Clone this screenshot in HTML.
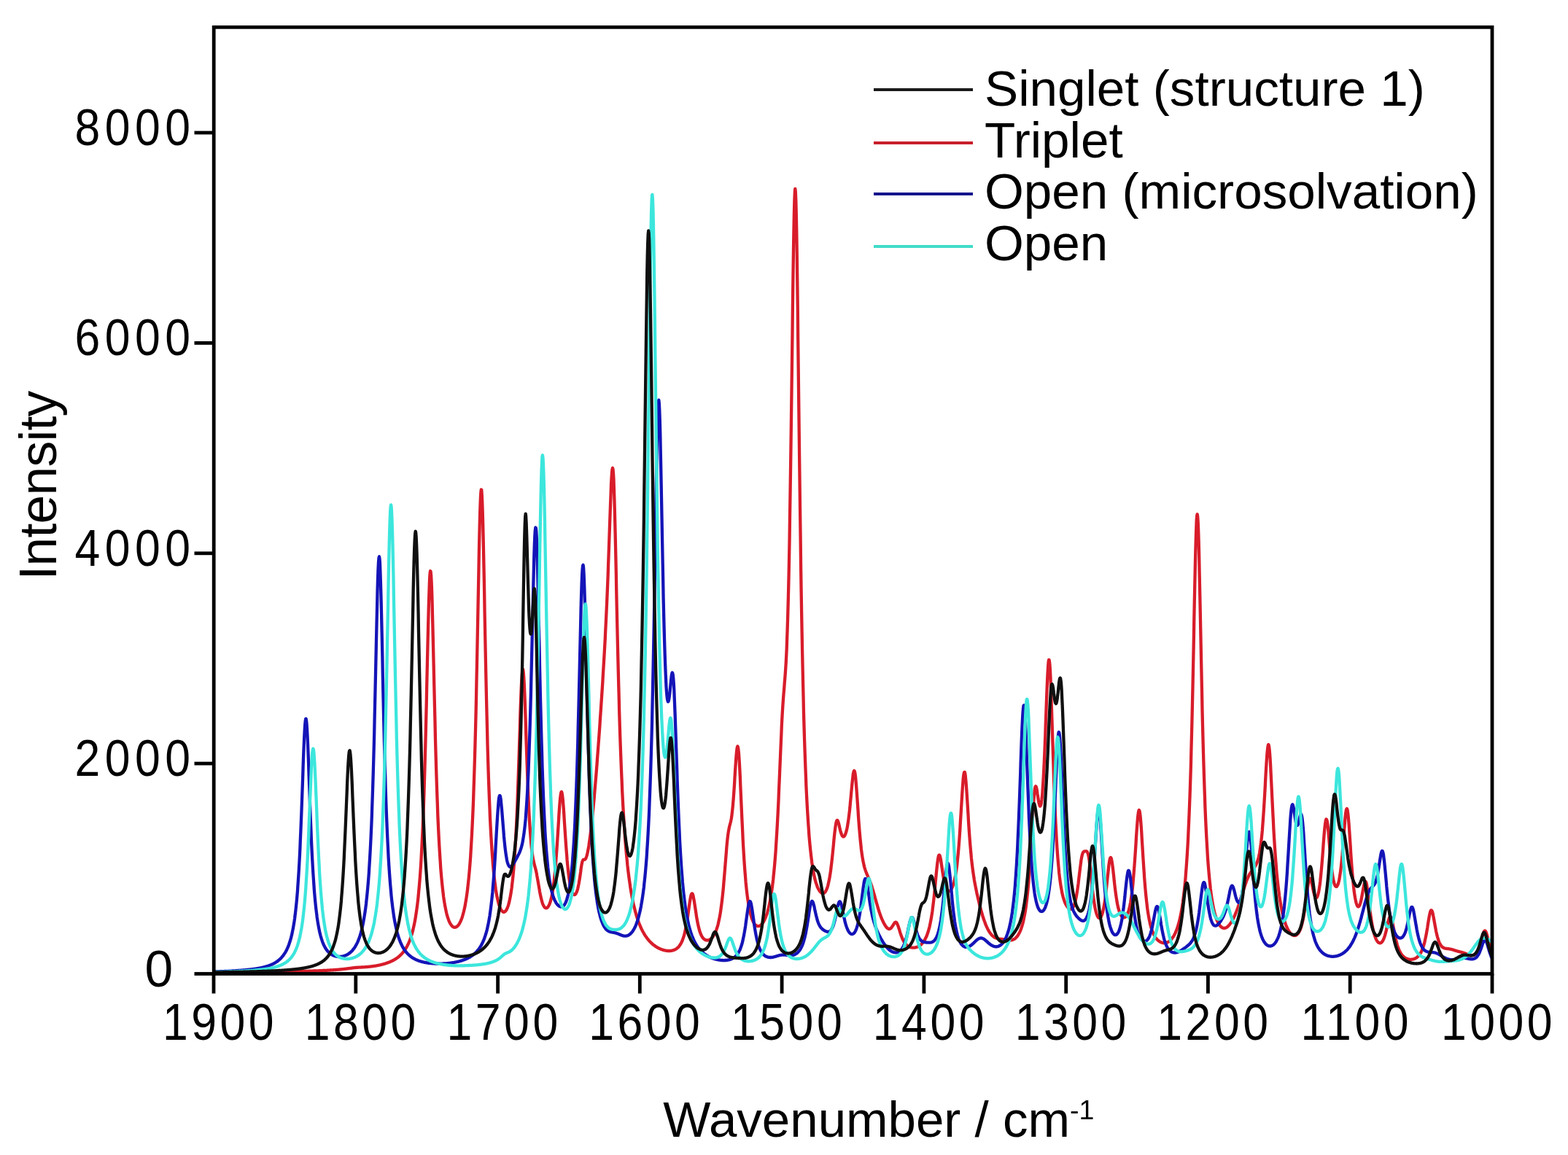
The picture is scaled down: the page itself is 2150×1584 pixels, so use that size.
<!DOCTYPE html>
<html><head><meta charset="utf-8"><title>Spectra</title><style>html,body{margin:0;padding:0;background:#fff;width:2150px;height:1584px;overflow:hidden;}svg{display:block;}</style></head><body>
<svg width="2150" height="1584" viewBox="0 0 2150 1584">
<defs><clipPath id="pc"><rect x="293.2" y="37.3" width="1752.8" height="1298.2"/></clipPath></defs>
<rect x="0" y="0" width="2150" height="1584" fill="#ffffff"/>
<g clip-path="url(#pc)" fill="none" stroke-linejoin="round" stroke-linecap="round">
<path d="M293.0,1333.7 L293.5,1333.7 L294.0,1333.7 L294.5,1333.7 L294.9,1333.7 L295.4,1333.7 L295.9,1333.7 L296.4,1333.7 L296.9,1333.7 L297.4,1333.7 L297.9,1333.7 L298.4,1333.7 L298.8,1333.7 L299.3,1333.7 L299.8,1333.7 L300.3,1333.7 L300.8,1333.7 L301.3,1333.7 L301.8,1333.7 L302.3,1333.7 L302.7,1333.7 L303.2,1333.7 L303.7,1333.7 L304.2,1333.7 L304.7,1333.7 L305.2,1333.7 L305.7,1333.6 L306.2,1333.6 L306.6,1333.6 L307.1,1333.6 L307.6,1333.6 L308.1,1333.6 L308.6,1333.6 L309.1,1333.6 L309.6,1333.6 L310.0,1333.6 L310.5,1333.6 L311.0,1333.6 L311.5,1333.6 L312.0,1333.6 L312.5,1333.6 L313.0,1333.6 L313.5,1333.6 L313.9,1333.6 L314.4,1333.6 L314.9,1333.6 L315.4,1333.6 L315.9,1333.6 L316.4,1333.6 L316.9,1333.5 L317.4,1333.5 L317.8,1333.5 L318.3,1333.5 L318.8,1333.5 L319.3,1333.5 L319.8,1333.5 L320.3,1333.5 L320.8,1333.5 L321.3,1333.5 L321.7,1333.5 L322.2,1333.5 L322.7,1333.5 L323.2,1333.5 L323.7,1333.5 L324.2,1333.5 L324.7,1333.5 L325.1,1333.5 L325.6,1333.5 L326.1,1333.5 L326.6,1333.5 L327.1,1333.4 L327.6,1333.4 L328.1,1333.4 L328.6,1333.4 L329.0,1333.4 L329.5,1333.4 L330.0,1333.4 L330.5,1333.4 L331.0,1333.4 L331.5,1333.4 L332.0,1333.4 L332.5,1333.4 L332.9,1333.4 L333.4,1333.4 L333.9,1333.4 L334.4,1333.4 L334.9,1333.4 L335.4,1333.4 L335.9,1333.4 L336.4,1333.4 L336.8,1333.3 L337.3,1333.3 L337.8,1333.3 L338.3,1333.3 L338.8,1333.3 L339.3,1333.3 L339.8,1333.3 L340.2,1333.3 L340.7,1333.3 L341.2,1333.3 L341.7,1333.3 L342.2,1333.3 L342.7,1333.3 L343.2,1333.3 L343.7,1333.3 L344.1,1333.3 L344.6,1333.3 L345.1,1333.2 L345.6,1333.2 L346.1,1333.2 L346.6,1333.2 L347.1,1333.2 L347.6,1333.2 L348.0,1333.2 L348.5,1333.2 L349.0,1333.2 L349.5,1333.2 L350.0,1333.2 L350.5,1333.2 L351.0,1333.2 L351.4,1333.2 L351.9,1333.2 L352.4,1333.2 L352.9,1333.2 L353.4,1333.1 L353.9,1333.1 L354.4,1333.1 L354.9,1333.1 L355.3,1333.1 L355.8,1333.1 L356.3,1333.1 L356.8,1333.1 L357.3,1333.1 L357.8,1333.1 L358.3,1333.1 L358.8,1333.1 L359.2,1333.1 L359.7,1333.1 L360.2,1333.1 L360.7,1333.0 L361.2,1333.0 L361.7,1333.0 L362.2,1333.0 L362.7,1333.0 L363.1,1333.0 L363.6,1333.0 L364.1,1333.0 L364.6,1333.0 L365.1,1333.0 L365.6,1333.0 L366.1,1333.0 L366.5,1333.0 L367.0,1333.0 L367.5,1332.9 L368.0,1332.9 L368.5,1332.9 L369.0,1332.9 L369.5,1332.9 L370.0,1332.9 L370.4,1332.9 L370.9,1332.9 L371.4,1332.9 L371.9,1332.9 L372.4,1332.9 L372.9,1332.9 L373.4,1332.9 L373.9,1332.9 L374.3,1332.8 L374.8,1332.8 L375.3,1332.8 L375.8,1332.8 L376.3,1332.8 L376.8,1332.8 L377.3,1332.8 L377.8,1332.8 L378.2,1332.8 L378.7,1332.8 L379.2,1332.8 L379.7,1332.8 L380.2,1332.7 L380.7,1332.7 L381.2,1332.7 L381.6,1332.7 L382.1,1332.7 L382.6,1332.7 L383.1,1332.7 L383.6,1332.7 L384.1,1332.7 L384.6,1332.7 L385.1,1332.7 L385.5,1332.7 L386.0,1332.6 L386.5,1332.6 L387.0,1332.6 L387.5,1332.6 L388.0,1332.6 L388.5,1332.6 L389.0,1332.6 L389.4,1332.6 L389.9,1332.6 L390.4,1332.6 L390.9,1332.5 L391.4,1332.5 L391.9,1332.5 L392.4,1332.5 L392.9,1332.5 L393.3,1332.5 L393.8,1332.5 L394.3,1332.5 L394.8,1332.5 L395.3,1332.5 L395.8,1332.5 L396.3,1332.4 L396.7,1332.4 L397.2,1332.4 L397.7,1332.4 L398.2,1332.4 L398.7,1332.4 L399.2,1332.4 L399.7,1332.4 L400.2,1332.4 L400.6,1332.3 L401.1,1332.3 L401.6,1332.3 L402.1,1332.3 L402.6,1332.3 L403.1,1332.3 L403.6,1332.3 L404.1,1332.3 L404.5,1332.3 L405.0,1332.2 L405.5,1332.2 L406.0,1332.2 L406.5,1332.2 L407.0,1332.2 L407.5,1332.2 L408.0,1332.2 L408.4,1332.2 L408.9,1332.2 L409.4,1332.1 L409.9,1332.1 L410.4,1332.1 L410.9,1332.1 L411.4,1332.1 L411.8,1332.1 L412.3,1332.1 L412.8,1332.1 L413.3,1332.0 L413.8,1332.0 L414.3,1332.0 L414.8,1332.0 L415.3,1332.0 L415.7,1332.0 L416.2,1332.0 L416.7,1331.9 L417.2,1331.9 L417.7,1331.9 L418.2,1331.9 L418.7,1331.9 L419.2,1331.9 L419.6,1331.9 L420.1,1331.8 L420.6,1331.8 L421.1,1331.8 L421.6,1331.8 L422.1,1331.8 L422.6,1331.8 L423.1,1331.8 L423.5,1331.7 L424.0,1331.7 L424.5,1331.7 L425.0,1331.7 L425.5,1331.7 L426.0,1331.7 L426.5,1331.7 L426.9,1331.6 L427.4,1331.6 L427.9,1331.6 L428.4,1331.6 L428.9,1331.6 L429.4,1331.6 L429.9,1331.5 L430.4,1331.5 L430.8,1331.5 L431.3,1331.5 L431.8,1331.5 L432.3,1331.4 L432.8,1331.4 L433.3,1331.4 L433.8,1331.4 L434.3,1331.4 L434.7,1331.4 L435.2,1331.3 L435.7,1331.3 L436.2,1331.3 L436.7,1331.3 L437.2,1331.3 L437.7,1331.2 L438.1,1331.2 L438.6,1331.2 L439.1,1331.2 L439.6,1331.2 L440.1,1331.1 L440.6,1331.1 L441.1,1331.1 L441.6,1331.1 L442.0,1331.1 L442.5,1331.0 L443.0,1331.0 L443.5,1331.0 L444.0,1331.0 L444.5,1330.9 L445.0,1330.9 L445.5,1330.9 L445.9,1330.9 L446.4,1330.8 L446.9,1330.8 L447.4,1330.8 L447.9,1330.8 L448.4,1330.8 L448.9,1330.7 L449.4,1330.7 L449.8,1330.7 L450.3,1330.6 L450.8,1330.6 L451.3,1330.6 L451.8,1330.6 L452.3,1330.5 L452.8,1330.5 L453.2,1330.5 L453.7,1330.4 L454.2,1330.4 L454.7,1330.4 L455.2,1330.4 L455.7,1330.3 L456.2,1330.3 L456.7,1330.3 L457.1,1330.2 L457.6,1330.2 L458.1,1330.2 L458.6,1330.1 L459.1,1330.1 L459.6,1330.1 L460.1,1330.0 L460.6,1330.0 L461.0,1330.0 L461.5,1329.9 L462.0,1329.9 L462.5,1329.8 L463.0,1329.8 L463.5,1329.8 L464.0,1329.7 L464.5,1329.7 L464.9,1329.6 L465.4,1329.6 L465.9,1329.5 L466.4,1329.5 L466.9,1329.5 L467.4,1329.4 L467.9,1329.4 L468.3,1329.3 L468.8,1329.3 L469.3,1329.2 L469.8,1329.2 L470.3,1329.1 L470.8,1329.1 L471.3,1329.0 L471.8,1328.9 L472.2,1328.9 L472.7,1328.8 L473.2,1328.8 L473.7,1328.7 L474.2,1328.7 L474.7,1328.6 L475.2,1328.5 L475.7,1328.5 L476.1,1328.4 L476.6,1328.4 L477.1,1328.3 L477.6,1328.2 L478.1,1328.2 L478.6,1328.1 L479.1,1328.0 L479.6,1328.0 L480.0,1327.9 L480.5,1327.8 L481.0,1327.8 L481.5,1327.7 L482.0,1327.6 L482.5,1327.6 L483.0,1327.5 L483.4,1327.5 L483.9,1327.4 L484.4,1327.4 L484.9,1327.3 L485.4,1327.2 L485.9,1327.2 L486.4,1327.1 L486.9,1327.1 L487.3,1327.0 L487.8,1327.0 L488.3,1327.0 L488.8,1326.9 L489.3,1326.9 L489.8,1326.8 L490.3,1326.8 L490.8,1326.8 L491.2,1326.7 L491.7,1326.7 L492.2,1326.7 L492.7,1326.7 L493.2,1326.6 L493.7,1326.6 L494.2,1326.6 L494.7,1326.6 L495.1,1326.5 L495.6,1326.5 L496.1,1326.5 L496.6,1326.5 L497.1,1326.4 L497.6,1326.4 L498.1,1326.4 L498.5,1326.4 L499.0,1326.3 L499.5,1326.3 L500.0,1326.3 L500.5,1326.2 L501.0,1326.2 L501.5,1326.2 L502.0,1326.1 L502.4,1326.1 L502.9,1326.1 L503.4,1326.0 L503.9,1326.0 L504.4,1325.9 L504.9,1325.9 L505.4,1325.8 L505.9,1325.8 L506.3,1325.7 L506.8,1325.7 L507.3,1325.6 L507.8,1325.6 L508.3,1325.5 L508.8,1325.5 L509.3,1325.4 L509.8,1325.4 L510.2,1325.3 L510.7,1325.2 L511.2,1325.2 L511.7,1325.1 L512.2,1325.0 L512.7,1324.9 L513.2,1324.9 L513.6,1324.8 L514.1,1324.7 L514.6,1324.6 L515.1,1324.6 L515.6,1324.5 L516.1,1324.4 L516.6,1324.3 L517.1,1324.2 L517.5,1324.1 L518.0,1324.0 L518.5,1323.9 L519.0,1323.8 L519.5,1323.7 L520.0,1323.6 L520.5,1323.5 L521.0,1323.4 L521.4,1323.3 L521.9,1323.2 L522.4,1323.1 L522.9,1323.0 L523.4,1322.8 L523.9,1322.7 L524.4,1322.6 L524.8,1322.5 L525.3,1322.3 L525.8,1322.2 L526.3,1322.1 L526.8,1321.9 L527.3,1321.8 L527.8,1321.6 L528.3,1321.5 L528.7,1321.3 L529.2,1321.2 L529.7,1321.0 L530.2,1320.8 L530.7,1320.7 L531.2,1320.5 L531.7,1320.3 L532.2,1320.1 L532.6,1320.0 L533.1,1319.8 L533.6,1319.6 L534.1,1319.4 L534.6,1319.2 L535.1,1319.0 L535.6,1318.8 L536.1,1318.5 L536.5,1318.3 L537.0,1318.1 L537.5,1317.9 L538.0,1317.6 L538.5,1317.4 L539.0,1317.1 L539.5,1316.9 L539.9,1316.6 L540.4,1316.3 L540.9,1316.0 L541.4,1315.7 L541.9,1315.5 L542.4,1315.1 L542.9,1314.8 L543.4,1314.5 L543.8,1314.2 L544.3,1313.8 L544.8,1313.5 L545.3,1313.1 L545.8,1312.8 L546.3,1312.4 L546.8,1312.0 L547.3,1311.6 L547.7,1311.1 L548.2,1310.7 L548.7,1310.3 L549.2,1309.8 L549.7,1309.3 L550.2,1308.8 L550.7,1308.3 L551.2,1307.8 L551.6,1307.2 L552.1,1306.7 L552.6,1306.1 L553.1,1305.5 L553.6,1304.9 L554.1,1304.2 L554.6,1303.5 L555.0,1302.9 L555.5,1302.1 L556.0,1301.4 L556.5,1300.6 L557.0,1299.8 L557.5,1298.9 L558.0,1298.1 L558.5,1297.1 L558.9,1296.2 L559.4,1295.2 L559.9,1294.2 L560.4,1293.1 L560.9,1291.9 L561.4,1290.8 L561.9,1289.5 L562.4,1288.2 L562.8,1286.9 L563.3,1285.5 L563.8,1284.0 L564.3,1282.4 L564.8,1280.8 L565.3,1279.1 L565.8,1277.2 L566.3,1275.3 L566.7,1273.3 L567.2,1271.2 L567.7,1269.0 L568.2,1266.6 L568.7,1264.1 L569.2,1261.5 L569.7,1258.7 L570.1,1255.8 L570.6,1252.6 L571.1,1249.3 L571.6,1245.7 L572.1,1242.0 L572.6,1238.0 L573.1,1233.7 L573.6,1229.1 L574.0,1224.3 L574.5,1219.0 L575.0,1213.5 L575.5,1207.5 L576.0,1201.1 L576.5,1194.2 L577.0,1186.9 L577.5,1178.9 L577.9,1170.4 L578.4,1161.2 L578.9,1151.4 L579.4,1140.8 L579.9,1129.4 L580.4,1117.1 L580.9,1103.9 L581.4,1089.8 L581.8,1074.6 L582.3,1058.4 L582.8,1041.2 L583.3,1022.9 L583.8,1003.6 L584.3,983.4 L584.8,962.3 L585.2,940.7 L585.7,918.8 L586.2,896.8 L586.7,875.3 L587.2,854.7 L587.7,835.6 L588.2,818.7 L588.7,804.4 L589.1,793.4 L589.6,786.2 L590.1,783.0 L590.6,784.0 L591.1,789.1 L591.6,798.2 L592.1,810.7 L592.6,826.2 L593.0,844.1 L593.5,863.8 L594.0,884.7 L594.5,906.2 L595.0,928.0 L595.5,949.5 L596.0,970.6 L596.5,990.9 L596.9,1010.4 L597.4,1028.8 L597.9,1046.3 L598.4,1062.7 L598.9,1078.0 L599.4,1092.3 L599.9,1105.7 L600.3,1118.1 L600.8,1129.6 L601.3,1140.2 L601.8,1150.1 L602.3,1159.3 L602.8,1167.8 L603.3,1175.7 L603.8,1183.0 L604.2,1189.8 L604.7,1196.0 L605.2,1201.9 L605.7,1207.3 L606.2,1212.3 L606.7,1217.0 L607.2,1221.3 L607.7,1225.4 L608.1,1229.2 L608.6,1232.7 L609.1,1235.9 L609.6,1239.0 L610.1,1241.8 L610.6,1244.4 L611.1,1246.9 L611.6,1249.2 L612.0,1251.3 L612.5,1253.3 L613.0,1255.1 L613.5,1256.8 L614.0,1258.4 L614.5,1259.9 L615.0,1261.3 L615.4,1262.5 L615.9,1263.7 L616.4,1264.8 L616.9,1265.7 L617.4,1266.6 L617.9,1267.4 L618.4,1268.2 L618.9,1268.8 L619.3,1269.4 L619.8,1269.9 L620.3,1270.4 L620.8,1270.8 L621.3,1271.1 L621.8,1271.4 L622.3,1271.6 L622.8,1271.7 L623.2,1271.8 L623.7,1271.8 L624.2,1271.7 L624.7,1271.6 L625.2,1271.5 L625.7,1271.2 L626.2,1271.0 L626.6,1270.6 L627.1,1270.2 L627.6,1269.7 L628.1,1269.2 L628.6,1268.6 L629.1,1267.9 L629.6,1267.2 L630.1,1266.4 L630.5,1265.5 L631.0,1264.6 L631.5,1263.6 L632.0,1262.4 L632.5,1261.2 L633.0,1260.0 L633.5,1258.6 L634.0,1257.1 L634.4,1255.5 L634.9,1253.8 L635.4,1252.0 L635.9,1250.1 L636.4,1248.0 L636.9,1245.8 L637.4,1243.5 L637.9,1241.0 L638.3,1238.3 L638.8,1235.5 L639.3,1232.5 L639.8,1229.2 L640.3,1225.8 L640.8,1222.1 L641.3,1218.1 L641.7,1213.9 L642.2,1209.4 L642.7,1204.6 L643.2,1199.4 L643.7,1193.9 L644.2,1187.9 L644.7,1181.5 L645.2,1174.7 L645.6,1167.3 L646.1,1159.4 L646.6,1150.9 L647.1,1141.7 L647.6,1131.8 L648.1,1121.2 L648.6,1109.7 L649.1,1097.4 L649.5,1084.1 L650.0,1069.7 L650.5,1054.3 L651.0,1037.8 L651.5,1020.0 L652.0,1001.1 L652.5,980.8 L653.0,959.3 L653.4,936.6 L653.9,912.8 L654.4,888.0 L654.9,862.4 L655.4,836.4 L655.9,810.2 L656.4,784.6 L656.8,759.9 L657.3,736.9 L657.8,716.3 L658.3,698.8 L658.8,685.2 L659.3,675.9 L659.8,671.4 L660.3,671.8 L660.7,677.3 L661.2,687.4 L661.7,701.8 L662.2,719.9 L662.7,741.0 L663.2,764.2 L663.7,789.0 L664.2,814.7 L664.6,840.7 L665.1,866.5 L665.6,891.8 L666.1,916.3 L666.6,939.7 L667.1,962.0 L667.6,983.1 L668.1,1002.9 L668.5,1021.5 L669.0,1038.8 L669.5,1054.9 L670.0,1069.9 L670.5,1083.8 L671.0,1096.8 L671.5,1108.7 L671.9,1119.8 L672.4,1130.1 L672.9,1139.7 L673.4,1148.5 L673.9,1156.7 L674.4,1164.3 L674.9,1171.3 L675.4,1177.9 L675.8,1184.0 L676.3,1189.6 L676.8,1194.8 L677.3,1199.7 L677.8,1204.2 L678.3,1208.4 L678.8,1212.3 L679.3,1216.0 L679.7,1219.3 L680.2,1222.5 L680.7,1225.4 L681.2,1228.1 L681.7,1230.6 L682.2,1232.9 L682.7,1235.0 L683.2,1237.0 L683.6,1238.8 L684.1,1240.5 L684.6,1242.0 L685.1,1243.4 L685.6,1244.6 L686.1,1245.8 L686.6,1246.8 L687.0,1247.7 L687.5,1248.4 L688.0,1249.1 L688.5,1249.6 L689.0,1250.1 L689.5,1250.4 L690.0,1250.7 L690.5,1250.8 L690.9,1250.8 L691.4,1250.7 L691.9,1250.5 L692.4,1250.2 L692.9,1249.8 L693.4,1249.3 L693.9,1248.6 L694.4,1247.9 L694.8,1247.0 L695.3,1246.0 L695.8,1244.8 L696.3,1243.5 L696.8,1242.1 L697.3,1240.5 L697.8,1238.7 L698.3,1236.8 L698.7,1234.6 L699.2,1232.3 L699.7,1229.8 L700.2,1227.0 L700.7,1224.0 L701.2,1220.7 L701.7,1217.2 L702.1,1213.4 L702.6,1209.2 L703.1,1204.7 L703.6,1199.8 L704.1,1194.5 L704.6,1188.7 L705.1,1182.5 L705.6,1175.8 L706.0,1168.5 L706.5,1160.6 L707.0,1152.1 L707.5,1143.0 L708.0,1133.1 L708.5,1122.6 L709.0,1111.2 L709.5,1099.1 L709.9,1086.3 L710.4,1072.7 L710.9,1058.5 L711.4,1043.7 L711.9,1028.5 L712.4,1013.0 L712.9,997.5 L713.3,982.4 L713.8,967.9 L714.3,954.5 L714.8,942.6 L715.3,932.6 L715.8,924.9 L716.3,919.8 L716.8,917.6 L717.2,918.3 L717.7,921.9 L718.2,928.2 L718.7,936.9 L719.2,947.7 L719.7,960.0 L720.2,973.6 L720.7,987.9 L721.1,1002.6 L721.6,1017.4 L722.1,1032.0 L722.6,1046.2 L723.1,1059.8 L723.6,1072.7 L724.1,1084.8 L724.6,1096.2 L725.0,1106.7 L725.5,1116.4 L726.0,1125.3 L726.5,1133.4 L727.0,1140.8 L727.5,1147.4 L728.0,1153.4 L728.4,1158.7 L728.9,1163.4 L729.4,1167.6 L729.9,1171.3 L730.4,1174.5 L730.9,1177.4 L731.4,1179.8 L731.9,1182.1 L732.3,1184.1 L732.8,1186.0 L733.3,1187.8 L733.8,1189.7 L734.3,1191.6 L734.8,1193.6 L735.3,1195.8 L735.8,1198.1 L736.2,1200.6 L736.7,1203.3 L737.2,1206.1 L737.7,1208.9 L738.2,1211.8 L738.7,1214.7 L739.2,1217.6 L739.7,1220.4 L740.1,1223.1 L740.6,1225.6 L741.1,1228.1 L741.6,1230.3 L742.1,1232.4 L742.6,1234.3 L743.1,1236.1 L743.5,1237.6 L744.0,1239.1 L744.5,1240.3 L745.0,1241.4 L745.5,1242.4 L746.0,1243.2 L746.5,1243.9 L747.0,1244.4 L747.4,1244.8 L747.9,1245.1 L748.4,1245.3 L748.9,1245.4 L749.4,1245.3 L749.9,1245.1 L750.4,1244.8 L750.9,1244.4 L751.3,1243.8 L751.8,1243.2 L752.3,1242.4 L752.8,1241.4 L753.3,1240.4 L753.8,1239.1 L754.3,1237.8 L754.8,1236.2 L755.2,1234.5 L755.7,1232.6 L756.2,1230.6 L756.7,1228.3 L757.2,1225.7 L757.7,1223.0 L758.2,1219.9 L758.6,1216.6 L759.1,1213.0 L759.6,1209.1 L760.1,1204.8 L760.6,1200.1 L761.1,1195.1 L761.6,1189.7 L762.1,1183.9 L762.5,1177.7 L763.0,1171.1 L763.5,1164.1 L764.0,1156.8 L764.5,1149.1 L765.0,1141.3 L765.5,1133.3 L766.0,1125.4 L766.4,1117.7 L766.9,1110.3 L767.4,1103.5 L767.9,1097.6 L768.4,1092.7 L768.9,1089.0 L769.4,1086.7 L769.9,1085.9 L770.3,1086.6 L770.8,1088.8 L771.3,1092.4 L771.8,1097.1 L772.3,1102.9 L772.8,1109.4 L773.3,1116.5 L773.7,1124.0 L774.2,1131.6 L774.7,1139.2 L775.2,1146.7 L775.7,1154.0 L776.2,1160.9 L776.7,1167.5 L777.2,1173.7 L777.6,1179.5 L778.1,1184.9 L778.6,1189.9 L779.1,1194.5 L779.6,1198.7 L780.1,1202.5 L780.6,1206.0 L781.1,1209.1 L781.5,1212.0 L782.0,1214.5 L782.5,1216.8 L783.0,1218.8 L783.5,1220.6 L784.0,1222.1 L784.5,1223.4 L785.0,1224.5 L785.4,1225.4 L785.9,1226.1 L786.4,1226.6 L786.9,1227.0 L787.4,1227.1 L787.9,1227.1 L788.4,1226.9 L788.8,1226.5 L789.3,1226.0 L789.8,1225.2 L790.3,1224.3 L790.8,1223.2 L791.3,1221.8 L791.8,1220.3 L792.3,1218.5 L792.7,1216.4 L793.2,1214.1 L793.7,1211.6 L794.2,1208.7 L794.7,1205.7 L795.2,1202.4 L795.7,1198.9 L796.2,1195.3 L796.6,1191.8 L797.1,1188.5 L797.6,1185.5 L798.1,1183.1 L798.6,1181.2 L799.1,1179.9 L799.6,1179.2 L800.1,1178.9 L800.5,1178.8 L801.0,1178.9 L801.5,1178.8 L802.0,1178.7 L802.5,1178.3 L803.0,1177.7 L803.5,1176.8 L803.9,1175.6 L804.4,1174.1 L804.9,1172.3 L805.4,1170.3 L805.9,1168.0 L806.4,1165.5 L806.9,1162.8 L807.4,1159.8 L807.8,1156.7 L808.3,1153.3 L808.8,1149.8 L809.3,1146.1 L809.8,1142.2 L810.3,1138.1 L810.8,1133.9 L811.3,1129.5 L811.7,1124.9 L812.2,1120.2 L812.7,1115.4 L813.2,1110.4 L813.7,1105.3 L814.2,1100.0 L814.7,1094.6 L815.1,1089.1 L815.6,1083.4 L816.1,1077.6 L816.6,1071.8 L817.1,1065.8 L817.6,1059.7 L818.1,1053.5 L818.6,1047.2 L819.0,1040.8 L819.5,1034.4 L820.0,1027.8 L820.5,1021.2 L821.0,1014.5 L821.5,1007.7 L822.0,1000.8 L822.5,993.8 L822.9,986.7 L823.4,979.6 L823.9,972.3 L824.4,965.0 L824.9,957.6 L825.4,950.0 L825.9,942.4 L826.4,934.6 L826.8,926.7 L827.3,918.6 L827.8,910.4 L828.3,902.0 L828.8,893.3 L829.3,884.4 L829.8,875.3 L830.2,865.8 L830.7,856.0 L831.2,845.8 L831.7,835.2 L832.2,824.1 L832.7,812.4 L833.2,800.3 L833.7,787.7 L834.1,774.5 L834.6,760.8 L835.1,746.8 L835.6,732.4 L836.1,718.0 L836.6,703.8 L837.1,690.1 L837.6,677.2 L838.0,665.6 L838.5,655.8 L839.0,648.3 L839.5,643.5 L840.0,641.8 L840.5,643.6 L841.0,648.9 L841.5,657.7 L841.9,669.8 L842.4,685.0 L842.9,702.7 L843.4,722.6 L843.9,744.0 L844.4,766.4 L844.9,789.5 L845.3,812.7 L845.8,835.8 L846.3,858.4 L846.8,880.3 L847.3,901.5 L847.8,921.7 L848.3,941.0 L848.8,959.2 L849.2,976.5 L849.7,992.8 L850.2,1008.2 L850.7,1022.6 L851.2,1036.2 L851.7,1049.0 L852.2,1061.0 L852.7,1072.3 L853.1,1082.9 L853.6,1092.9 L854.1,1102.4 L854.6,1111.2 L855.1,1119.6 L855.6,1127.5 L856.1,1134.9 L856.6,1142.0 L857.0,1148.7 L857.5,1155.0 L858.0,1161.0 L858.5,1166.6 L859.0,1172.0 L859.5,1177.1 L860.0,1182.0 L860.4,1186.7 L860.9,1191.1 L861.4,1195.3 L861.9,1199.3 L862.4,1203.1 L862.9,1206.8 L863.4,1210.3 L863.9,1213.6 L864.3,1216.8 L864.8,1219.9 L865.3,1222.8 L865.8,1225.7 L866.3,1228.4 L866.8,1231.0 L867.3,1233.5 L867.8,1235.9 L868.2,1238.2 L868.7,1240.4 L869.2,1242.5 L869.7,1244.6 L870.2,1246.6 L870.7,1248.5 L871.2,1250.3 L871.7,1252.1 L872.1,1253.8 L872.6,1255.4 L873.1,1257.0 L873.6,1258.6 L874.1,1260.1 L874.6,1261.5 L875.1,1262.9 L875.5,1264.3 L876.0,1265.6 L876.5,1266.8 L877.0,1268.0 L877.5,1269.2 L878.0,1270.4 L878.5,1271.5 L879.0,1272.6 L879.4,1273.6 L879.9,1274.6 L880.4,1275.6 L880.9,1276.5 L881.4,1277.5 L881.9,1278.4 L882.4,1279.2 L882.9,1280.1 L883.3,1280.9 L883.8,1281.7 L884.3,1282.5 L884.8,1283.2 L885.3,1283.9 L885.8,1284.7 L886.3,1285.3 L886.8,1286.0 L887.2,1286.7 L887.7,1287.3 L888.2,1287.9 L888.7,1288.5 L889.2,1289.1 L889.7,1289.7 L890.2,1290.2 L890.6,1290.8 L891.1,1291.3 L891.6,1291.8 L892.1,1292.3 L892.6,1292.8 L893.1,1293.2 L893.6,1293.7 L894.1,1294.1 L894.5,1294.5 L895.0,1295.0 L895.5,1295.4 L896.0,1295.8 L896.5,1296.1 L897.0,1296.5 L897.5,1296.9 L898.0,1297.2 L898.4,1297.6 L898.9,1297.9 L899.4,1298.2 L899.9,1298.5 L900.4,1298.8 L900.9,1299.1 L901.4,1299.4 L901.8,1299.7 L902.3,1299.9 L902.8,1300.2 L903.3,1300.5 L903.8,1300.7 L904.3,1300.9 L904.8,1301.1 L905.3,1301.4 L905.7,1301.6 L906.2,1301.8 L906.7,1302.0 L907.2,1302.1 L907.7,1302.3 L908.2,1302.5 L908.7,1302.6 L909.2,1302.8 L909.6,1302.9 L910.1,1303.1 L910.6,1303.2 L911.1,1303.3 L911.6,1303.4 L912.1,1303.5 L912.6,1303.6 L913.1,1303.7 L913.5,1303.8 L914.0,1303.8 L914.5,1303.9 L915.0,1304.0 L915.5,1304.0 L916.0,1304.0 L916.5,1304.0 L916.9,1304.1 L917.4,1304.1 L917.9,1304.1 L918.4,1304.0 L918.9,1304.0 L919.4,1304.0 L919.9,1303.9 L920.4,1303.9 L920.8,1303.8 L921.3,1303.7 L921.8,1303.6 L922.3,1303.5 L922.8,1303.3 L923.3,1303.2 L923.8,1303.0 L924.3,1302.8 L924.7,1302.6 L925.2,1302.4 L925.7,1302.2 L926.2,1301.9 L926.7,1301.6 L927.2,1301.3 L927.7,1301.0 L928.2,1300.6 L928.6,1300.2 L929.1,1299.8 L929.6,1299.4 L930.1,1298.9 L930.6,1298.4 L931.1,1297.8 L931.6,1297.2 L932.0,1296.5 L932.5,1295.8 L933.0,1295.0 L933.5,1294.2 L934.0,1293.3 L934.5,1292.3 L935.0,1291.3 L935.5,1290.2 L935.9,1289.0 L936.4,1287.6 L936.9,1286.2 L937.4,1284.7 L937.9,1283.1 L938.4,1281.3 L938.9,1279.4 L939.4,1277.3 L939.8,1275.1 L940.3,1272.7 L940.8,1270.2 L941.3,1267.5 L941.8,1264.6 L942.3,1261.6 L942.8,1258.4 L943.3,1255.0 L943.7,1251.6 L944.2,1248.1 L944.7,1244.6 L945.2,1241.1 L945.7,1237.8 L946.2,1234.6 L946.7,1231.8 L947.1,1229.4 L947.6,1227.5 L948.1,1226.2 L948.6,1225.5 L949.1,1225.4 L949.6,1226.0 L950.1,1227.2 L950.6,1229.0 L951.0,1231.3 L951.5,1233.9 L952.0,1236.9 L952.5,1240.0 L953.0,1243.3 L953.5,1246.6 L954.0,1249.9 L954.5,1253.1 L954.9,1256.2 L955.4,1259.1 L955.9,1261.9 L956.4,1264.5 L956.9,1267.0 L957.4,1269.3 L957.9,1271.4 L958.4,1273.3 L958.8,1275.1 L959.3,1276.7 L959.8,1278.2 L960.3,1279.6 L960.8,1280.8 L961.3,1282.0 L961.8,1283.0 L962.2,1283.9 L962.7,1284.7 L963.2,1285.5 L963.7,1286.1 L964.2,1286.7 L964.7,1287.2 L965.2,1287.7 L965.7,1288.1 L966.1,1288.4 L966.6,1288.7 L967.1,1289.0 L967.6,1289.2 L968.1,1289.3 L968.6,1289.4 L969.1,1289.5 L969.6,1289.5 L970.0,1289.5 L970.5,1289.4 L971.0,1289.4 L971.5,1289.2 L972.0,1289.1 L972.5,1288.9 L973.0,1288.7 L973.5,1288.4 L973.9,1288.1 L974.4,1287.8 L974.9,1287.4 L975.4,1287.0 L975.9,1286.5 L976.4,1286.0 L976.9,1285.4 L977.3,1284.8 L977.8,1284.2 L978.3,1283.4 L978.8,1282.7 L979.3,1281.8 L979.8,1280.9 L980.3,1280.0 L980.8,1278.9 L981.2,1277.8 L981.7,1276.6 L982.2,1275.3 L982.7,1273.9 L983.2,1272.4 L983.7,1270.8 L984.2,1269.1 L984.7,1267.2 L985.1,1265.2 L985.6,1263.1 L986.1,1260.8 L986.6,1258.3 L987.1,1255.6 L987.6,1252.8 L988.1,1249.7 L988.5,1246.4 L989.0,1242.9 L989.5,1239.1 L990.0,1235.0 L990.5,1230.7 L991.0,1226.1 L991.5,1221.2 L992.0,1216.0 L992.4,1210.6 L992.9,1204.9 L993.4,1199.0 L993.9,1192.9 L994.4,1186.8 L994.9,1180.5 L995.4,1174.4 L995.9,1168.4 L996.3,1162.6 L996.8,1157.2 L997.3,1152.3 L997.8,1147.9 L998.3,1144.0 L998.8,1140.7 L999.3,1137.9 L999.8,1135.5 L1000.2,1133.4 L1000.7,1131.6 L1001.2,1129.7 L1001.7,1127.8 L1002.2,1125.7 L1002.7,1123.2 L1003.2,1120.2 L1003.6,1116.7 L1004.1,1112.6 L1004.6,1107.8 L1005.1,1102.3 L1005.6,1096.2 L1006.1,1089.4 L1006.6,1082.2 L1007.1,1074.5 L1007.5,1066.5 L1008.0,1058.5 L1008.5,1050.6 L1009.0,1043.3 L1009.5,1036.6 L1010.0,1031.1 L1010.5,1026.9 L1011.0,1024.3 L1011.4,1023.5 L1011.9,1024.6 L1012.4,1027.6 L1012.9,1032.5 L1013.4,1039.1 L1013.9,1047.2 L1014.4,1056.4 L1014.9,1066.5 L1015.3,1077.3 L1015.8,1088.4 L1016.3,1099.6 L1016.8,1110.7 L1017.3,1121.6 L1017.8,1132.2 L1018.3,1142.3 L1018.7,1151.8 L1019.2,1160.9 L1019.7,1169.4 L1020.2,1177.4 L1020.7,1184.9 L1021.2,1191.8 L1021.7,1198.2 L1022.2,1204.2 L1022.6,1209.7 L1023.1,1214.8 L1023.6,1219.6 L1024.1,1224.0 L1024.6,1228.0 L1025.1,1231.8 L1025.6,1235.2 L1026.1,1238.4 L1026.5,1241.4 L1027.0,1244.1 L1027.5,1246.7 L1028.0,1249.0 L1028.5,1251.1 L1029.0,1253.1 L1029.5,1255.0 L1030.0,1256.6 L1030.4,1258.2 L1030.9,1259.6 L1031.4,1260.9 L1031.9,1262.1 L1032.4,1263.2 L1032.9,1264.2 L1033.4,1265.1 L1033.8,1265.9 L1034.3,1266.7 L1034.8,1267.3 L1035.3,1267.9 L1035.8,1268.4 L1036.3,1268.9 L1036.8,1269.2 L1037.3,1269.5 L1037.7,1269.8 L1038.2,1270.0 L1038.7,1270.1 L1039.2,1270.2 L1039.7,1270.2 L1040.2,1270.1 L1040.7,1270.0 L1041.2,1269.9 L1041.6,1269.7 L1042.1,1269.4 L1042.6,1269.1 L1043.1,1268.8 L1043.6,1268.4 L1044.1,1267.9 L1044.6,1267.4 L1045.1,1266.8 L1045.5,1266.2 L1046.0,1265.5 L1046.5,1264.8 L1047.0,1264.0 L1047.5,1263.1 L1048.0,1262.2 L1048.5,1261.2 L1048.9,1260.1 L1049.4,1259.0 L1049.9,1257.8 L1050.4,1256.5 L1050.9,1255.1 L1051.4,1253.7 L1051.9,1252.2 L1052.4,1250.5 L1052.8,1248.8 L1053.3,1247.0 L1053.8,1245.1 L1054.3,1243.0 L1054.8,1240.8 L1055.3,1238.5 L1055.8,1236.1 L1056.3,1233.5 L1056.7,1230.7 L1057.2,1227.8 L1057.7,1224.7 L1058.2,1221.4 L1058.7,1217.9 L1059.2,1214.2 L1059.7,1210.2 L1060.2,1206.0 L1060.6,1201.5 L1061.1,1196.7 L1061.6,1191.6 L1062.1,1186.2 L1062.6,1180.4 L1063.1,1174.2 L1063.6,1167.6 L1064.0,1160.5 L1064.5,1153.0 L1065.0,1145.0 L1065.5,1136.5 L1066.0,1127.6 L1066.5,1118.1 L1067.0,1108.1 L1067.5,1097.6 L1067.9,1086.6 L1068.4,1075.3 L1068.9,1063.8 L1069.4,1052.0 L1069.9,1040.1 L1070.4,1028.4 L1070.9,1016.9 L1071.4,1005.9 L1071.8,995.4 L1072.3,985.7 L1072.8,976.8 L1073.3,968.6 L1073.8,961.3 L1074.3,954.6 L1074.8,948.5 L1075.3,942.7 L1075.7,936.9 L1076.2,931.0 L1076.7,924.6 L1077.2,917.4 L1077.7,909.4 L1078.2,900.1 L1078.7,889.6 L1079.1,877.4 L1079.6,863.6 L1080.1,847.9 L1080.6,830.3 L1081.1,810.6 L1081.6,788.7 L1082.1,764.5 L1082.6,738.1 L1083.0,709.3 L1083.5,678.3 L1084.0,645.1 L1084.5,609.9 L1085.0,573.0 L1085.5,534.8 L1086.0,495.7 L1086.5,456.6 L1086.9,418.1 L1087.4,381.4 L1087.9,347.5 L1088.4,317.6 L1088.9,292.8 L1089.4,274.2 L1089.9,262.7 L1090.3,258.8 L1090.8,262.8 L1091.3,274.5 L1091.8,293.6 L1092.3,319.1 L1092.8,350.2 L1093.3,385.6 L1093.8,424.3 L1094.2,465.1 L1094.7,507.0 L1095.2,549.1 L1095.7,590.8 L1096.2,631.5 L1096.7,670.8 L1097.2,708.3 L1097.7,744.0 L1098.1,777.6 L1098.6,809.2 L1099.1,838.7 L1099.6,866.3 L1100.1,892.0 L1100.6,915.9 L1101.1,938.1 L1101.6,958.7 L1102.0,977.9 L1102.5,995.6 L1103.0,1012.0 L1103.5,1027.3 L1104.0,1041.4 L1104.5,1054.6 L1105.0,1066.8 L1105.4,1078.1 L1105.9,1088.6 L1106.4,1098.4 L1106.9,1107.5 L1107.4,1116.0 L1107.9,1123.9 L1108.4,1131.3 L1108.9,1138.1 L1109.3,1144.5 L1109.8,1150.5 L1110.3,1156.1 L1110.8,1161.3 L1111.3,1166.1 L1111.8,1170.6 L1112.3,1174.9 L1112.8,1178.8 L1113.2,1182.5 L1113.7,1185.9 L1114.2,1189.1 L1114.7,1192.1 L1115.2,1194.9 L1115.7,1197.5 L1116.2,1200.0 L1116.7,1202.2 L1117.1,1204.4 L1117.6,1206.3 L1118.1,1208.2 L1118.6,1209.9 L1119.1,1211.5 L1119.6,1212.9 L1120.1,1214.3 L1120.5,1215.6 L1121.0,1216.8 L1121.5,1217.9 L1122.0,1218.9 L1122.5,1219.8 L1123.0,1220.6 L1123.5,1221.4 L1124.0,1222.1 L1124.4,1222.8 L1124.9,1223.3 L1125.4,1223.8 L1125.9,1224.2 L1126.4,1224.6 L1126.9,1224.9 L1127.4,1225.1 L1127.9,1225.2 L1128.3,1225.2 L1128.8,1225.2 L1129.3,1225.1 L1129.8,1224.8 L1130.3,1224.5 L1130.8,1224.1 L1131.3,1223.6 L1131.8,1222.9 L1132.2,1222.2 L1132.7,1221.3 L1133.2,1220.2 L1133.7,1219.1 L1134.2,1217.7 L1134.7,1216.2 L1135.2,1214.5 L1135.6,1212.7 L1136.1,1210.6 L1136.6,1208.3 L1137.1,1205.8 L1137.6,1203.1 L1138.1,1200.1 L1138.6,1196.9 L1139.1,1193.4 L1139.5,1189.7 L1140.0,1185.7 L1140.5,1181.5 L1141.0,1177.0 L1141.5,1172.3 L1142.0,1167.4 L1142.5,1162.4 L1143.0,1157.3 L1143.4,1152.3 L1143.9,1147.4 L1144.4,1142.7 L1144.9,1138.4 L1145.4,1134.5 L1145.9,1131.2 L1146.4,1128.6 L1146.9,1126.6 L1147.3,1125.4 L1147.8,1124.9 L1148.3,1125.0 L1148.8,1125.8 L1149.3,1127.0 L1149.8,1128.7 L1150.3,1130.5 L1150.7,1132.6 L1151.2,1134.7 L1151.7,1136.8 L1152.2,1138.8 L1152.7,1140.6 L1153.2,1142.3 L1153.7,1143.7 L1154.2,1144.9 L1154.6,1145.9 L1155.1,1146.6 L1155.6,1147.1 L1156.1,1147.4 L1156.6,1147.4 L1157.1,1147.3 L1157.6,1146.8 L1158.1,1146.2 L1158.5,1145.4 L1159.0,1144.3 L1159.5,1143.1 L1160.0,1141.6 L1160.5,1139.8 L1161.0,1137.9 L1161.5,1135.7 L1162.0,1133.2 L1162.4,1130.4 L1162.9,1127.3 L1163.4,1124.0 L1163.9,1120.3 L1164.4,1116.3 L1164.9,1111.9 L1165.4,1107.3 L1165.8,1102.4 L1166.3,1097.2 L1166.8,1091.9 L1167.3,1086.4 L1167.8,1081.0 L1168.3,1075.8 L1168.8,1070.8 L1169.3,1066.4 L1169.7,1062.6 L1170.2,1059.7 L1170.7,1057.8 L1171.2,1057.1 L1171.7,1057.6 L1172.2,1059.4 L1172.7,1062.4 L1173.2,1066.5 L1173.6,1071.6 L1174.1,1077.5 L1174.6,1084.0 L1175.1,1090.9 L1175.6,1098.1 L1176.1,1105.4 L1176.6,1112.6 L1177.0,1119.7 L1177.5,1126.5 L1178.0,1133.0 L1178.5,1139.1 L1179.0,1144.9 L1179.5,1150.3 L1180.0,1155.3 L1180.5,1160.0 L1180.9,1164.2 L1181.4,1168.1 L1181.9,1171.7 L1182.4,1175.0 L1182.9,1177.9 L1183.4,1180.7 L1183.9,1183.1 L1184.4,1185.4 L1184.8,1187.4 L1185.3,1189.3 L1185.8,1191.0 L1186.3,1192.6 L1186.8,1194.0 L1187.3,1195.4 L1187.8,1196.7 L1188.3,1197.9 L1188.7,1199.0 L1189.2,1200.1 L1189.7,1201.2 L1190.2,1202.3 L1190.7,1203.4 L1191.2,1204.5 L1191.7,1205.7 L1192.1,1206.9 L1192.6,1208.1 L1193.1,1209.3 L1193.6,1210.6 L1194.1,1211.9 L1194.6,1213.3 L1195.1,1214.8 L1195.6,1216.3 L1196.0,1217.8 L1196.5,1219.4 L1197.0,1221.0 L1197.5,1222.7 L1198.0,1224.4 L1198.5,1226.1 L1199.0,1227.8 L1199.5,1229.6 L1199.9,1231.3 L1200.4,1233.1 L1200.9,1234.8 L1201.4,1236.6 L1201.9,1238.3 L1202.4,1240.0 L1202.9,1241.7 L1203.4,1243.4 L1203.8,1245.0 L1204.3,1246.6 L1204.8,1248.2 L1205.3,1249.7 L1205.8,1251.2 L1206.3,1252.6 L1206.8,1254.0 L1207.2,1255.3 L1207.7,1256.6 L1208.2,1257.9 L1208.7,1259.1 L1209.2,1260.3 L1209.7,1261.4 L1210.2,1262.5 L1210.7,1263.5 L1211.1,1264.5 L1211.6,1265.5 L1212.1,1266.4 L1212.6,1267.3 L1213.1,1268.2 L1213.6,1269.0 L1214.1,1269.8 L1214.6,1270.5 L1215.0,1271.1 L1215.5,1271.7 L1216.0,1272.3 L1216.5,1272.7 L1217.0,1273.1 L1217.5,1273.4 L1218.0,1273.7 L1218.5,1273.9 L1218.9,1274.0 L1219.4,1274.0 L1219.9,1273.9 L1220.4,1273.7 L1220.9,1273.4 L1221.4,1273.1 L1221.9,1272.7 L1222.3,1272.1 L1222.8,1271.5 L1223.3,1270.8 L1223.8,1270.1 L1224.3,1269.3 L1224.8,1268.5 L1225.3,1267.7 L1225.8,1266.9 L1226.2,1266.2 L1226.7,1265.6 L1227.2,1265.1 L1227.7,1264.8 L1228.2,1264.7 L1228.7,1264.8 L1229.2,1265.2 L1229.7,1265.8 L1230.1,1266.7 L1230.6,1267.7 L1231.1,1269.0 L1231.6,1270.3 L1232.1,1271.8 L1232.6,1273.4 L1233.1,1274.9 L1233.6,1276.5 L1234.0,1278.1 L1234.5,1279.6 L1235.0,1281.1 L1235.5,1282.5 L1236.0,1283.9 L1236.5,1285.1 L1237.0,1286.3 L1237.4,1287.5 L1237.9,1288.5 L1238.4,1289.5 L1238.9,1290.4 L1239.4,1291.3 L1239.9,1292.1 L1240.4,1292.8 L1240.9,1293.5 L1241.3,1294.1 L1241.8,1294.7 L1242.3,1295.2 L1242.8,1295.7 L1243.3,1296.2 L1243.8,1296.6 L1244.3,1297.0 L1244.8,1297.3 L1245.2,1297.6 L1245.7,1297.9 L1246.2,1298.2 L1246.7,1298.4 L1247.2,1298.7 L1247.7,1298.8 L1248.2,1299.0 L1248.7,1299.2 L1249.1,1299.3 L1249.6,1299.4 L1250.1,1299.5 L1250.6,1299.6 L1251.1,1299.6 L1251.6,1299.7 L1252.1,1299.7 L1252.5,1299.7 L1253.0,1299.7 L1253.5,1299.7 L1254.0,1299.6 L1254.5,1299.5 L1255.0,1299.5 L1255.5,1299.4 L1256.0,1299.2 L1256.4,1299.1 L1256.9,1299.0 L1257.4,1298.8 L1257.9,1298.6 L1258.4,1298.4 L1258.9,1298.2 L1259.4,1297.9 L1259.9,1297.7 L1260.3,1297.4 L1260.8,1297.1 L1261.3,1296.7 L1261.8,1296.4 L1262.3,1296.0 L1262.8,1295.5 L1263.3,1295.1 L1263.7,1294.6 L1264.2,1294.1 L1264.7,1293.6 L1265.2,1293.0 L1265.7,1292.4 L1266.2,1291.7 L1266.7,1291.0 L1267.2,1290.3 L1267.6,1289.5 L1268.1,1288.7 L1268.6,1287.8 L1269.1,1286.8 L1269.6,1285.8 L1270.1,1284.8 L1270.6,1283.6 L1271.1,1282.4 L1271.5,1281.1 L1272.0,1279.7 L1272.5,1278.2 L1273.0,1276.6 L1273.5,1274.9 L1274.0,1273.1 L1274.5,1271.2 L1275.0,1269.1 L1275.4,1266.9 L1275.9,1264.5 L1276.4,1261.9 L1276.9,1259.2 L1277.4,1256.2 L1277.9,1253.1 L1278.4,1249.8 L1278.8,1246.2 L1279.3,1242.4 L1279.8,1238.3 L1280.3,1234.0 L1280.8,1229.5 L1281.3,1224.7 L1281.8,1219.8 L1282.3,1214.7 L1282.7,1209.5 L1283.2,1204.2 L1283.7,1199.0 L1284.2,1194.0 L1284.7,1189.2 L1285.2,1184.8 L1285.7,1180.9 L1286.2,1177.7 L1286.6,1175.2 L1287.1,1173.5 L1287.6,1172.6 L1288.1,1172.6 L1288.6,1173.4 L1289.1,1174.9 L1289.6,1177.1 L1290.1,1179.7 L1290.5,1182.7 L1291.0,1185.9 L1291.5,1189.3 L1292.0,1192.7 L1292.5,1196.1 L1293.0,1199.3 L1293.5,1202.4 L1293.9,1205.2 L1294.4,1207.9 L1294.9,1210.2 L1295.4,1212.4 L1295.9,1214.3 L1296.4,1216.0 L1296.9,1217.4 L1297.4,1218.7 L1297.8,1219.7 L1298.3,1220.5 L1298.8,1221.2 L1299.3,1221.7 L1299.8,1222.0 L1300.3,1222.3 L1300.8,1222.3 L1301.3,1222.3 L1301.7,1222.1 L1302.2,1221.8 L1302.7,1221.5 L1303.2,1221.0 L1303.7,1220.4 L1304.2,1219.7 L1304.7,1218.9 L1305.2,1218.0 L1305.6,1217.0 L1306.1,1215.9 L1306.6,1214.6 L1307.1,1213.2 L1307.6,1211.7 L1308.1,1210.0 L1308.6,1208.1 L1309.0,1206.0 L1309.5,1203.7 L1310.0,1201.2 L1310.5,1198.3 L1311.0,1195.3 L1311.5,1191.9 L1312.0,1188.2 L1312.5,1184.1 L1312.9,1179.6 L1313.4,1174.8 L1313.9,1169.5 L1314.4,1163.8 L1314.9,1157.7 L1315.4,1151.1 L1315.9,1144.1 L1316.4,1136.7 L1316.8,1128.9 L1317.3,1120.8 L1317.8,1112.6 L1318.3,1104.2 L1318.8,1096.0 L1319.3,1088.0 L1319.8,1080.6 L1320.3,1073.9 L1320.7,1068.1 L1321.2,1063.6 L1321.7,1060.5 L1322.2,1058.8 L1322.7,1058.8 L1323.2,1060.3 L1323.7,1063.4 L1324.1,1067.8 L1324.6,1073.4 L1325.1,1079.9 L1325.6,1087.1 L1326.1,1094.8 L1326.6,1102.8 L1327.1,1110.9 L1327.6,1118.9 L1328.0,1126.7 L1328.5,1134.3 L1329.0,1141.5 L1329.5,1148.4 L1330.0,1154.8 L1330.5,1160.9 L1331.0,1166.5 L1331.5,1171.8 L1331.9,1176.7 L1332.4,1181.3 L1332.9,1185.6 L1333.4,1189.6 L1333.9,1193.4 L1334.4,1196.9 L1334.9,1200.2 L1335.4,1203.3 L1335.8,1206.3 L1336.3,1209.1 L1336.8,1211.8 L1337.3,1214.4 L1337.8,1216.9 L1338.3,1219.3 L1338.8,1221.7 L1339.2,1223.9 L1339.7,1226.2 L1340.2,1228.3 L1340.7,1230.5 L1341.2,1232.6 L1341.7,1234.6 L1342.2,1236.7 L1342.7,1238.7 L1343.1,1240.6 L1343.6,1242.5 L1344.1,1244.4 L1344.6,1246.2 L1345.1,1248.0 L1345.6,1249.8 L1346.1,1251.5 L1346.6,1253.2 L1347.0,1254.9 L1347.5,1256.5 L1348.0,1258.0 L1348.5,1259.5 L1349.0,1261.0 L1349.5,1262.4 L1350.0,1263.8 L1350.5,1265.1 L1350.9,1266.4 L1351.4,1267.6 L1351.9,1268.8 L1352.4,1270.0 L1352.9,1271.1 L1353.4,1272.1 L1353.9,1273.2 L1354.3,1274.1 L1354.8,1275.1 L1355.3,1275.9 L1355.8,1276.8 L1356.3,1277.6 L1356.8,1278.4 L1357.3,1279.1 L1357.8,1279.8 L1358.2,1280.4 L1358.7,1281.1 L1359.2,1281.6 L1359.7,1282.2 L1360.2,1282.7 L1360.7,1283.2 L1361.2,1283.6 L1361.7,1284.1 L1362.1,1284.4 L1362.6,1284.8 L1363.1,1285.1 L1363.6,1285.5 L1364.1,1285.7 L1364.6,1286.0 L1365.1,1286.2 L1365.5,1286.4 L1366.0,1286.6 L1366.5,1286.8 L1367.0,1287.0 L1367.5,1287.1 L1368.0,1287.2 L1368.5,1287.3 L1369.0,1287.4 L1369.4,1287.5 L1369.9,1287.6 L1370.4,1287.6 L1370.9,1287.7 L1371.4,1287.7 L1371.9,1287.8 L1372.4,1287.8 L1372.9,1287.9 L1373.3,1287.9 L1373.8,1288.0 L1374.3,1288.0 L1374.8,1288.1 L1375.3,1288.2 L1375.8,1288.2 L1376.3,1288.3 L1376.8,1288.4 L1377.2,1288.4 L1377.7,1288.5 L1378.2,1288.6 L1378.7,1288.7 L1379.2,1288.8 L1379.7,1288.9 L1380.2,1288.9 L1380.6,1289.0 L1381.1,1289.1 L1381.6,1289.2 L1382.1,1289.2 L1382.6,1289.3 L1383.1,1289.4 L1383.6,1289.4 L1384.1,1289.4 L1384.5,1289.5 L1385.0,1289.5 L1385.5,1289.4 L1386.0,1289.4 L1386.5,1289.3 L1387.0,1289.3 L1387.5,1289.2 L1388.0,1289.1 L1388.4,1288.9 L1388.9,1288.7 L1389.4,1288.5 L1389.9,1288.3 L1390.4,1288.1 L1390.9,1287.8 L1391.4,1287.5 L1391.9,1287.1 L1392.3,1286.7 L1392.8,1286.3 L1393.3,1285.8 L1393.8,1285.3 L1394.3,1284.7 L1394.8,1284.1 L1395.3,1283.5 L1395.7,1282.8 L1396.2,1282.0 L1396.7,1281.2 L1397.2,1280.3 L1397.7,1279.4 L1398.2,1278.4 L1398.7,1277.3 L1399.2,1276.2 L1399.6,1275.0 L1400.1,1273.7 L1400.6,1272.3 L1401.1,1270.8 L1401.6,1269.2 L1402.1,1267.4 L1402.6,1265.6 L1403.1,1263.7 L1403.5,1261.6 L1404.0,1259.3 L1404.5,1256.9 L1405.0,1254.3 L1405.5,1251.5 L1406.0,1248.6 L1406.5,1245.4 L1407.0,1242.0 L1407.4,1238.3 L1407.9,1234.3 L1408.4,1230.1 L1408.9,1225.6 L1409.4,1220.7 L1409.9,1215.5 L1410.4,1209.9 L1410.8,1203.9 L1411.3,1197.5 L1411.8,1190.7 L1412.3,1183.5 L1412.8,1175.9 L1413.3,1167.9 L1413.8,1159.6 L1414.3,1151.0 L1414.7,1142.2 L1415.2,1133.4 L1415.7,1124.7 L1416.2,1116.2 L1416.7,1108.1 L1417.2,1100.7 L1417.7,1094.1 L1418.2,1088.5 L1418.6,1084.0 L1419.1,1080.8 L1419.6,1078.9 L1420.1,1078.2 L1420.6,1078.7 L1421.1,1080.2 L1421.6,1082.5 L1422.1,1085.4 L1422.5,1088.6 L1423.0,1091.9 L1423.5,1095.2 L1424.0,1098.3 L1424.5,1101.0 L1425.0,1103.1 L1425.5,1104.7 L1425.9,1105.5 L1426.4,1105.5 L1426.9,1104.7 L1427.4,1103.1 L1427.9,1100.5 L1428.4,1097.0 L1428.9,1092.5 L1429.4,1087.1 L1429.8,1080.6 L1430.3,1073.2 L1430.8,1064.7 L1431.3,1055.2 L1431.8,1044.8 L1432.3,1033.5 L1432.8,1021.3 L1433.3,1008.5 L1433.7,995.1 L1434.2,981.5 L1434.7,967.9 L1435.2,954.6 L1435.7,942.0 L1436.2,930.6 L1436.7,920.8 L1437.2,913.0 L1437.6,907.6 L1438.1,904.8 L1438.6,905.0 L1439.1,908.0 L1439.6,913.8 L1440.1,922.2 L1440.6,932.8 L1441.0,945.3 L1441.5,959.2 L1442.0,974.1 L1442.5,989.6 L1443.0,1005.3 L1443.5,1021.0 L1444.0,1036.5 L1444.5,1051.4 L1444.9,1065.7 L1445.4,1079.4 L1445.9,1092.3 L1446.4,1104.4 L1446.9,1115.7 L1447.4,1126.3 L1447.9,1136.1 L1448.4,1145.2 L1448.8,1153.6 L1449.3,1161.4 L1449.8,1168.5 L1450.3,1175.2 L1450.8,1181.3 L1451.3,1186.9 L1451.8,1192.1 L1452.2,1196.9 L1452.7,1201.2 L1453.2,1205.3 L1453.7,1209.0 L1454.2,1212.4 L1454.7,1215.6 L1455.2,1218.4 L1455.7,1221.1 L1456.1,1223.5 L1456.6,1225.8 L1457.1,1227.9 L1457.6,1229.8 L1458.1,1231.5 L1458.6,1233.1 L1459.1,1234.6 L1459.6,1236.0 L1460.0,1237.2 L1460.5,1238.4 L1461.0,1239.5 L1461.5,1240.4 L1462.0,1241.3 L1462.5,1242.2 L1463.0,1242.9 L1463.5,1243.6 L1463.9,1244.2 L1464.4,1244.8 L1464.9,1245.3 L1465.4,1245.7 L1465.9,1246.1 L1466.4,1246.4 L1466.9,1246.6 L1467.3,1246.7 L1467.8,1246.8 L1468.3,1246.8 L1468.8,1246.7 L1469.3,1246.5 L1469.8,1246.1 L1470.3,1245.7 L1470.8,1245.2 L1471.2,1244.5 L1471.7,1243.6 L1472.2,1242.6 L1472.7,1241.5 L1473.2,1240.2 L1473.7,1238.7 L1474.2,1236.9 L1474.7,1235.0 L1475.1,1232.9 L1475.6,1230.5 L1476.1,1227.9 L1476.6,1225.0 L1477.1,1221.9 L1477.6,1218.6 L1478.1,1215.0 L1478.6,1211.3 L1479.0,1207.4 L1479.5,1203.3 L1480.0,1199.1 L1480.5,1195.0 L1481.0,1190.9 L1481.5,1187.0 L1482.0,1183.3 L1482.4,1180.0 L1482.9,1177.0 L1483.4,1174.4 L1483.9,1172.3 L1484.4,1170.7 L1484.9,1169.5 L1485.4,1168.7 L1485.9,1168.1 L1486.3,1167.8 L1486.8,1167.6 L1487.3,1167.5 L1487.8,1167.4 L1488.3,1167.3 L1488.8,1167.3 L1489.3,1167.3 L1489.8,1167.4 L1490.2,1167.7 L1490.7,1168.2 L1491.2,1169.1 L1491.7,1170.4 L1492.2,1172.2 L1492.7,1174.5 L1493.2,1177.3 L1493.7,1180.6 L1494.1,1184.4 L1494.6,1188.6 L1495.1,1193.0 L1495.6,1197.6 L1496.1,1202.3 L1496.6,1207.0 L1497.1,1211.7 L1497.5,1216.2 L1498.0,1220.6 L1498.5,1224.8 L1499.0,1228.7 L1499.5,1232.4 L1500.0,1235.8 L1500.5,1238.9 L1501.0,1241.8 L1501.4,1244.4 L1501.9,1246.8 L1502.4,1249.0 L1502.9,1250.9 L1503.4,1252.6 L1503.9,1254.1 L1504.4,1255.4 L1504.9,1256.5 L1505.3,1257.3 L1505.8,1258.0 L1506.3,1258.6 L1506.8,1258.9 L1507.3,1259.1 L1507.8,1259.0 L1508.3,1258.8 L1508.8,1258.5 L1509.2,1257.9 L1509.7,1257.2 L1510.2,1256.2 L1510.7,1255.1 L1511.2,1253.7 L1511.7,1252.2 L1512.2,1250.4 L1512.6,1248.4 L1513.1,1246.1 L1513.6,1243.6 L1514.1,1240.8 L1514.6,1237.8 L1515.1,1234.5 L1515.6,1230.9 L1516.1,1227.0 L1516.5,1222.9 L1517.0,1218.6 L1517.5,1214.1 L1518.0,1209.4 L1518.5,1204.6 L1519.0,1199.9 L1519.5,1195.2 L1520.0,1190.8 L1520.4,1186.7 L1520.9,1183.1 L1521.4,1180.2 L1521.9,1177.9 L1522.4,1176.5 L1522.9,1176.0 L1523.4,1176.4 L1523.9,1177.7 L1524.3,1179.8 L1524.8,1182.6 L1525.3,1186.1 L1525.8,1189.9 L1526.3,1194.1 L1526.8,1198.6 L1527.3,1203.1 L1527.7,1207.6 L1528.2,1212.0 L1528.7,1216.2 L1529.2,1220.3 L1529.7,1224.1 L1530.2,1227.7 L1530.7,1231.1 L1531.2,1234.2 L1531.6,1237.0 L1532.1,1239.6 L1532.6,1242.0 L1533.1,1244.2 L1533.6,1246.2 L1534.1,1247.9 L1534.6,1249.5 L1535.1,1250.9 L1535.5,1252.2 L1536.0,1253.3 L1536.5,1254.3 L1537.0,1255.2 L1537.5,1255.9 L1538.0,1256.5 L1538.5,1257.1 L1538.9,1257.5 L1539.4,1257.9 L1539.9,1258.1 L1540.4,1258.3 L1540.9,1258.3 L1541.4,1258.3 L1541.9,1258.2 L1542.4,1258.0 L1542.8,1257.8 L1543.3,1257.4 L1543.8,1256.9 L1544.3,1256.3 L1544.8,1255.6 L1545.3,1254.8 L1545.8,1253.9 L1546.3,1252.8 L1546.7,1251.5 L1547.2,1250.1 L1547.7,1248.6 L1548.2,1246.8 L1548.7,1244.9 L1549.2,1242.7 L1549.7,1240.3 L1550.2,1237.6 L1550.6,1234.7 L1551.1,1231.5 L1551.6,1228.0 L1552.1,1224.1 L1552.6,1219.9 L1553.1,1215.4 L1553.6,1210.4 L1554.0,1205.1 L1554.5,1199.4 L1555.0,1193.2 L1555.5,1186.7 L1556.0,1179.8 L1556.5,1172.6 L1557.0,1165.2 L1557.5,1157.7 L1557.9,1150.1 L1558.4,1142.6 L1558.9,1135.5 L1559.4,1128.9 L1559.9,1123.0 L1560.4,1118.1 L1560.9,1114.4 L1561.4,1111.9 L1561.8,1111.0 L1562.3,1111.6 L1562.8,1113.6 L1563.3,1117.1 L1563.8,1121.8 L1564.3,1127.6 L1564.8,1134.3 L1565.3,1141.6 L1565.7,1149.3 L1566.2,1157.3 L1566.7,1165.4 L1567.2,1173.4 L1567.7,1181.1 L1568.2,1188.7 L1568.7,1195.9 L1569.1,1202.7 L1569.6,1209.2 L1570.1,1215.2 L1570.6,1220.9 L1571.1,1226.2 L1571.6,1231.1 L1572.1,1235.7 L1572.6,1240.0 L1573.0,1243.9 L1573.5,1247.6 L1574.0,1250.9 L1574.5,1254.1 L1575.0,1257.0 L1575.5,1259.7 L1576.0,1262.1 L1576.5,1264.4 L1576.9,1266.6 L1577.4,1268.6 L1577.9,1270.4 L1578.4,1272.1 L1578.9,1273.7 L1579.4,1275.2 L1579.9,1276.5 L1580.4,1277.8 L1580.8,1279.0 L1581.3,1280.1 L1581.8,1281.1 L1582.3,1282.1 L1582.8,1283.0 L1583.3,1283.8 L1583.8,1284.6 L1584.2,1285.4 L1584.7,1286.1 L1585.2,1286.7 L1585.7,1287.3 L1586.2,1287.9 L1586.7,1288.4 L1587.2,1288.9 L1587.7,1289.4 L1588.1,1289.8 L1588.6,1290.2 L1589.1,1290.6 L1589.6,1290.9 L1590.1,1291.3 L1590.6,1291.6 L1591.1,1291.8 L1591.6,1292.1 L1592.0,1292.3 L1592.5,1292.5 L1593.0,1292.7 L1593.5,1292.8 L1594.0,1293.0 L1594.5,1293.1 L1595.0,1293.2 L1595.5,1293.2 L1595.9,1293.3 L1596.4,1293.3 L1596.9,1293.3 L1597.4,1293.2 L1597.9,1293.2 L1598.4,1293.1 L1598.9,1293.0 L1599.3,1292.9 L1599.8,1292.7 L1600.3,1292.5 L1600.8,1292.3 L1601.3,1292.1 L1601.8,1291.8 L1602.3,1291.5 L1602.8,1291.2 L1603.2,1290.9 L1603.7,1290.5 L1604.2,1290.1 L1604.7,1289.6 L1605.2,1289.2 L1605.7,1288.7 L1606.2,1288.1 L1606.7,1287.6 L1607.1,1287.0 L1607.6,1286.3 L1608.1,1285.6 L1608.6,1284.9 L1609.1,1284.1 L1609.6,1283.3 L1610.1,1282.4 L1610.6,1281.5 L1611.0,1280.6 L1611.5,1279.6 L1612.0,1278.5 L1612.5,1277.3 L1613.0,1276.1 L1613.5,1274.9 L1614.0,1273.6 L1614.4,1272.1 L1614.9,1270.7 L1615.4,1269.1 L1615.9,1267.4 L1616.4,1265.7 L1616.9,1263.8 L1617.4,1261.9 L1617.9,1259.8 L1618.3,1257.6 L1618.8,1255.3 L1619.3,1252.8 L1619.8,1250.2 L1620.3,1247.4 L1620.8,1244.5 L1621.3,1241.4 L1621.8,1238.0 L1622.2,1234.5 L1622.7,1230.7 L1623.2,1226.7 L1623.7,1222.4 L1624.2,1217.9 L1624.7,1213.0 L1625.2,1207.8 L1625.7,1202.2 L1626.1,1196.2 L1626.6,1189.8 L1627.1,1182.9 L1627.6,1175.5 L1628.1,1167.6 L1628.6,1159.0 L1629.1,1149.8 L1629.5,1140.0 L1630.0,1129.3 L1630.5,1117.9 L1631.0,1105.5 L1631.5,1092.2 L1632.0,1078.0 L1632.5,1062.6 L1633.0,1046.1 L1633.4,1028.5 L1633.9,1009.7 L1634.4,989.7 L1634.9,968.5 L1635.4,946.2 L1635.9,922.9 L1636.4,898.7 L1636.9,874.0 L1637.3,849.0 L1637.8,824.3 L1638.3,800.2 L1638.8,777.5 L1639.3,756.7 L1639.8,738.7 L1640.3,723.9 L1640.7,713.2 L1641.2,706.8 L1641.7,705.2 L1642.2,708.3 L1642.7,716.1 L1643.2,728.1 L1643.7,743.9 L1644.2,762.8 L1644.6,784.2 L1645.1,807.3 L1645.6,831.5 L1646.1,856.3 L1646.6,881.1 L1647.1,905.5 L1647.6,929.2 L1648.1,952.1 L1648.5,973.9 L1649.0,994.6 L1649.5,1014.0 L1650.0,1032.3 L1650.5,1049.4 L1651.0,1065.3 L1651.5,1080.2 L1652.0,1093.9 L1652.4,1106.7 L1652.9,1118.6 L1653.4,1129.7 L1653.9,1139.9 L1654.4,1149.4 L1654.9,1158.2 L1655.4,1166.3 L1655.8,1173.9 L1656.3,1181.0 L1656.8,1187.5 L1657.3,1193.6 L1657.8,1199.3 L1658.3,1204.6 L1658.8,1209.5 L1659.3,1214.1 L1659.7,1218.4 L1660.2,1222.4 L1660.7,1226.1 L1661.2,1229.6 L1661.7,1232.9 L1662.2,1235.9 L1662.7,1238.8 L1663.2,1241.5 L1663.6,1244.0 L1664.1,1246.3 L1664.6,1248.5 L1665.1,1250.6 L1665.6,1252.5 L1666.1,1254.3 L1666.6,1256.0 L1667.1,1257.5 L1667.5,1259.0 L1668.0,1260.4 L1668.5,1261.7 L1669.0,1262.8 L1669.5,1263.9 L1670.0,1265.0 L1670.5,1265.9 L1670.9,1266.8 L1671.4,1267.6 L1671.9,1268.3 L1672.4,1269.0 L1672.9,1269.6 L1673.4,1270.2 L1673.9,1270.7 L1674.4,1271.1 L1674.8,1271.5 L1675.3,1271.9 L1675.8,1272.1 L1676.3,1272.4 L1676.8,1272.6 L1677.3,1272.7 L1677.8,1272.8 L1678.3,1272.9 L1678.7,1272.9 L1679.2,1272.8 L1679.7,1272.7 L1680.2,1272.6 L1680.7,1272.4 L1681.2,1272.2 L1681.7,1272.0 L1682.2,1271.7 L1682.6,1271.4 L1683.1,1271.0 L1683.6,1270.6 L1684.1,1270.1 L1684.6,1269.6 L1685.1,1269.1 L1685.6,1268.6 L1686.0,1268.0 L1686.5,1267.3 L1687.0,1266.6 L1687.5,1265.9 L1688.0,1265.2 L1688.5,1264.4 L1689.0,1263.6 L1689.5,1262.7 L1689.9,1261.8 L1690.4,1260.9 L1690.9,1260.0 L1691.4,1259.0 L1691.9,1258.0 L1692.4,1256.9 L1692.9,1255.9 L1693.4,1254.8 L1693.8,1253.6 L1694.3,1252.5 L1694.8,1251.3 L1695.3,1250.0 L1695.8,1248.8 L1696.3,1247.5 L1696.8,1246.2 L1697.3,1244.9 L1697.7,1243.5 L1698.2,1242.1 L1698.7,1240.7 L1699.2,1239.3 L1699.7,1237.8 L1700.2,1236.3 L1700.7,1234.8 L1701.1,1233.2 L1701.6,1231.7 L1702.1,1230.1 L1702.6,1228.6 L1703.1,1227.0 L1703.6,1225.4 L1704.1,1223.8 L1704.6,1222.2 L1705.0,1220.6 L1705.5,1219.0 L1706.0,1217.5 L1706.5,1216.0 L1707.0,1214.5 L1707.5,1213.0 L1708.0,1211.6 L1708.5,1210.2 L1708.9,1208.8 L1709.4,1207.5 L1709.9,1206.3 L1710.4,1205.1 L1710.9,1203.9 L1711.4,1202.8 L1711.9,1201.8 L1712.4,1200.8 L1712.8,1199.9 L1713.3,1199.0 L1713.8,1198.2 L1714.3,1197.4 L1714.8,1196.7 L1715.3,1195.9 L1715.8,1195.3 L1716.2,1194.6 L1716.7,1194.0 L1717.2,1193.3 L1717.7,1192.7 L1718.2,1192.1 L1718.7,1191.5 L1719.2,1190.8 L1719.7,1190.1 L1720.1,1189.5 L1720.6,1188.7 L1721.1,1187.9 L1721.6,1187.1 L1722.1,1186.2 L1722.6,1185.2 L1723.1,1184.1 L1723.6,1182.9 L1724.0,1181.6 L1724.5,1180.2 L1725.0,1178.5 L1725.5,1176.8 L1726.0,1174.8 L1726.5,1172.5 L1727.0,1170.1 L1727.4,1167.3 L1727.9,1164.3 L1728.4,1160.9 L1728.9,1157.2 L1729.4,1153.1 L1729.9,1148.6 L1730.4,1143.6 L1730.9,1138.2 L1731.3,1132.3 L1731.8,1125.8 L1732.3,1118.9 L1732.8,1111.5 L1733.3,1103.7 L1733.8,1095.4 L1734.3,1086.8 L1734.8,1077.9 L1735.2,1069.0 L1735.7,1060.2 L1736.2,1051.6 L1736.7,1043.6 L1737.2,1036.5 L1737.7,1030.4 L1738.2,1025.7 L1738.7,1022.5 L1739.1,1021.1 L1739.6,1021.6 L1740.1,1023.9 L1740.6,1028.0 L1741.1,1033.7 L1741.6,1040.8 L1742.1,1049.1 L1742.5,1058.2 L1743.0,1068.0 L1743.5,1078.1 L1744.0,1088.5 L1744.5,1098.7 L1745.0,1108.8 L1745.5,1118.7 L1746.0,1128.2 L1746.4,1137.2 L1746.9,1145.8 L1747.4,1154.0 L1747.9,1161.7 L1748.4,1169.0 L1748.9,1175.8 L1749.4,1182.2 L1749.9,1188.3 L1750.3,1193.9 L1750.8,1199.3 L1751.3,1204.3 L1751.8,1209.0 L1752.3,1213.4 L1752.8,1217.6 L1753.3,1221.5 L1753.8,1225.2 L1754.2,1228.7 L1754.7,1232.1 L1755.2,1235.2 L1755.7,1238.2 L1756.2,1241.0 L1756.7,1243.6 L1757.2,1246.1 L1757.6,1248.5 L1758.1,1250.8 L1758.6,1253.0 L1759.1,1255.0 L1759.6,1256.9 L1760.1,1258.8 L1760.6,1260.5 L1761.1,1262.2 L1761.5,1263.7 L1762.0,1265.2 L1762.5,1266.6 L1763.0,1268.0 L1763.5,1269.3 L1764.0,1270.5 L1764.5,1271.6 L1765.0,1272.7 L1765.4,1273.7 L1765.9,1274.6 L1766.4,1275.5 L1766.9,1276.3 L1767.4,1277.1 L1767.9,1277.9 L1768.4,1278.5 L1768.9,1279.2 L1769.3,1279.8 L1769.8,1280.3 L1770.3,1280.8 L1770.8,1281.2 L1771.3,1281.6 L1771.8,1282.0 L1772.3,1282.3 L1772.7,1282.5 L1773.2,1282.7 L1773.7,1282.9 L1774.2,1283.0 L1774.7,1283.0 L1775.2,1283.0 L1775.7,1283.0 L1776.2,1282.9 L1776.6,1282.8 L1777.1,1282.5 L1777.6,1282.3 L1778.1,1281.9 L1778.6,1281.6 L1779.1,1281.1 L1779.6,1280.6 L1780.1,1279.9 L1780.5,1279.3 L1781.0,1278.5 L1781.5,1277.6 L1782.0,1276.7 L1782.5,1275.6 L1783.0,1274.4 L1783.5,1273.1 L1784.0,1271.7 L1784.4,1270.2 L1784.9,1268.5 L1785.4,1266.6 L1785.9,1264.6 L1786.4,1262.4 L1786.9,1260.1 L1787.4,1257.5 L1787.8,1254.8 L1788.3,1251.9 L1788.8,1248.7 L1789.3,1245.4 L1789.8,1242.0 L1790.3,1238.3 L1790.8,1234.6 L1791.3,1230.7 L1791.7,1226.9 L1792.2,1223.1 L1792.7,1219.4 L1793.2,1215.9 L1793.7,1212.8 L1794.2,1210.0 L1794.7,1207.8 L1795.2,1206.2 L1795.6,1205.1 L1796.1,1204.7 L1796.6,1204.9 L1797.1,1205.7 L1797.6,1207.0 L1798.1,1208.7 L1798.6,1210.8 L1799.1,1213.0 L1799.5,1215.4 L1800.0,1217.8 L1800.5,1220.1 L1801.0,1222.4 L1801.5,1224.4 L1802.0,1226.2 L1802.5,1227.8 L1802.9,1229.1 L1803.4,1230.1 L1803.9,1230.8 L1804.4,1231.2 L1804.9,1231.3 L1805.4,1231.0 L1805.9,1230.4 L1806.4,1229.4 L1806.8,1228.2 L1807.3,1226.5 L1807.8,1224.5 L1808.3,1222.1 L1808.8,1219.4 L1809.3,1216.2 L1809.8,1212.7 L1810.3,1208.7 L1810.7,1204.3 L1811.2,1199.6 L1811.7,1194.4 L1812.2,1188.9 L1812.7,1183.0 L1813.2,1176.8 L1813.7,1170.4 L1814.2,1163.9 L1814.6,1157.3 L1815.1,1150.9 L1815.6,1144.7 L1816.1,1139.0 L1816.6,1134.0 L1817.1,1129.8 L1817.6,1126.5 L1818.0,1124.4 L1818.5,1123.5 L1819.0,1123.9 L1819.5,1125.4 L1820.0,1128.0 L1820.5,1131.6 L1821.0,1136.1 L1821.5,1141.1 L1821.9,1146.6 L1822.4,1152.4 L1822.9,1158.2 L1823.4,1164.0 L1823.9,1169.7 L1824.4,1175.2 L1824.9,1180.4 L1825.4,1185.2 L1825.8,1189.7 L1826.3,1193.8 L1826.8,1197.6 L1827.3,1200.9 L1827.8,1203.9 L1828.3,1206.5 L1828.8,1208.8 L1829.2,1210.7 L1829.7,1212.4 L1830.2,1213.7 L1830.7,1214.7 L1831.2,1215.4 L1831.7,1215.8 L1832.2,1216.0 L1832.7,1215.9 L1833.1,1215.5 L1833.6,1214.8 L1834.1,1213.9 L1834.6,1212.7 L1835.1,1211.2 L1835.6,1209.3 L1836.1,1207.2 L1836.6,1204.8 L1837.0,1202.0 L1837.5,1198.9 L1838.0,1195.5 L1838.5,1191.6 L1839.0,1187.4 L1839.5,1182.8 L1840.0,1177.8 L1840.5,1172.4 L1840.9,1166.7 L1841.4,1160.7 L1841.9,1154.4 L1842.4,1148.0 L1842.9,1141.6 L1843.4,1135.2 L1843.9,1129.2 L1844.3,1123.5 L1844.8,1118.6 L1845.3,1114.5 L1845.8,1111.4 L1846.3,1109.6 L1846.8,1109.0 L1847.3,1109.8 L1847.8,1112.0 L1848.2,1115.5 L1848.7,1120.1 L1849.2,1125.7 L1849.7,1132.0 L1850.2,1138.9 L1850.7,1146.2 L1851.2,1153.7 L1851.7,1161.2 L1852.1,1168.6 L1852.6,1175.9 L1853.1,1182.8 L1853.6,1189.4 L1854.1,1195.6 L1854.6,1201.4 L1855.1,1206.8 L1855.6,1211.7 L1856.0,1216.3 L1856.5,1220.5 L1857.0,1224.2 L1857.5,1227.6 L1858.0,1230.7 L1858.5,1233.4 L1859.0,1235.7 L1859.4,1237.7 L1859.9,1239.4 L1860.4,1240.8 L1860.9,1241.9 L1861.4,1242.7 L1861.9,1243.2 L1862.4,1243.4 L1862.9,1243.3 L1863.3,1243.0 L1863.8,1242.3 L1864.3,1241.4 L1864.8,1240.1 L1865.3,1238.6 L1865.8,1236.9 L1866.3,1234.8 L1866.8,1232.6 L1867.2,1230.1 L1867.7,1227.5 L1868.2,1224.7 L1868.7,1221.9 L1869.2,1219.2 L1869.7,1216.5 L1870.2,1214.1 L1870.7,1212.0 L1871.1,1210.4 L1871.6,1209.3 L1872.1,1208.8 L1872.6,1209.0 L1873.1,1209.9 L1873.6,1211.5 L1874.1,1213.7 L1874.5,1216.5 L1875.0,1219.8 L1875.5,1223.4 L1876.0,1227.3 L1876.5,1231.4 L1877.0,1235.5 L1877.5,1239.7 L1878.0,1243.8 L1878.4,1247.7 L1878.9,1251.6 L1879.4,1255.2 L1879.9,1258.7 L1880.4,1261.9 L1880.9,1265.0 L1881.4,1267.8 L1881.9,1270.4 L1882.3,1272.9 L1882.8,1275.2 L1883.3,1277.3 L1883.8,1279.2 L1884.3,1280.9 L1884.8,1282.6 L1885.3,1284.1 L1885.8,1285.4 L1886.2,1286.6 L1886.7,1287.7 L1887.2,1288.7 L1887.7,1289.6 L1888.2,1290.4 L1888.7,1291.1 L1889.2,1291.7 L1889.6,1292.2 L1890.1,1292.6 L1890.6,1292.9 L1891.1,1293.1 L1891.6,1293.3 L1892.1,1293.3 L1892.6,1293.3 L1893.1,1293.2 L1893.5,1292.9 L1894.0,1292.6 L1894.5,1292.2 L1895.0,1291.7 L1895.5,1291.0 L1896.0,1290.3 L1896.5,1289.4 L1897.0,1288.4 L1897.4,1287.3 L1897.9,1286.0 L1898.4,1284.6 L1898.9,1283.1 L1899.4,1281.4 L1899.9,1279.6 L1900.4,1277.7 L1900.9,1275.7 L1901.3,1273.6 L1901.8,1271.4 L1902.3,1269.2 L1902.8,1267.0 L1903.3,1264.8 L1903.8,1262.8 L1904.3,1261.0 L1904.7,1259.5 L1905.2,1258.3 L1905.7,1257.5 L1906.2,1257.1 L1906.7,1257.2 L1907.2,1257.8 L1907.7,1258.8 L1908.2,1260.3 L1908.6,1262.1 L1909.1,1264.2 L1909.6,1266.5 L1910.1,1269.0 L1910.6,1271.6 L1911.1,1274.2 L1911.6,1276.8 L1912.1,1279.4 L1912.5,1281.9 L1913.0,1284.2 L1913.5,1286.5 L1914.0,1288.7 L1914.5,1290.7 L1915.0,1292.6 L1915.5,1294.4 L1915.9,1296.1 L1916.4,1297.6 L1916.9,1299.1 L1917.4,1300.4 L1917.9,1301.7 L1918.4,1302.8 L1918.9,1303.9 L1919.4,1304.9 L1919.8,1305.8 L1920.3,1306.7 L1920.8,1307.5 L1921.3,1308.2 L1921.8,1308.9 L1922.3,1309.6 L1922.8,1310.2 L1923.3,1310.7 L1923.7,1311.2 L1924.2,1311.7 L1924.7,1312.1 L1925.2,1312.5 L1925.7,1312.9 L1926.2,1313.3 L1926.7,1313.6 L1927.2,1313.9 L1927.6,1314.1 L1928.1,1314.4 L1928.6,1314.6 L1929.1,1314.8 L1929.6,1315.0 L1930.1,1315.2 L1930.6,1315.3 L1931.0,1315.4 L1931.5,1315.5 L1932.0,1315.6 L1932.5,1315.7 L1933.0,1315.8 L1933.5,1315.8 L1934.0,1315.8 L1934.5,1315.8 L1934.9,1315.8 L1935.4,1315.8 L1935.9,1315.7 L1936.4,1315.7 L1936.9,1315.6 L1937.4,1315.5 L1937.9,1315.4 L1938.4,1315.3 L1938.8,1315.1 L1939.3,1314.9 L1939.8,1314.7 L1940.3,1314.5 L1940.8,1314.3 L1941.3,1314.0 L1941.8,1313.7 L1942.3,1313.4 L1942.7,1313.0 L1943.2,1312.7 L1943.7,1312.2 L1944.2,1311.8 L1944.7,1311.3 L1945.2,1310.8 L1945.7,1310.2 L1946.1,1309.6 L1946.6,1308.9 L1947.1,1308.2 L1947.6,1307.5 L1948.1,1306.6 L1948.6,1305.7 L1949.1,1304.8 L1949.6,1303.7 L1950.0,1302.6 L1950.5,1301.3 L1951.0,1300.0 L1951.5,1298.6 L1952.0,1297.1 L1952.5,1295.4 L1953.0,1293.6 L1953.5,1291.7 L1953.9,1289.7 L1954.4,1287.4 L1954.9,1285.1 L1955.4,1282.6 L1955.9,1280.0 L1956.4,1277.2 L1956.9,1274.3 L1957.4,1271.3 L1957.8,1268.3 L1958.3,1265.2 L1958.8,1262.2 L1959.3,1259.3 L1959.8,1256.5 L1960.3,1254.1 L1960.8,1252.0 L1961.2,1250.3 L1961.7,1249.1 L1962.2,1248.4 L1962.7,1248.3 L1963.2,1248.8 L1963.7,1249.7 L1964.2,1251.2 L1964.7,1253.1 L1965.1,1255.4 L1965.6,1257.8 L1966.1,1260.5 L1966.6,1263.3 L1967.1,1266.0 L1967.6,1268.8 L1968.1,1271.5 L1968.6,1274.1 L1969.0,1276.6 L1969.5,1278.9 L1970.0,1281.1 L1970.5,1283.1 L1971.0,1285.0 L1971.5,1286.7 L1972.0,1288.3 L1972.5,1289.8 L1972.9,1291.1 L1973.4,1292.3 L1973.9,1293.4 L1974.4,1294.4 L1974.9,1295.3 L1975.4,1296.1 L1975.9,1296.8 L1976.3,1297.4 L1976.8,1297.9 L1977.3,1298.4 L1977.8,1298.8 L1978.3,1299.2 L1978.8,1299.5 L1979.3,1299.8 L1979.8,1300.0 L1980.2,1300.2 L1980.7,1300.4 L1981.2,1300.5 L1981.7,1300.7 L1982.2,1300.8 L1982.7,1300.8 L1983.2,1300.9 L1983.7,1301.0 L1984.1,1301.0 L1984.6,1301.1 L1985.1,1301.1 L1985.6,1301.2 L1986.1,1301.2 L1986.6,1301.3 L1987.1,1301.4 L1987.6,1301.4 L1988.0,1301.5 L1988.5,1301.6 L1989.0,1301.7 L1989.5,1301.8 L1990.0,1301.9 L1990.5,1302.0 L1991.0,1302.2 L1991.4,1302.3 L1991.9,1302.5 L1992.4,1302.6 L1992.9,1302.8 L1993.4,1302.9 L1993.9,1303.1 L1994.4,1303.2 L1994.9,1303.4 L1995.3,1303.6 L1995.8,1303.7 L1996.3,1303.9 L1996.8,1304.0 L1997.3,1304.2 L1997.8,1304.3 L1998.3,1304.5 L1998.8,1304.6 L1999.2,1304.7 L1999.7,1304.9 L2000.2,1305.0 L2000.7,1305.1 L2001.2,1305.2 L2001.7,1305.3 L2002.2,1305.5 L2002.6,1305.6 L2003.1,1305.7 L2003.6,1305.8 L2004.1,1305.9 L2004.6,1306.1 L2005.1,1306.2 L2005.6,1306.4 L2006.1,1306.5 L2006.5,1306.7 L2007.0,1306.8 L2007.5,1307.0 L2008.0,1307.2 L2008.5,1307.3 L2009.0,1307.5 L2009.5,1307.7 L2010.0,1307.9 L2010.4,1308.1 L2010.9,1308.3 L2011.4,1308.5 L2011.9,1308.7 L2012.4,1308.9 L2012.9,1309.0 L2013.4,1309.2 L2013.9,1309.4 L2014.3,1309.5 L2014.8,1309.7 L2015.3,1309.8 L2015.8,1309.9 L2016.3,1310.0 L2016.8,1310.1 L2017.3,1310.2 L2017.7,1310.2 L2018.2,1310.2 L2018.7,1310.2 L2019.2,1310.1 L2019.7,1310.0 L2020.2,1309.9 L2020.7,1309.8 L2021.2,1309.6 L2021.6,1309.3 L2022.1,1309.0 L2022.6,1308.7 L2023.1,1308.3 L2023.6,1307.8 L2024.1,1307.3 L2024.6,1306.7 L2025.1,1306.0 L2025.5,1305.3 L2026.0,1304.4 L2026.5,1303.5 L2027.0,1302.5 L2027.5,1301.4 L2028.0,1300.2 L2028.5,1298.9 L2029.0,1297.5 L2029.4,1296.0 L2029.9,1294.3 L2030.4,1292.6 L2030.9,1290.9 L2031.4,1289.0 L2031.9,1287.1 L2032.4,1285.3 L2032.8,1283.5 L2033.3,1281.7 L2033.8,1280.2 L2034.3,1278.8 L2034.8,1277.7 L2035.3,1276.9 L2035.8,1276.4 L2036.3,1276.4 L2036.7,1276.7 L2037.2,1277.4 L2037.7,1278.5 L2038.2,1279.8 L2038.7,1281.5 L2039.2,1283.3 L2039.7,1285.3 L2040.2,1287.4 L2040.6,1289.6 L2041.1,1291.7 L2041.6,1293.8 L2042.1,1295.9 L2042.6,1297.9 L2043.1,1299.8 L2043.6,1301.6 L2044.1,1303.3 L2044.5,1304.9 L2045.0,1306.5 L2045.5,1307.9 L2046.0,1309.2" stroke="#d81c2a" stroke-width="4.3"/>
<path d="M293.0,1332.5 L293.5,1332.5 L294.0,1332.5 L294.5,1332.5 L294.9,1332.5 L295.4,1332.5 L295.9,1332.5 L296.4,1332.4 L296.9,1332.4 L297.4,1332.4 L297.9,1332.4 L298.4,1332.4 L298.8,1332.4 L299.3,1332.3 L299.8,1332.3 L300.3,1332.3 L300.8,1332.3 L301.3,1332.3 L301.8,1332.2 L302.3,1332.2 L302.7,1332.2 L303.2,1332.2 L303.7,1332.2 L304.2,1332.2 L304.7,1332.1 L305.2,1332.1 L305.7,1332.1 L306.2,1332.1 L306.6,1332.1 L307.1,1332.0 L307.6,1332.0 L308.1,1332.0 L308.6,1332.0 L309.1,1332.0 L309.6,1331.9 L310.0,1331.9 L310.5,1331.9 L311.0,1331.9 L311.5,1331.8 L312.0,1331.8 L312.5,1331.8 L313.0,1331.8 L313.5,1331.8 L313.9,1331.7 L314.4,1331.7 L314.9,1331.7 L315.4,1331.7 L315.9,1331.6 L316.4,1331.6 L316.9,1331.6 L317.4,1331.6 L317.8,1331.5 L318.3,1331.5 L318.8,1331.5 L319.3,1331.5 L319.8,1331.4 L320.3,1331.4 L320.8,1331.4 L321.3,1331.3 L321.7,1331.3 L322.2,1331.3 L322.7,1331.3 L323.2,1331.2 L323.7,1331.2 L324.2,1331.2 L324.7,1331.1 L325.1,1331.1 L325.6,1331.1 L326.1,1331.0 L326.6,1331.0 L327.1,1331.0 L327.6,1330.9 L328.1,1330.9 L328.6,1330.9 L329.0,1330.8 L329.5,1330.8 L330.0,1330.8 L330.5,1330.7 L331.0,1330.7 L331.5,1330.6 L332.0,1330.6 L332.5,1330.6 L332.9,1330.5 L333.4,1330.5 L333.9,1330.4 L334.4,1330.4 L334.9,1330.4 L335.4,1330.3 L335.9,1330.3 L336.4,1330.2 L336.8,1330.2 L337.3,1330.1 L337.8,1330.1 L338.3,1330.0 L338.8,1330.0 L339.3,1330.0 L339.8,1329.9 L340.2,1329.9 L340.7,1329.8 L341.2,1329.7 L341.7,1329.7 L342.2,1329.6 L342.7,1329.6 L343.2,1329.5 L343.7,1329.5 L344.1,1329.4 L344.6,1329.4 L345.1,1329.3 L345.6,1329.2 L346.1,1329.2 L346.6,1329.1 L347.1,1329.0 L347.6,1329.0 L348.0,1328.9 L348.5,1328.8 L349.0,1328.8 L349.5,1328.7 L350.0,1328.6 L350.5,1328.6 L351.0,1328.5 L351.4,1328.4 L351.9,1328.3 L352.4,1328.3 L352.9,1328.2 L353.4,1328.1 L353.9,1328.0 L354.4,1327.9 L354.9,1327.8 L355.3,1327.7 L355.8,1327.7 L356.3,1327.6 L356.8,1327.5 L357.3,1327.4 L357.8,1327.3 L358.3,1327.2 L358.8,1327.1 L359.2,1327.0 L359.7,1326.8 L360.2,1326.7 L360.7,1326.6 L361.2,1326.5 L361.7,1326.4 L362.2,1326.3 L362.7,1326.1 L363.1,1326.0 L363.6,1325.9 L364.1,1325.7 L364.6,1325.6 L365.1,1325.5 L365.6,1325.3 L366.1,1325.2 L366.5,1325.0 L367.0,1324.9 L367.5,1324.7 L368.0,1324.5 L368.5,1324.4 L369.0,1324.2 L369.5,1324.0 L370.0,1323.8 L370.4,1323.6 L370.9,1323.5 L371.4,1323.3 L371.9,1323.0 L372.4,1322.8 L372.9,1322.6 L373.4,1322.4 L373.9,1322.2 L374.3,1321.9 L374.8,1321.7 L375.3,1321.4 L375.8,1321.2 L376.3,1320.9 L376.8,1320.6 L377.3,1320.3 L377.8,1320.0 L378.2,1319.7 L378.7,1319.4 L379.2,1319.1 L379.7,1318.8 L380.2,1318.4 L380.7,1318.1 L381.2,1317.7 L381.6,1317.3 L382.1,1316.9 L382.6,1316.5 L383.1,1316.1 L383.6,1315.6 L384.1,1315.2 L384.6,1314.7 L385.1,1314.2 L385.5,1313.7 L386.0,1313.2 L386.5,1312.6 L387.0,1312.1 L387.5,1311.5 L388.0,1310.8 L388.5,1310.2 L389.0,1309.5 L389.4,1308.8 L389.9,1308.1 L390.4,1307.4 L390.9,1306.6 L391.4,1305.8 L391.9,1304.9 L392.4,1304.0 L392.9,1303.1 L393.3,1302.1 L393.8,1301.1 L394.3,1300.0 L394.8,1298.9 L395.3,1297.7 L395.8,1296.4 L396.3,1295.1 L396.7,1293.7 L397.2,1292.3 L397.7,1290.7 L398.2,1289.1 L398.7,1287.4 L399.2,1285.6 L399.7,1283.6 L400.2,1281.6 L400.6,1279.4 L401.1,1277.1 L401.6,1274.6 L402.1,1272.0 L402.6,1269.2 L403.1,1266.2 L403.6,1263.0 L404.1,1259.5 L404.5,1255.9 L405.0,1251.9 L405.5,1247.7 L406.0,1243.1 L406.5,1238.2 L407.0,1233.0 L407.5,1227.3 L408.0,1221.2 L408.4,1214.6 L408.9,1207.6 L409.4,1200.0 L409.9,1191.8 L410.4,1183.0 L410.9,1173.6 L411.4,1163.5 L411.8,1152.7 L412.3,1141.3 L412.8,1129.2 L413.3,1116.6 L413.8,1103.3 L414.3,1089.7 L414.8,1075.8 L415.3,1061.8 L415.7,1048.0 L416.2,1034.7 L416.7,1022.3 L417.2,1011.1 L417.7,1001.5 L418.2,993.9 L418.7,988.6 L419.2,985.8 L419.6,985.7 L420.1,988.3 L420.6,993.4 L421.1,1000.8 L421.6,1010.3 L422.1,1021.4 L422.6,1033.7 L423.1,1046.9 L423.5,1060.6 L424.0,1074.6 L424.5,1088.5 L425.0,1102.1 L425.5,1115.3 L426.0,1128.0 L426.5,1140.0 L426.9,1151.4 L427.4,1162.2 L427.9,1172.3 L428.4,1181.7 L428.9,1190.5 L429.4,1198.6 L429.9,1206.2 L430.4,1213.3 L430.8,1219.8 L431.3,1225.9 L431.8,1231.6 L432.3,1236.8 L432.8,1241.7 L433.3,1246.2 L433.8,1250.4 L434.3,1254.3 L434.7,1258.0 L435.2,1261.3 L435.7,1264.5 L436.2,1267.5 L436.7,1270.2 L437.2,1272.8 L437.7,1275.2 L438.1,1277.5 L438.6,1279.6 L439.1,1281.6 L439.6,1283.5 L440.1,1285.2 L440.6,1286.9 L441.1,1288.4 L441.6,1289.9 L442.0,1291.2 L442.5,1292.5 L443.0,1293.7 L443.5,1294.9 L444.0,1296.0 L444.5,1297.0 L445.0,1298.0 L445.5,1298.9 L445.9,1299.7 L446.4,1300.5 L446.9,1301.3 L447.4,1302.0 L447.9,1302.7 L448.4,1303.4 L448.9,1304.0 L449.4,1304.6 L449.8,1305.1 L450.3,1305.6 L450.8,1306.1 L451.3,1306.6 L451.8,1307.0 L452.3,1307.4 L452.8,1307.8 L453.2,1308.2 L453.7,1308.5 L454.2,1308.9 L454.7,1309.2 L455.2,1309.5 L455.7,1309.7 L456.2,1310.0 L456.7,1310.2 L457.1,1310.4 L457.6,1310.6 L458.1,1310.8 L458.6,1311.0 L459.1,1311.1 L459.6,1311.3 L460.1,1311.4 L460.6,1311.5 L461.0,1311.6 L461.5,1311.7 L462.0,1311.8 L462.5,1311.9 L463.0,1311.9 L463.5,1312.0 L464.0,1312.0 L464.5,1312.0 L464.9,1312.0 L465.4,1312.0 L465.9,1312.0 L466.4,1312.0 L466.9,1312.0 L467.4,1311.9 L467.9,1311.9 L468.3,1311.8 L468.8,1311.7 L469.3,1311.6 L469.8,1311.5 L470.3,1311.4 L470.8,1311.3 L471.3,1311.2 L471.8,1311.0 L472.2,1310.9 L472.7,1310.7 L473.2,1310.5 L473.7,1310.3 L474.2,1310.1 L474.7,1309.9 L475.2,1309.7 L475.7,1309.4 L476.1,1309.2 L476.6,1308.9 L477.1,1308.6 L477.6,1308.3 L478.1,1307.9 L478.6,1307.6 L479.1,1307.2 L479.6,1306.9 L480.0,1306.5 L480.5,1306.1 L481.0,1305.6 L481.5,1305.2 L482.0,1304.7 L482.5,1304.2 L483.0,1303.7 L483.4,1303.1 L483.9,1302.5 L484.4,1301.9 L484.9,1301.3 L485.4,1300.7 L485.9,1300.0 L486.4,1299.2 L486.9,1298.5 L487.3,1297.7 L487.8,1296.9 L488.3,1296.0 L488.8,1295.1 L489.3,1294.1 L489.8,1293.1 L490.3,1292.1 L490.8,1291.0 L491.2,1289.8 L491.7,1288.6 L492.2,1287.3 L492.7,1286.0 L493.2,1284.6 L493.7,1283.1 L494.2,1281.5 L494.7,1279.9 L495.1,1278.1 L495.6,1276.3 L496.1,1274.3 L496.6,1272.3 L497.1,1270.1 L497.6,1267.8 L498.1,1265.4 L498.5,1262.9 L499.0,1260.1 L499.5,1257.2 L500.0,1254.2 L500.5,1250.9 L501.0,1247.4 L501.5,1243.7 L502.0,1239.8 L502.4,1235.6 L502.9,1231.1 L503.4,1226.3 L503.9,1221.1 L504.4,1215.6 L504.9,1209.7 L505.4,1203.4 L505.9,1196.6 L506.3,1189.3 L506.8,1181.5 L507.3,1173.0 L507.8,1164.0 L508.3,1154.2 L508.8,1143.7 L509.3,1132.3 L509.8,1120.1 L510.2,1107.0 L510.7,1092.9 L511.2,1077.8 L511.7,1061.6 L512.2,1044.3 L512.7,1025.9 L513.2,1006.4 L513.6,985.9 L514.1,964.5 L514.6,942.2 L515.1,919.5 L515.6,896.5 L516.1,873.7 L516.6,851.5 L517.1,830.5 L517.5,811.3 L518.0,794.5 L518.5,780.9 L519.0,770.9 L519.5,764.9 L520.0,763.3 L520.5,766.0 L521.0,773.1 L521.4,784.1 L521.9,798.7 L522.4,816.1 L522.9,835.8 L523.4,857.2 L523.9,879.6 L524.4,902.6 L524.8,925.6 L525.3,948.2 L525.8,970.3 L526.3,991.5 L526.8,1011.8 L527.3,1031.0 L527.8,1049.1 L528.3,1066.2 L528.7,1082.1 L529.2,1097.0 L529.7,1110.8 L530.2,1123.7 L530.7,1135.7 L531.2,1146.8 L531.7,1157.2 L532.2,1166.8 L532.6,1175.7 L533.1,1184.0 L533.6,1191.7 L534.1,1198.9 L534.6,1205.6 L535.1,1211.8 L535.6,1217.6 L536.1,1223.0 L536.5,1228.1 L537.0,1232.9 L537.5,1237.3 L538.0,1241.5 L538.5,1245.4 L539.0,1249.0 L539.5,1252.5 L539.9,1255.7 L540.4,1258.7 L540.9,1261.6 L541.4,1264.3 L541.9,1266.9 L542.4,1269.3 L542.9,1271.6 L543.4,1273.7 L543.8,1275.8 L544.3,1277.7 L544.8,1279.6 L545.3,1281.3 L545.8,1283.0 L546.3,1284.6 L546.8,1286.1 L547.3,1287.5 L547.7,1288.8 L548.2,1290.1 L548.7,1291.4 L549.2,1292.6 L549.7,1293.7 L550.2,1294.8 L550.7,1295.8 L551.2,1296.8 L551.6,1297.7 L552.1,1298.6 L552.6,1299.5 L553.1,1300.3 L553.6,1301.1 L554.1,1301.9 L554.6,1302.6 L555.0,1303.3 L555.5,1304.0 L556.0,1304.6 L556.5,1305.2 L557.0,1305.8 L557.5,1306.4 L558.0,1307.0 L558.5,1307.5 L558.9,1308.0 L559.4,1308.5 L559.9,1309.0 L560.4,1309.5 L560.9,1309.9 L561.4,1310.3 L561.9,1310.7 L562.4,1311.1 L562.8,1311.5 L563.3,1311.9 L563.8,1312.3 L564.3,1312.6 L564.8,1312.9 L565.3,1313.3 L565.8,1313.6 L566.3,1313.9 L566.7,1314.2 L567.2,1314.4 L567.7,1314.7 L568.2,1315.0 L568.7,1315.2 L569.2,1315.5 L569.7,1315.7 L570.1,1316.0 L570.6,1316.2 L571.1,1316.4 L571.6,1316.6 L572.1,1316.8 L572.6,1317.0 L573.1,1317.2 L573.6,1317.4 L574.0,1317.6 L574.5,1317.7 L575.0,1317.9 L575.5,1318.1 L576.0,1318.2 L576.5,1318.4 L577.0,1318.5 L577.5,1318.7 L577.9,1318.8 L578.4,1318.9 L578.9,1319.1 L579.4,1319.2 L579.9,1319.3 L580.4,1319.4 L580.9,1319.5 L581.4,1319.6 L581.8,1319.8 L582.3,1319.9 L582.8,1320.0 L583.3,1320.0 L583.8,1320.1 L584.3,1320.2 L584.8,1320.3 L585.2,1320.4 L585.7,1320.5 L586.2,1320.5 L586.7,1320.6 L587.2,1320.7 L587.7,1320.8 L588.2,1320.8 L588.7,1320.9 L589.1,1320.9 L589.6,1321.0 L590.1,1321.0 L590.6,1321.1 L591.1,1321.1 L591.6,1321.2 L592.1,1321.2 L592.6,1321.3 L593.0,1321.3 L593.5,1321.4 L594.0,1321.4 L594.5,1321.4 L595.0,1321.4 L595.5,1321.5 L596.0,1321.5 L596.5,1321.5 L596.9,1321.5 L597.4,1321.6 L597.9,1321.6 L598.4,1321.6 L598.9,1321.6 L599.4,1321.6 L599.9,1321.6 L600.3,1321.6 L600.8,1321.6 L601.3,1321.6 L601.8,1321.7 L602.3,1321.6 L602.8,1321.6 L603.3,1321.6 L603.8,1321.6 L604.2,1321.6 L604.7,1321.6 L605.2,1321.6 L605.7,1321.6 L606.2,1321.6 L606.7,1321.6 L607.2,1321.5 L607.7,1321.5 L608.1,1321.5 L608.6,1321.5 L609.1,1321.4 L609.6,1321.4 L610.1,1321.4 L610.6,1321.4 L611.1,1321.3 L611.6,1321.3 L612.0,1321.3 L612.5,1321.2 L613.0,1321.2 L613.5,1321.1 L614.0,1321.1 L614.5,1321.0 L615.0,1321.0 L615.4,1320.9 L615.9,1320.9 L616.4,1320.8 L616.9,1320.8 L617.4,1320.7 L617.9,1320.6 L618.4,1320.6 L618.9,1320.5 L619.3,1320.4 L619.8,1320.4 L620.3,1320.3 L620.8,1320.2 L621.3,1320.1 L621.8,1320.1 L622.3,1320.0 L622.8,1319.9 L623.2,1319.8 L623.7,1319.7 L624.2,1319.6 L624.7,1319.5 L625.2,1319.4 L625.7,1319.3 L626.2,1319.2 L626.6,1319.1 L627.1,1319.0 L627.6,1318.9 L628.1,1318.8 L628.6,1318.7 L629.1,1318.5 L629.6,1318.4 L630.1,1318.3 L630.5,1318.1 L631.0,1318.0 L631.5,1317.9 L632.0,1317.7 L632.5,1317.6 L633.0,1317.4 L633.5,1317.3 L634.0,1317.1 L634.4,1317.0 L634.9,1316.8 L635.4,1316.6 L635.9,1316.4 L636.4,1316.3 L636.9,1316.1 L637.4,1315.9 L637.9,1315.7 L638.3,1315.5 L638.8,1315.3 L639.3,1315.1 L639.8,1314.8 L640.3,1314.6 L640.8,1314.4 L641.3,1314.1 L641.7,1313.9 L642.2,1313.7 L642.7,1313.4 L643.2,1313.1 L643.7,1312.9 L644.2,1312.6 L644.7,1312.3 L645.2,1312.0 L645.6,1311.7 L646.1,1311.4 L646.6,1311.0 L647.1,1310.7 L647.6,1310.4 L648.1,1310.0 L648.6,1309.6 L649.1,1309.3 L649.5,1308.9 L650.0,1308.5 L650.5,1308.0 L651.0,1307.6 L651.5,1307.2 L652.0,1306.7 L652.5,1306.2 L653.0,1305.7 L653.4,1305.2 L653.9,1304.7 L654.4,1304.1 L654.9,1303.6 L655.4,1303.0 L655.9,1302.4 L656.4,1301.7 L656.8,1301.1 L657.3,1300.4 L657.8,1299.7 L658.3,1298.9 L658.8,1298.1 L659.3,1297.3 L659.8,1296.5 L660.3,1295.6 L660.7,1294.7 L661.2,1293.7 L661.7,1292.7 L662.2,1291.6 L662.7,1290.5 L663.2,1289.4 L663.7,1288.1 L664.2,1286.9 L664.6,1285.5 L665.1,1284.1 L665.6,1282.6 L666.1,1281.0 L666.6,1279.4 L667.1,1277.6 L667.6,1275.8 L668.1,1273.8 L668.5,1271.7 L669.0,1269.5 L669.5,1267.1 L670.0,1264.6 L670.5,1262.0 L671.0,1259.2 L671.5,1256.1 L671.9,1252.9 L672.4,1249.5 L672.9,1245.8 L673.4,1241.8 L673.9,1237.6 L674.4,1233.1 L674.9,1228.3 L675.4,1223.2 L675.8,1217.6 L676.3,1211.8 L676.8,1205.5 L677.3,1198.8 L677.8,1191.8 L678.3,1184.3 L678.8,1176.6 L679.3,1168.4 L679.7,1160.0 L680.2,1151.5 L680.7,1142.8 L681.2,1134.3 L681.7,1126.0 L682.2,1118.1 L682.7,1110.8 L683.2,1104.4 L683.6,1099.1 L684.1,1095.0 L684.6,1092.3 L685.1,1091.1 L685.6,1091.3 L686.1,1092.8 L686.6,1095.7 L687.0,1099.6 L687.5,1104.4 L688.0,1109.8 L688.5,1115.8 L689.0,1122.0 L689.5,1128.2 L690.0,1134.4 L690.5,1140.4 L690.9,1146.2 L691.4,1151.6 L691.9,1156.6 L692.4,1161.3 L692.9,1165.5 L693.4,1169.3 L693.9,1172.7 L694.4,1175.7 L694.8,1178.4 L695.3,1180.7 L695.8,1182.6 L696.3,1184.3 L696.8,1185.6 L697.3,1186.7 L697.8,1187.6 L698.3,1188.2 L698.7,1188.6 L699.2,1188.9 L699.7,1188.9 L700.2,1188.8 L700.7,1188.6 L701.2,1188.3 L701.7,1187.8 L702.1,1187.3 L702.6,1186.7 L703.1,1186.0 L703.6,1185.3 L704.1,1184.5 L704.6,1183.7 L705.1,1182.9 L705.6,1182.0 L706.0,1181.2 L706.5,1180.3 L707.0,1179.4 L707.5,1178.5 L708.0,1177.6 L708.5,1176.7 L709.0,1175.8 L709.5,1174.9 L709.9,1174.0 L710.4,1173.1 L710.9,1172.1 L711.4,1171.1 L711.9,1170.1 L712.4,1169.0 L712.9,1167.8 L713.3,1166.6 L713.8,1165.2 L714.3,1163.7 L714.8,1162.1 L715.3,1160.3 L715.8,1158.4 L716.3,1156.2 L716.8,1153.8 L717.2,1151.1 L717.7,1148.2 L718.2,1144.9 L718.7,1141.3 L719.2,1137.3 L719.7,1132.9 L720.2,1128.1 L720.7,1122.7 L721.1,1116.8 L721.6,1110.3 L722.1,1103.2 L722.6,1095.4 L723.1,1086.8 L723.6,1077.5 L724.1,1067.3 L724.6,1056.1 L725.0,1044.0 L725.5,1030.9 L726.0,1016.7 L726.5,1001.4 L727.0,984.9 L727.5,967.3 L728.0,948.6 L728.4,928.8 L728.9,908.1 L729.4,886.7 L729.9,864.8 L730.4,842.8 L730.9,821.0 L731.4,800.0 L731.9,780.3 L732.3,762.6 L732.8,747.5 L733.3,735.7 L733.8,727.5 L734.3,723.5 L734.8,723.8 L735.3,728.5 L735.8,737.3 L736.2,749.9 L736.7,765.8 L737.2,784.4 L737.7,804.9 L738.2,827.0 L738.7,849.8 L739.2,872.9 L739.7,896.0 L740.1,918.6 L740.6,940.5 L741.1,961.5 L741.6,981.5 L742.1,1000.4 L742.6,1018.2 L743.1,1034.9 L743.5,1050.4 L744.0,1064.9 L744.5,1078.4 L745.0,1090.9 L745.5,1102.5 L746.0,1113.3 L746.5,1123.2 L747.0,1132.4 L747.4,1141.0 L747.9,1148.9 L748.4,1156.2 L748.9,1163.0 L749.4,1169.2 L749.9,1175.0 L750.4,1180.4 L750.9,1185.4 L751.3,1190.0 L751.8,1194.3 L752.3,1198.3 L752.8,1202.0 L753.3,1205.4 L753.8,1208.5 L754.3,1211.4 L754.8,1214.2 L755.2,1216.7 L755.7,1219.0 L756.2,1221.2 L756.7,1223.1 L757.2,1225.0 L757.7,1226.7 L758.2,1228.3 L758.6,1229.8 L759.1,1231.1 L759.6,1232.4 L760.1,1233.5 L760.6,1234.6 L761.1,1235.6 L761.6,1236.5 L762.1,1237.4 L762.5,1238.2 L763.0,1238.9 L763.5,1239.6 L764.0,1240.2 L764.5,1240.7 L765.0,1241.3 L765.5,1241.7 L766.0,1242.1 L766.4,1242.5 L766.9,1242.8 L767.4,1243.1 L767.9,1243.3 L768.4,1243.5 L768.9,1243.6 L769.4,1243.7 L769.9,1243.7 L770.3,1243.6 L770.8,1243.5 L771.3,1243.3 L771.8,1243.0 L772.3,1242.7 L772.8,1242.2 L773.3,1241.7 L773.7,1241.1 L774.2,1240.4 L774.7,1239.6 L775.2,1238.6 L775.7,1237.6 L776.2,1236.4 L776.7,1235.1 L777.2,1233.7 L777.6,1232.1 L778.1,1230.4 L778.6,1228.4 L779.1,1226.4 L779.6,1224.1 L780.1,1221.6 L780.6,1218.9 L781.1,1215.9 L781.5,1212.8 L782.0,1209.3 L782.5,1205.5 L783.0,1201.5 L783.5,1197.1 L784.0,1192.3 L784.5,1187.1 L785.0,1181.6 L785.4,1175.5 L785.9,1169.0 L786.4,1161.9 L786.9,1154.2 L787.4,1145.9 L787.9,1136.9 L788.4,1127.2 L788.8,1116.7 L789.3,1105.4 L789.8,1093.2 L790.3,1080.0 L790.8,1065.9 L791.3,1050.7 L791.8,1034.4 L792.3,1017.2 L792.7,998.8 L793.2,979.5 L793.7,959.4 L794.2,938.5 L794.7,917.2 L795.2,895.6 L795.7,874.3 L796.2,853.7 L796.6,834.2 L797.1,816.6 L797.6,801.4 L798.1,789.1 L798.6,780.4 L799.1,775.6 L799.6,774.8 L800.1,778.3 L800.5,785.7 L801.0,796.8 L801.5,811.1 L802.0,828.1 L802.5,847.2 L803.0,867.7 L803.5,889.1 L803.9,910.9 L804.4,932.7 L804.9,954.1 L805.4,974.9 L805.9,994.9 L806.4,1013.9 L806.9,1032.0 L807.4,1049.0 L807.8,1065.0 L808.3,1079.9 L808.8,1093.8 L809.3,1106.8 L809.8,1118.8 L810.3,1130.0 L810.8,1140.4 L811.3,1150.1 L811.7,1159.1 L812.2,1167.4 L812.7,1175.1 L813.2,1182.3 L813.7,1188.9 L814.2,1195.1 L814.7,1200.9 L815.1,1206.3 L815.6,1211.3 L816.1,1216.0 L816.6,1220.3 L817.1,1224.4 L817.6,1228.2 L818.1,1231.7 L818.6,1235.0 L819.0,1238.1 L819.5,1241.0 L820.0,1243.7 L820.5,1246.3 L821.0,1248.7 L821.5,1250.9 L822.0,1253.0 L822.5,1254.9 L822.9,1256.8 L823.4,1258.5 L823.9,1260.1 L824.4,1261.6 L824.9,1263.0 L825.4,1264.3 L825.9,1265.6 L826.4,1266.7 L826.8,1267.8 L827.3,1268.8 L827.8,1269.7 L828.3,1270.6 L828.8,1271.4 L829.3,1272.1 L829.8,1272.8 L830.2,1273.4 L830.7,1274.0 L831.2,1274.6 L831.7,1275.0 L832.2,1275.5 L832.7,1275.9 L833.2,1276.2 L833.7,1276.6 L834.1,1276.9 L834.6,1277.1 L835.1,1277.4 L835.6,1277.6 L836.1,1277.8 L836.6,1277.9 L837.1,1278.1 L837.6,1278.2 L838.0,1278.3 L838.5,1278.4 L839.0,1278.5 L839.5,1278.6 L840.0,1278.7 L840.5,1278.8 L841.0,1278.9 L841.5,1278.9 L841.9,1279.0 L842.4,1279.1 L842.9,1279.2 L843.4,1279.4 L843.9,1279.5 L844.4,1279.6 L844.9,1279.8 L845.3,1279.9 L845.8,1280.1 L846.3,1280.2 L846.8,1280.4 L847.3,1280.6 L847.8,1280.8 L848.3,1281.0 L848.8,1281.2 L849.2,1281.4 L849.7,1281.6 L850.2,1281.8 L850.7,1282.1 L851.2,1282.3 L851.7,1282.4 L852.2,1282.6 L852.7,1282.8 L853.1,1283.0 L853.6,1283.1 L854.1,1283.3 L854.6,1283.4 L855.1,1283.5 L855.6,1283.6 L856.1,1283.6 L856.6,1283.7 L857.0,1283.7 L857.5,1283.7 L858.0,1283.7 L858.5,1283.6 L859.0,1283.5 L859.5,1283.4 L860.0,1283.3 L860.4,1283.1 L860.9,1282.9 L861.4,1282.7 L861.9,1282.5 L862.4,1282.2 L862.9,1281.9 L863.4,1281.5 L863.9,1281.2 L864.3,1280.7 L864.8,1280.3 L865.3,1279.8 L865.8,1279.3 L866.3,1278.7 L866.8,1278.1 L867.3,1277.4 L867.8,1276.7 L868.2,1276.0 L868.7,1275.2 L869.2,1274.4 L869.7,1273.5 L870.2,1272.5 L870.7,1271.5 L871.2,1270.5 L871.7,1269.4 L872.1,1268.2 L872.6,1266.9 L873.1,1265.6 L873.6,1264.2 L874.1,1262.8 L874.6,1261.2 L875.1,1259.6 L875.5,1257.9 L876.0,1256.1 L876.5,1254.1 L877.0,1252.1 L877.5,1250.0 L878.0,1247.7 L878.5,1245.3 L879.0,1242.8 L879.4,1240.1 L879.9,1237.3 L880.4,1234.3 L880.9,1231.1 L881.4,1227.8 L881.9,1224.2 L882.4,1220.4 L882.9,1216.4 L883.3,1212.1 L883.8,1207.6 L884.3,1202.7 L884.8,1197.6 L885.3,1192.1 L885.8,1186.2 L886.3,1180.0 L886.8,1173.3 L887.2,1166.1 L887.7,1158.5 L888.2,1150.3 L888.7,1141.5 L889.2,1132.0 L889.7,1121.9 L890.2,1111.0 L890.6,1099.3 L891.1,1086.7 L891.6,1073.1 L892.1,1058.5 L892.6,1042.8 L893.1,1026.0 L893.6,1007.8 L894.1,988.4 L894.5,967.5 L895.0,945.2 L895.5,921.4 L896.0,896.2 L896.5,869.5 L897.0,841.5 L897.5,812.3 L898.0,782.2 L898.4,751.5 L898.9,720.6 L899.4,690.1 L899.9,660.7 L900.4,633.1 L900.9,608.1 L901.4,586.6 L901.8,569.4 L902.3,557.0 L902.8,550.0 L903.3,548.6 L903.8,552.8 L904.3,562.3 L904.8,576.6 L905.3,595.0 L905.7,616.8 L906.2,641.0 L906.7,666.8 L907.2,693.5 L907.7,720.4 L908.2,746.9 L908.7,772.6 L909.2,797.1 L909.6,820.1 L910.1,841.6 L910.6,861.3 L911.1,879.2 L911.6,895.3 L912.1,909.6 L912.6,922.1 L913.1,932.8 L913.5,941.7 L914.0,949.0 L914.5,954.6 L915.0,958.7 L915.5,961.2 L916.0,962.3 L916.5,962.0 L916.9,960.5 L917.4,957.8 L917.9,954.2 L918.4,949.9 L918.9,945.0 L919.4,939.8 L919.9,934.8 L920.4,930.1 L920.8,926.3 L921.3,923.6 L921.8,922.5 L922.3,923.2 L922.8,925.8 L923.3,930.6 L923.8,937.4 L924.3,946.2 L924.7,956.8 L925.2,968.9 L925.7,982.1 L926.2,996.2 L926.7,1010.8 L927.2,1025.7 L927.7,1040.5 L928.2,1055.0 L928.6,1069.2 L929.1,1082.9 L929.6,1096.0 L930.1,1108.4 L930.6,1120.2 L931.1,1131.3 L931.6,1141.7 L932.0,1151.5 L932.5,1160.6 L933.0,1169.2 L933.5,1177.2 L934.0,1184.7 L934.5,1191.6 L935.0,1198.1 L935.5,1204.2 L935.9,1209.9 L936.4,1215.3 L936.9,1220.3 L937.4,1224.9 L937.9,1229.3 L938.4,1233.4 L938.9,1237.3 L939.4,1241.0 L939.8,1244.4 L940.3,1247.6 L940.8,1250.7 L941.3,1253.6 L941.8,1256.3 L942.3,1258.9 L942.8,1261.3 L943.3,1263.6 L943.7,1265.8 L944.2,1267.9 L944.7,1269.9 L945.2,1271.8 L945.7,1273.6 L946.2,1275.3 L946.7,1276.9 L947.1,1278.4 L947.6,1279.9 L948.1,1281.3 L948.6,1282.7 L949.1,1284.0 L949.6,1285.2 L950.1,1286.4 L950.6,1287.6 L951.0,1288.7 L951.5,1289.7 L952.0,1290.7 L952.5,1291.7 L953.0,1292.6 L953.5,1293.5 L954.0,1294.4 L954.5,1295.2 L954.9,1296.0 L955.4,1296.8 L955.9,1297.5 L956.4,1298.2 L956.9,1298.9 L957.4,1299.6 L957.9,1300.2 L958.4,1300.8 L958.8,1301.4 L959.3,1302.0 L959.8,1302.6 L960.3,1303.1 L960.8,1303.6 L961.3,1304.1 L961.8,1304.6 L962.2,1305.1 L962.7,1305.6 L963.2,1306.0 L963.7,1306.4 L964.2,1306.8 L964.7,1307.3 L965.2,1307.6 L965.7,1308.0 L966.1,1308.4 L966.6,1308.7 L967.1,1309.1 L967.6,1309.4 L968.1,1309.7 L968.6,1310.1 L969.1,1310.4 L969.6,1310.7 L970.0,1310.9 L970.5,1311.2 L971.0,1311.5 L971.5,1311.8 L972.0,1312.0 L972.5,1312.3 L973.0,1312.5 L973.5,1312.7 L973.9,1312.9 L974.4,1313.2 L974.9,1313.4 L975.4,1313.6 L975.9,1313.8 L976.4,1314.0 L976.9,1314.1 L977.3,1314.3 L977.8,1314.5 L978.3,1314.7 L978.8,1314.8 L979.3,1315.0 L979.8,1315.1 L980.3,1315.3 L980.8,1315.4 L981.2,1315.5 L981.7,1315.6 L982.2,1315.8 L982.7,1315.9 L983.2,1316.0 L983.7,1316.1 L984.2,1316.2 L984.7,1316.3 L985.1,1316.4 L985.6,1316.5 L986.1,1316.5 L986.6,1316.6 L987.1,1316.7 L987.6,1316.7 L988.1,1316.8 L988.5,1316.8 L989.0,1316.9 L989.5,1316.9 L990.0,1317.0 L990.5,1317.0 L991.0,1317.0 L991.5,1317.0 L992.0,1317.1 L992.4,1317.1 L992.9,1317.1 L993.4,1317.0 L993.9,1317.0 L994.4,1317.0 L994.9,1317.0 L995.4,1317.0 L995.9,1316.9 L996.3,1316.9 L996.8,1316.8 L997.3,1316.7 L997.8,1316.7 L998.3,1316.6 L998.8,1316.5 L999.3,1316.4 L999.8,1316.3 L1000.2,1316.1 L1000.7,1316.0 L1001.2,1315.9 L1001.7,1315.7 L1002.2,1315.5 L1002.7,1315.3 L1003.2,1315.1 L1003.6,1314.9 L1004.1,1314.7 L1004.6,1314.4 L1005.1,1314.1 L1005.6,1313.9 L1006.1,1313.5 L1006.6,1313.2 L1007.1,1312.9 L1007.5,1312.5 L1008.0,1312.1 L1008.5,1311.6 L1009.0,1311.1 L1009.5,1310.6 L1010.0,1310.1 L1010.5,1309.5 L1011.0,1308.9 L1011.4,1308.2 L1011.9,1307.4 L1012.4,1306.7 L1012.9,1305.8 L1013.4,1304.9 L1013.9,1303.9 L1014.4,1302.9 L1014.9,1301.8 L1015.3,1300.5 L1015.8,1299.2 L1016.3,1297.8 L1016.8,1296.3 L1017.3,1294.6 L1017.8,1292.8 L1018.3,1290.9 L1018.7,1288.8 L1019.2,1286.6 L1019.7,1284.2 L1020.2,1281.7 L1020.7,1278.9 L1021.2,1276.0 L1021.7,1273.0 L1022.2,1269.7 L1022.6,1266.4 L1023.1,1262.9 L1023.6,1259.3 L1024.1,1255.8 L1024.6,1252.2 L1025.1,1248.8 L1025.6,1245.6 L1026.1,1242.7 L1026.5,1240.2 L1027.0,1238.3 L1027.5,1236.9 L1028.0,1236.1 L1028.5,1236.1 L1029.0,1236.7 L1029.5,1238.0 L1030.0,1239.8 L1030.4,1242.2 L1030.9,1245.0 L1031.4,1248.2 L1031.9,1251.5 L1032.4,1255.0 L1032.9,1258.6 L1033.4,1262.1 L1033.8,1265.6 L1034.3,1268.9 L1034.8,1272.2 L1035.3,1275.2 L1035.8,1278.2 L1036.3,1280.9 L1036.8,1283.4 L1037.3,1285.8 L1037.7,1288.1 L1038.2,1290.1 L1038.7,1292.0 L1039.2,1293.8 L1039.7,1295.4 L1040.2,1297.0 L1040.7,1298.4 L1041.2,1299.7 L1041.6,1300.9 L1042.1,1302.0 L1042.6,1303.0 L1043.1,1303.9 L1043.6,1304.8 L1044.1,1305.6 L1044.6,1306.3 L1045.1,1307.0 L1045.5,1307.7 L1046.0,1308.2 L1046.5,1308.8 L1047.0,1309.3 L1047.5,1309.7 L1048.0,1310.1 L1048.5,1310.5 L1048.9,1310.8 L1049.4,1311.2 L1049.9,1311.4 L1050.4,1311.7 L1050.9,1311.9 L1051.4,1312.1 L1051.9,1312.3 L1052.4,1312.5 L1052.8,1312.6 L1053.3,1312.7 L1053.8,1312.8 L1054.3,1312.9 L1054.8,1312.9 L1055.3,1313.0 L1055.8,1313.0 L1056.3,1313.0 L1056.7,1313.0 L1057.2,1313.0 L1057.7,1313.0 L1058.2,1312.9 L1058.7,1312.9 L1059.2,1312.8 L1059.7,1312.7 L1060.2,1312.6 L1060.6,1312.5 L1061.1,1312.4 L1061.6,1312.3 L1062.1,1312.1 L1062.6,1312.0 L1063.1,1311.9 L1063.6,1311.7 L1064.0,1311.6 L1064.5,1311.4 L1065.0,1311.3 L1065.5,1311.1 L1066.0,1311.0 L1066.5,1310.8 L1067.0,1310.7 L1067.5,1310.5 L1067.9,1310.4 L1068.4,1310.3 L1068.9,1310.1 L1069.4,1310.0 L1069.9,1309.9 L1070.4,1309.8 L1070.9,1309.8 L1071.4,1309.7 L1071.8,1309.6 L1072.3,1309.6 L1072.8,1309.6 L1073.3,1309.5 L1073.8,1309.5 L1074.3,1309.5 L1074.8,1309.5 L1075.3,1309.6 L1075.7,1309.6 L1076.2,1309.6 L1076.7,1309.7 L1077.2,1309.7 L1077.7,1309.8 L1078.2,1309.8 L1078.7,1309.9 L1079.1,1310.0 L1079.6,1310.0 L1080.1,1310.1 L1080.6,1310.1 L1081.1,1310.2 L1081.6,1310.2 L1082.1,1310.2 L1082.6,1310.3 L1083.0,1310.3 L1083.5,1310.3 L1084.0,1310.3 L1084.5,1310.3 L1085.0,1310.2 L1085.5,1310.2 L1086.0,1310.1 L1086.5,1310.1 L1086.9,1310.0 L1087.4,1309.8 L1087.9,1309.7 L1088.4,1309.6 L1088.9,1309.4 L1089.4,1309.2 L1089.9,1309.0 L1090.3,1308.8 L1090.8,1308.5 L1091.3,1308.2 L1091.8,1307.9 L1092.3,1307.6 L1092.8,1307.2 L1093.3,1306.8 L1093.8,1306.3 L1094.2,1305.9 L1094.7,1305.3 L1095.2,1304.8 L1095.7,1304.2 L1096.2,1303.6 L1096.7,1302.9 L1097.2,1302.1 L1097.7,1301.3 L1098.1,1300.5 L1098.6,1299.5 L1099.1,1298.5 L1099.6,1297.5 L1100.1,1296.3 L1100.6,1295.1 L1101.1,1293.7 L1101.6,1292.3 L1102.0,1290.8 L1102.5,1289.1 L1103.0,1287.3 L1103.5,1285.4 L1104.0,1283.4 L1104.5,1281.2 L1105.0,1278.9 L1105.4,1276.4 L1105.9,1273.8 L1106.4,1271.0 L1106.9,1268.1 L1107.4,1265.0 L1107.9,1261.9 L1108.4,1258.7 L1108.9,1255.4 L1109.3,1252.2 L1109.8,1249.1 L1110.3,1246.1 L1110.8,1243.4 L1111.3,1241.0 L1111.8,1239.0 L1112.3,1237.4 L1112.8,1236.4 L1113.2,1235.8 L1113.7,1235.9 L1114.2,1236.4 L1114.7,1237.4 L1115.2,1238.8 L1115.7,1240.5 L1116.2,1242.5 L1116.7,1244.6 L1117.1,1246.9 L1117.6,1249.1 L1118.1,1251.4 L1118.6,1253.6 L1119.1,1255.7 L1119.6,1257.7 L1120.1,1259.5 L1120.5,1261.3 L1121.0,1262.8 L1121.5,1264.3 L1122.0,1265.6 L1122.5,1266.8 L1123.0,1267.9 L1123.5,1268.9 L1124.0,1269.8 L1124.4,1270.5 L1124.9,1271.3 L1125.4,1271.9 L1125.9,1272.5 L1126.4,1273.0 L1126.9,1273.5 L1127.4,1274.0 L1127.9,1274.4 L1128.3,1274.8 L1128.8,1275.2 L1129.3,1275.5 L1129.8,1275.8 L1130.3,1276.1 L1130.8,1276.4 L1131.3,1276.7 L1131.8,1276.9 L1132.2,1277.1 L1132.7,1277.3 L1133.2,1277.5 L1133.7,1277.6 L1134.2,1277.8 L1134.7,1277.8 L1135.2,1277.9 L1135.6,1277.9 L1136.1,1277.8 L1136.6,1277.7 L1137.1,1277.5 L1137.6,1277.3 L1138.1,1277.0 L1138.6,1276.6 L1139.1,1276.1 L1139.5,1275.5 L1140.0,1274.8 L1140.5,1274.1 L1141.0,1273.2 L1141.5,1272.1 L1142.0,1271.0 L1142.5,1269.7 L1143.0,1268.3 L1143.4,1266.7 L1143.9,1265.0 L1144.4,1263.1 L1144.9,1261.1 L1145.4,1259.0 L1145.9,1256.7 L1146.4,1254.4 L1146.9,1252.0 L1147.3,1249.5 L1147.8,1247.1 L1148.3,1244.8 L1148.8,1242.6 L1149.3,1240.6 L1149.8,1239.0 L1150.3,1237.7 L1150.7,1236.8 L1151.2,1236.3 L1151.7,1236.4 L1152.2,1236.9 L1152.7,1237.9 L1153.2,1239.2 L1153.7,1241.0 L1154.2,1243.0 L1154.6,1245.2 L1155.1,1247.5 L1155.6,1249.9 L1156.1,1252.3 L1156.6,1254.7 L1157.1,1257.1 L1157.6,1259.3 L1158.1,1261.5 L1158.5,1263.5 L1159.0,1265.4 L1159.5,1267.2 L1160.0,1268.8 L1160.5,1270.4 L1161.0,1271.8 L1161.5,1273.1 L1162.0,1274.2 L1162.4,1275.3 L1162.9,1276.3 L1163.4,1277.1 L1163.9,1277.9 L1164.4,1278.6 L1164.9,1279.2 L1165.4,1279.7 L1165.8,1280.2 L1166.3,1280.5 L1166.8,1280.8 L1167.3,1281.0 L1167.8,1281.1 L1168.3,1281.1 L1168.8,1281.1 L1169.3,1280.9 L1169.7,1280.7 L1170.2,1280.4 L1170.7,1280.0 L1171.2,1279.5 L1171.7,1278.9 L1172.2,1278.2 L1172.7,1277.4 L1173.2,1276.4 L1173.6,1275.3 L1174.1,1274.1 L1174.6,1272.8 L1175.1,1271.3 L1175.6,1269.7 L1176.1,1267.8 L1176.6,1265.8 L1177.0,1263.7 L1177.5,1261.3 L1178.0,1258.7 L1178.5,1255.9 L1179.0,1252.9 L1179.5,1249.7 L1180.0,1246.3 L1180.5,1242.7 L1180.9,1239.0 L1181.4,1235.1 L1181.9,1231.1 L1182.4,1227.1 L1182.9,1223.2 L1183.4,1219.4 L1183.9,1215.8 L1184.4,1212.6 L1184.8,1209.8 L1185.3,1207.6 L1185.8,1206.0 L1186.3,1205.1 L1186.8,1205.0 L1187.3,1205.5 L1187.8,1206.7 L1188.3,1208.6 L1188.7,1210.9 L1189.2,1213.7 L1189.7,1216.8 L1190.2,1220.1 L1190.7,1223.5 L1191.2,1227.0 L1191.7,1230.4 L1192.1,1233.8 L1192.6,1237.1 L1193.1,1240.2 L1193.6,1243.2 L1194.1,1246.0 L1194.6,1248.6 L1195.1,1251.1 L1195.6,1253.5 L1196.0,1255.7 L1196.5,1257.7 L1197.0,1259.7 L1197.5,1261.5 L1198.0,1263.2 L1198.5,1264.9 L1199.0,1266.4 L1199.5,1267.9 L1199.9,1269.4 L1200.4,1270.7 L1200.9,1272.0 L1201.4,1273.3 L1201.9,1274.5 L1202.4,1275.7 L1202.9,1276.8 L1203.4,1278.0 L1203.8,1279.0 L1204.3,1280.1 L1204.8,1281.1 L1205.3,1282.1 L1205.8,1283.1 L1206.3,1284.1 L1206.8,1285.0 L1207.2,1286.0 L1207.7,1286.9 L1208.2,1287.8 L1208.7,1288.6 L1209.2,1289.5 L1209.7,1290.3 L1210.2,1291.1 L1210.7,1291.9 L1211.1,1292.7 L1211.6,1293.4 L1212.1,1294.1 L1212.6,1294.8 L1213.1,1295.5 L1213.6,1296.2 L1214.1,1296.8 L1214.6,1297.5 L1215.0,1298.1 L1215.5,1298.7 L1216.0,1299.2 L1216.5,1299.8 L1217.0,1300.3 L1217.5,1300.8 L1218.0,1301.3 L1218.5,1301.7 L1218.9,1302.2 L1219.4,1302.6 L1219.9,1303.0 L1220.4,1303.4 L1220.9,1303.7 L1221.4,1304.1 L1221.9,1304.4 L1222.3,1304.6 L1222.8,1304.9 L1223.3,1305.2 L1223.8,1305.4 L1224.3,1305.6 L1224.8,1305.8 L1225.3,1305.9 L1225.8,1306.0 L1226.2,1306.1 L1226.7,1306.2 L1227.2,1306.3 L1227.7,1306.3 L1228.2,1306.3 L1228.7,1306.3 L1229.2,1306.3 L1229.7,1306.2 L1230.1,1306.1 L1230.6,1306.0 L1231.1,1305.8 L1231.6,1305.6 L1232.1,1305.4 L1232.6,1305.2 L1233.1,1304.9 L1233.6,1304.5 L1234.0,1304.1 L1234.5,1303.7 L1235.0,1303.2 L1235.5,1302.7 L1236.0,1302.1 L1236.5,1301.5 L1237.0,1300.8 L1237.4,1300.1 L1237.9,1299.2 L1238.4,1298.3 L1238.9,1297.3 L1239.4,1296.3 L1239.9,1295.1 L1240.4,1293.8 L1240.9,1292.5 L1241.3,1291.0 L1241.8,1289.4 L1242.3,1287.7 L1242.8,1285.9 L1243.3,1283.9 L1243.8,1281.9 L1244.3,1279.7 L1244.8,1277.5 L1245.2,1275.2 L1245.7,1272.8 L1246.2,1270.5 L1246.7,1268.2 L1247.2,1266.0 L1247.7,1263.9 L1248.2,1262.1 L1248.7,1260.6 L1249.1,1259.3 L1249.6,1258.5 L1250.1,1258.1 L1250.6,1258.1 L1251.1,1258.5 L1251.6,1259.3 L1252.1,1260.4 L1252.5,1261.8 L1253.0,1263.5 L1253.5,1265.3 L1254.0,1267.1 L1254.5,1269.1 L1255.0,1271.0 L1255.5,1273.0 L1256.0,1274.8 L1256.4,1276.6 L1256.9,1278.2 L1257.4,1279.8 L1257.9,1281.2 L1258.4,1282.5 L1258.9,1283.7 L1259.4,1284.8 L1259.9,1285.8 L1260.3,1286.7 L1260.8,1287.5 L1261.3,1288.2 L1261.8,1288.8 L1262.3,1289.3 L1262.8,1289.8 L1263.3,1290.2 L1263.7,1290.6 L1264.2,1290.9 L1264.7,1291.2 L1265.2,1291.4 L1265.7,1291.6 L1266.2,1291.8 L1266.7,1291.9 L1267.2,1292.0 L1267.6,1292.1 L1268.1,1292.2 L1268.6,1292.3 L1269.1,1292.4 L1269.6,1292.4 L1270.1,1292.5 L1270.6,1292.5 L1271.1,1292.6 L1271.5,1292.6 L1272.0,1292.7 L1272.5,1292.7 L1273.0,1292.7 L1273.5,1292.7 L1274.0,1292.7 L1274.5,1292.7 L1275.0,1292.7 L1275.4,1292.7 L1275.9,1292.6 L1276.4,1292.5 L1276.9,1292.4 L1277.4,1292.3 L1277.9,1292.1 L1278.4,1291.9 L1278.8,1291.7 L1279.3,1291.4 L1279.8,1291.0 L1280.3,1290.7 L1280.8,1290.2 L1281.3,1289.7 L1281.8,1289.1 L1282.3,1288.5 L1282.7,1287.8 L1283.2,1286.9 L1283.7,1286.1 L1284.2,1285.1 L1284.7,1284.0 L1285.2,1282.7 L1285.7,1281.4 L1286.2,1279.9 L1286.6,1278.3 L1287.1,1276.6 L1287.6,1274.6 L1288.1,1272.5 L1288.6,1270.2 L1289.1,1267.7 L1289.6,1265.0 L1290.1,1262.0 L1290.5,1258.8 L1291.0,1255.4 L1291.5,1251.6 L1292.0,1247.6 L1292.5,1243.4 L1293.0,1238.9 L1293.5,1234.1 L1293.9,1229.1 L1294.4,1223.9 L1294.9,1218.6 L1295.4,1213.3 L1295.9,1208.0 L1296.4,1202.9 L1296.9,1198.1 L1297.4,1193.7 L1297.8,1190.0 L1298.3,1187.0 L1298.8,1185.0 L1299.3,1183.8 L1299.8,1183.8 L1300.3,1184.7 L1300.8,1186.7 L1301.3,1189.5 L1301.7,1193.2 L1302.2,1197.5 L1302.7,1202.3 L1303.2,1207.4 L1303.7,1212.8 L1304.2,1218.2 L1304.7,1223.6 L1305.2,1228.9 L1305.6,1234.1 L1306.1,1239.0 L1306.6,1243.7 L1307.1,1248.2 L1307.6,1252.3 L1308.1,1256.2 L1308.6,1259.9 L1309.0,1263.3 L1309.5,1266.4 L1310.0,1269.3 L1310.5,1272.0 L1311.0,1274.5 L1311.5,1276.8 L1312.0,1278.9 L1312.5,1280.9 L1312.9,1282.7 L1313.4,1284.3 L1313.9,1285.8 L1314.4,1287.2 L1314.9,1288.5 L1315.4,1289.7 L1315.9,1290.8 L1316.4,1291.8 L1316.8,1292.7 L1317.3,1293.5 L1317.8,1294.3 L1318.3,1294.9 L1318.8,1295.5 L1319.3,1296.1 L1319.8,1296.6 L1320.3,1297.0 L1320.7,1297.4 L1321.2,1297.8 L1321.7,1298.0 L1322.2,1298.3 L1322.7,1298.5 L1323.2,1298.7 L1323.7,1298.8 L1324.1,1298.9 L1324.6,1298.9 L1325.1,1298.9 L1325.6,1298.9 L1326.1,1298.9 L1326.6,1298.8 L1327.1,1298.6 L1327.6,1298.5 L1328.0,1298.3 L1328.5,1298.1 L1329.0,1297.9 L1329.5,1297.6 L1330.0,1297.4 L1330.5,1297.0 L1331.0,1296.7 L1331.5,1296.4 L1331.9,1296.0 L1332.4,1295.6 L1332.9,1295.2 L1333.4,1294.8 L1333.9,1294.3 L1334.4,1293.9 L1334.9,1293.4 L1335.4,1293.0 L1335.8,1292.5 L1336.3,1292.0 L1336.8,1291.5 L1337.3,1291.1 L1337.8,1290.6 L1338.3,1290.1 L1338.8,1289.7 L1339.2,1289.3 L1339.7,1288.9 L1340.2,1288.5 L1340.7,1288.1 L1341.2,1287.8 L1341.7,1287.5 L1342.2,1287.2 L1342.7,1287.0 L1343.1,1286.8 L1343.6,1286.7 L1344.1,1286.6 L1344.6,1286.5 L1345.1,1286.5 L1345.6,1286.5 L1346.1,1286.6 L1346.6,1286.7 L1347.0,1286.9 L1347.5,1287.0 L1348.0,1287.3 L1348.5,1287.5 L1349.0,1287.8 L1349.5,1288.2 L1350.0,1288.5 L1350.5,1288.9 L1350.9,1289.3 L1351.4,1289.7 L1351.9,1290.1 L1352.4,1290.5 L1352.9,1291.0 L1353.4,1291.4 L1353.9,1291.8 L1354.3,1292.3 L1354.8,1292.7 L1355.3,1293.2 L1355.8,1293.6 L1356.3,1294.0 L1356.8,1294.4 L1357.3,1294.8 L1357.8,1295.1 L1358.2,1295.5 L1358.7,1295.8 L1359.2,1296.1 L1359.7,1296.4 L1360.2,1296.7 L1360.7,1297.0 L1361.2,1297.2 L1361.7,1297.4 L1362.1,1297.6 L1362.6,1297.8 L1363.1,1297.9 L1363.6,1298.1 L1364.1,1298.2 L1364.6,1298.2 L1365.1,1298.3 L1365.5,1298.3 L1366.0,1298.3 L1366.5,1298.3 L1367.0,1298.2 L1367.5,1298.2 L1368.0,1298.0 L1368.5,1297.9 L1369.0,1297.8 L1369.4,1297.6 L1369.9,1297.3 L1370.4,1297.1 L1370.9,1296.8 L1371.4,1296.5 L1371.9,1296.2 L1372.4,1295.8 L1372.9,1295.4 L1373.3,1294.9 L1373.8,1294.5 L1374.3,1293.9 L1374.8,1293.4 L1375.3,1292.8 L1375.8,1292.1 L1376.3,1291.4 L1376.8,1290.7 L1377.2,1289.9 L1377.7,1289.1 L1378.2,1288.2 L1378.7,1287.2 L1379.2,1286.2 L1379.7,1285.1 L1380.2,1284.0 L1380.6,1282.7 L1381.1,1281.4 L1381.6,1280.0 L1382.1,1278.5 L1382.6,1277.0 L1383.1,1275.3 L1383.6,1273.5 L1384.1,1271.6 L1384.5,1269.5 L1385.0,1267.4 L1385.5,1265.1 L1386.0,1262.6 L1386.5,1259.9 L1387.0,1257.1 L1387.5,1254.1 L1388.0,1250.8 L1388.4,1247.3 L1388.9,1243.6 L1389.4,1239.6 L1389.9,1235.3 L1390.4,1230.7 L1390.9,1225.7 L1391.4,1220.3 L1391.9,1214.6 L1392.3,1208.4 L1392.8,1201.7 L1393.3,1194.5 L1393.8,1186.8 L1394.3,1178.5 L1394.8,1169.5 L1395.3,1159.9 L1395.7,1149.7 L1396.2,1138.8 L1396.7,1127.2 L1397.2,1114.9 L1397.7,1102.0 L1398.2,1088.6 L1398.7,1074.7 L1399.2,1060.5 L1399.6,1046.3 L1400.1,1032.2 L1400.6,1018.6 L1401.1,1005.9 L1401.6,994.3 L1402.1,984.4 L1402.6,976.4 L1403.1,970.8 L1403.5,967.7 L1404.0,967.2 L1404.5,969.5 L1405.0,974.3 L1405.5,981.4 L1406.0,990.6 L1406.5,1001.4 L1407.0,1013.5 L1407.4,1026.5 L1407.9,1040.0 L1408.4,1053.7 L1408.9,1067.4 L1409.4,1080.8 L1409.9,1093.7 L1410.4,1106.1 L1410.8,1117.9 L1411.3,1129.0 L1411.8,1139.5 L1412.3,1149.2 L1412.8,1158.3 L1413.3,1166.7 L1413.8,1174.4 L1414.3,1181.6 L1414.7,1188.2 L1415.2,1194.3 L1415.7,1199.9 L1416.2,1205.1 L1416.7,1209.8 L1417.2,1214.1 L1417.7,1218.0 L1418.2,1221.7 L1418.6,1225.0 L1419.1,1228.0 L1419.6,1230.7 L1420.1,1233.2 L1420.6,1235.5 L1421.1,1237.5 L1421.6,1239.4 L1422.1,1241.0 L1422.5,1242.5 L1423.0,1243.9 L1423.5,1245.0 L1424.0,1246.1 L1424.5,1247.0 L1425.0,1247.7 L1425.5,1248.4 L1425.9,1248.9 L1426.4,1249.4 L1426.9,1249.7 L1427.4,1249.9 L1427.9,1250.0 L1428.4,1250.0 L1428.9,1249.9 L1429.4,1249.8 L1429.8,1249.5 L1430.3,1249.1 L1430.8,1248.6 L1431.3,1248.0 L1431.8,1247.2 L1432.3,1246.4 L1432.8,1245.4 L1433.3,1244.3 L1433.7,1243.0 L1434.2,1241.6 L1434.7,1240.1 L1435.2,1238.3 L1435.7,1236.3 L1436.2,1234.2 L1436.7,1231.8 L1437.2,1229.2 L1437.6,1226.3 L1438.1,1223.2 L1438.6,1219.7 L1439.1,1216.0 L1439.6,1211.9 L1440.1,1207.4 L1440.6,1202.5 L1441.0,1197.1 L1441.5,1191.3 L1442.0,1185.0 L1442.5,1178.2 L1443.0,1170.8 L1443.5,1162.9 L1444.0,1154.4 L1444.5,1145.2 L1444.9,1135.5 L1445.4,1125.1 L1445.9,1114.2 L1446.4,1102.9 L1446.9,1091.2 L1447.4,1079.2 L1447.9,1067.3 L1448.4,1055.5 L1448.8,1044.2 L1449.3,1033.6 L1449.8,1024.2 L1450.3,1016.3 L1450.8,1010.1 L1451.3,1005.9 L1451.8,1004.0 L1452.2,1004.4 L1452.7,1007.0 L1453.2,1011.9 L1453.7,1018.7 L1454.2,1027.2 L1454.7,1037.0 L1455.2,1047.8 L1455.7,1059.3 L1456.1,1071.2 L1456.6,1083.2 L1457.1,1095.1 L1457.6,1106.7 L1458.1,1117.9 L1458.6,1128.6 L1459.1,1138.8 L1459.6,1148.3 L1460.0,1157.3 L1460.5,1165.7 L1461.0,1173.4 L1461.5,1180.7 L1462.0,1187.3 L1462.5,1193.5 L1463.0,1199.1 L1463.5,1204.4 L1463.9,1209.2 L1464.4,1213.6 L1464.9,1217.6 L1465.4,1221.3 L1465.9,1224.7 L1466.4,1227.8 L1466.9,1230.7 L1467.3,1233.3 L1467.8,1235.7 L1468.3,1237.9 L1468.8,1239.9 L1469.3,1241.7 L1469.8,1243.4 L1470.3,1244.9 L1470.8,1246.3 L1471.2,1247.6 L1471.7,1248.8 L1472.2,1249.9 L1472.7,1250.9 L1473.2,1251.9 L1473.7,1252.7 L1474.2,1253.5 L1474.7,1254.3 L1475.1,1255.0 L1475.6,1255.7 L1476.1,1256.3 L1476.6,1256.9 L1477.1,1257.5 L1477.6,1258.0 L1478.1,1258.5 L1478.6,1259.0 L1479.0,1259.5 L1479.5,1260.0 L1480.0,1260.4 L1480.5,1260.8 L1481.0,1261.2 L1481.5,1261.5 L1482.0,1261.9 L1482.4,1262.1 L1482.9,1262.4 L1483.4,1262.6 L1483.9,1262.7 L1484.4,1262.8 L1484.9,1262.9 L1485.4,1262.9 L1485.9,1262.8 L1486.3,1262.6 L1486.8,1262.4 L1487.3,1262.0 L1487.8,1261.6 L1488.3,1261.1 L1488.8,1260.5 L1489.3,1259.7 L1489.8,1258.9 L1490.2,1257.9 L1490.7,1256.7 L1491.2,1255.4 L1491.7,1253.9 L1492.2,1252.3 L1492.7,1250.4 L1493.2,1248.4 L1493.7,1246.1 L1494.1,1243.6 L1494.6,1240.8 L1495.1,1237.8 L1495.6,1234.4 L1496.1,1230.8 L1496.6,1226.8 L1497.1,1222.4 L1497.5,1217.7 L1498.0,1212.5 L1498.5,1207.0 L1499.0,1201.1 L1499.5,1194.7 L1500.0,1188.0 L1500.5,1180.9 L1501.0,1173.4 L1501.4,1165.8 L1501.9,1157.9 L1502.4,1150.1 L1502.9,1142.4 L1503.4,1135.0 L1503.9,1128.2 L1504.4,1122.1 L1504.9,1117.0 L1505.3,1113.0 L1505.8,1110.5 L1506.3,1109.4 L1506.8,1109.9 L1507.3,1112.0 L1507.8,1115.4 L1508.3,1120.2 L1508.8,1126.2 L1509.2,1133.0 L1509.7,1140.4 L1510.2,1148.4 L1510.7,1156.6 L1511.2,1164.8 L1511.7,1173.0 L1512.2,1181.0 L1512.6,1188.7 L1513.1,1196.1 L1513.6,1203.1 L1514.1,1209.7 L1514.6,1215.9 L1515.1,1221.8 L1515.6,1227.2 L1516.1,1232.2 L1516.5,1236.9 L1517.0,1241.2 L1517.5,1245.2 L1518.0,1248.9 L1518.5,1252.3 L1519.0,1255.4 L1519.5,1258.3 L1520.0,1261.0 L1520.4,1263.5 L1520.9,1265.7 L1521.4,1267.8 L1521.9,1269.6 L1522.4,1271.4 L1522.9,1272.9 L1523.4,1274.4 L1523.9,1275.6 L1524.3,1276.8 L1524.8,1277.8 L1525.3,1278.8 L1525.8,1279.6 L1526.3,1280.2 L1526.8,1280.8 L1527.3,1281.3 L1527.7,1281.7 L1528.2,1282.0 L1528.7,1282.2 L1529.2,1282.2 L1529.7,1282.2 L1530.2,1282.1 L1530.7,1281.9 L1531.2,1281.5 L1531.6,1281.1 L1532.1,1280.5 L1532.6,1279.9 L1533.1,1279.1 L1533.6,1278.2 L1534.1,1277.1 L1534.6,1275.9 L1535.1,1274.5 L1535.5,1273.0 L1536.0,1271.3 L1536.5,1269.4 L1537.0,1267.4 L1537.5,1265.1 L1538.0,1262.6 L1538.5,1259.9 L1538.9,1256.9 L1539.4,1253.7 L1539.9,1250.3 L1540.4,1246.6 L1540.9,1242.7 L1541.4,1238.5 L1541.9,1234.1 L1542.4,1229.6 L1542.8,1224.9 L1543.3,1220.2 L1543.8,1215.5 L1544.3,1211.0 L1544.8,1206.8 L1545.3,1202.9 L1545.8,1199.6 L1546.3,1196.9 L1546.7,1195.0 L1547.2,1193.9 L1547.7,1193.8 L1548.2,1194.6 L1548.7,1196.3 L1549.2,1198.8 L1549.7,1202.0 L1550.2,1205.8 L1550.6,1210.0 L1551.1,1214.6 L1551.6,1219.3 L1552.1,1224.1 L1552.6,1228.9 L1553.1,1233.6 L1553.6,1238.1 L1554.0,1242.5 L1554.5,1246.6 L1555.0,1250.5 L1555.5,1254.2 L1556.0,1257.6 L1556.5,1260.8 L1557.0,1263.7 L1557.5,1266.5 L1557.9,1269.0 L1558.4,1271.3 L1558.9,1273.4 L1559.4,1275.3 L1559.9,1277.1 L1560.4,1278.7 L1560.9,1280.2 L1561.4,1281.6 L1561.8,1282.8 L1562.3,1283.9 L1562.8,1284.9 L1563.3,1285.8 L1563.8,1286.6 L1564.3,1287.4 L1564.8,1288.0 L1565.3,1288.6 L1565.7,1289.1 L1566.2,1289.5 L1566.7,1289.9 L1567.2,1290.2 L1567.7,1290.5 L1568.2,1290.7 L1568.7,1290.8 L1569.1,1290.9 L1569.6,1290.9 L1570.1,1290.8 L1570.6,1290.7 L1571.1,1290.5 L1571.6,1290.3 L1572.1,1290.0 L1572.6,1289.6 L1573.0,1289.2 L1573.5,1288.6 L1574.0,1288.0 L1574.5,1287.3 L1575.0,1286.5 L1575.5,1285.5 L1576.0,1284.5 L1576.5,1283.4 L1576.9,1282.1 L1577.4,1280.7 L1577.9,1279.1 L1578.4,1277.4 L1578.9,1275.6 L1579.4,1273.5 L1579.9,1271.4 L1580.4,1269.1 L1580.8,1266.7 L1581.3,1264.1 L1581.8,1261.5 L1582.3,1258.8 L1582.8,1256.1 L1583.3,1253.5 L1583.8,1251.0 L1584.2,1248.7 L1584.7,1246.7 L1585.2,1245.1 L1585.7,1243.9 L1586.2,1243.2 L1586.7,1243.1 L1587.2,1243.5 L1587.7,1244.4 L1588.1,1245.9 L1588.6,1247.8 L1589.1,1250.0 L1589.6,1252.6 L1590.1,1255.4 L1590.6,1258.3 L1591.1,1261.3 L1591.6,1264.4 L1592.0,1267.3 L1592.5,1270.2 L1593.0,1273.0 L1593.5,1275.7 L1594.0,1278.2 L1594.5,1280.5 L1595.0,1282.8 L1595.5,1284.8 L1595.9,1286.8 L1596.4,1288.6 L1596.9,1290.2 L1597.4,1291.8 L1597.9,1293.2 L1598.4,1294.5 L1598.9,1295.7 L1599.3,1296.8 L1599.8,1297.8 L1600.3,1298.8 L1600.8,1299.6 L1601.3,1300.4 L1601.8,1301.2 L1602.3,1301.8 L1602.8,1302.4 L1603.2,1303.0 L1603.7,1303.5 L1604.2,1303.9 L1604.7,1304.3 L1605.2,1304.7 L1605.7,1305.0 L1606.2,1305.3 L1606.7,1305.6 L1607.1,1305.8 L1607.6,1306.0 L1608.1,1306.1 L1608.6,1306.3 L1609.1,1306.4 L1609.6,1306.4 L1610.1,1306.5 L1610.6,1306.5 L1611.0,1306.5 L1611.5,1306.5 L1612.0,1306.5 L1612.5,1306.4 L1613.0,1306.3 L1613.5,1306.2 L1614.0,1306.1 L1614.4,1305.9 L1614.9,1305.8 L1615.4,1305.6 L1615.9,1305.4 L1616.4,1305.2 L1616.9,1305.0 L1617.4,1304.7 L1617.9,1304.5 L1618.3,1304.2 L1618.8,1303.9 L1619.3,1303.6 L1619.8,1303.3 L1620.3,1303.0 L1620.8,1302.7 L1621.3,1302.4 L1621.8,1302.0 L1622.2,1301.7 L1622.7,1301.4 L1623.2,1301.0 L1623.7,1300.7 L1624.2,1300.3 L1624.7,1300.0 L1625.2,1299.6 L1625.7,1299.2 L1626.1,1298.9 L1626.6,1298.5 L1627.1,1298.1 L1627.6,1297.7 L1628.1,1297.3 L1628.6,1296.9 L1629.1,1296.5 L1629.5,1296.1 L1630.0,1295.7 L1630.5,1295.2 L1631.0,1294.7 L1631.5,1294.2 L1632.0,1293.7 L1632.5,1293.1 L1633.0,1292.5 L1633.4,1291.8 L1633.9,1291.1 L1634.4,1290.4 L1634.9,1289.6 L1635.4,1288.7 L1635.9,1287.7 L1636.4,1286.7 L1636.9,1285.5 L1637.3,1284.3 L1637.8,1283.0 L1638.3,1281.5 L1638.8,1280.0 L1639.3,1278.3 L1639.8,1276.4 L1640.3,1274.4 L1640.7,1272.2 L1641.2,1269.9 L1641.7,1267.4 L1642.2,1264.6 L1642.7,1261.7 L1643.2,1258.6 L1643.7,1255.3 L1644.2,1251.7 L1644.6,1248.0 L1645.1,1244.2 L1645.6,1240.2 L1646.1,1236.1 L1646.6,1232.0 L1647.1,1228.0 L1647.6,1224.2 L1648.1,1220.6 L1648.5,1217.4 L1649.0,1214.6 L1649.5,1212.4 L1650.0,1210.9 L1650.5,1210.1 L1651.0,1210.1 L1651.5,1210.8 L1652.0,1212.1 L1652.4,1214.1 L1652.9,1216.6 L1653.4,1219.6 L1653.9,1222.8 L1654.4,1226.2 L1654.9,1229.7 L1655.4,1233.3 L1655.8,1236.7 L1656.3,1240.1 L1656.8,1243.3 L1657.3,1246.4 L1657.8,1249.2 L1658.3,1251.9 L1658.8,1254.3 L1659.3,1256.5 L1659.7,1258.5 L1660.2,1260.3 L1660.7,1261.9 L1661.2,1263.3 L1661.7,1264.6 L1662.2,1265.7 L1662.7,1266.6 L1663.2,1267.4 L1663.6,1268.0 L1664.1,1268.6 L1664.6,1269.0 L1665.1,1269.3 L1665.6,1269.5 L1666.1,1269.6 L1666.6,1269.6 L1667.1,1269.6 L1667.5,1269.4 L1668.0,1269.2 L1668.5,1269.0 L1669.0,1268.6 L1669.5,1268.3 L1670.0,1267.8 L1670.5,1267.4 L1670.9,1266.8 L1671.4,1266.3 L1671.9,1265.7 L1672.4,1265.1 L1672.9,1264.4 L1673.4,1263.8 L1673.9,1263.0 L1674.4,1262.3 L1674.8,1261.5 L1675.3,1260.7 L1675.8,1259.9 L1676.3,1259.0 L1676.8,1258.0 L1677.3,1257.0 L1677.8,1256.0 L1678.3,1254.9 L1678.7,1253.7 L1679.2,1252.4 L1679.7,1251.0 L1680.2,1249.6 L1680.7,1248.0 L1681.2,1246.3 L1681.7,1244.5 L1682.2,1242.6 L1682.6,1240.5 L1683.1,1238.3 L1683.6,1236.0 L1684.1,1233.6 L1684.6,1231.2 L1685.1,1228.7 L1685.6,1226.2 L1686.0,1223.9 L1686.5,1221.6 L1687.0,1219.6 L1687.5,1217.8 L1688.0,1216.4 L1688.5,1215.4 L1689.0,1214.8 L1689.5,1214.6 L1689.9,1215.0 L1690.4,1215.7 L1690.9,1216.8 L1691.4,1218.3 L1691.9,1219.9 L1692.4,1221.8 L1692.9,1223.7 L1693.4,1225.7 L1693.8,1227.6 L1694.3,1229.5 L1694.8,1231.2 L1695.3,1232.8 L1695.8,1234.1 L1696.3,1235.3 L1696.8,1236.3 L1697.3,1237.0 L1697.7,1237.5 L1698.2,1237.8 L1698.7,1237.8 L1699.2,1237.6 L1699.7,1237.1 L1700.2,1236.3 L1700.7,1235.3 L1701.1,1234.0 L1701.6,1232.4 L1702.1,1230.5 L1702.6,1228.4 L1703.1,1225.8 L1703.6,1223.0 L1704.1,1219.8 L1704.6,1216.3 L1705.0,1212.4 L1705.5,1208.1 L1706.0,1203.5 L1706.5,1198.5 L1707.0,1193.2 L1707.5,1187.6 L1708.0,1181.9 L1708.5,1176.0 L1708.9,1170.0 L1709.4,1164.2 L1709.9,1158.7 L1710.4,1153.6 L1710.9,1149.1 L1711.4,1145.4 L1711.9,1142.7 L1712.4,1141.1 L1712.8,1140.8 L1713.3,1141.7 L1713.8,1143.8 L1714.3,1147.1 L1714.8,1151.5 L1715.3,1156.7 L1715.8,1162.6 L1716.2,1169.1 L1716.7,1175.9 L1717.2,1182.8 L1717.7,1189.8 L1718.2,1196.8 L1718.7,1203.5 L1719.2,1210.0 L1719.7,1216.3 L1720.1,1222.2 L1720.6,1227.8 L1721.1,1233.0 L1721.6,1238.0 L1722.1,1242.6 L1722.6,1246.9 L1723.1,1250.9 L1723.6,1254.6 L1724.0,1258.0 L1724.5,1261.2 L1725.0,1264.2 L1725.5,1266.9 L1726.0,1269.5 L1726.5,1271.9 L1727.0,1274.1 L1727.4,1276.1 L1727.9,1278.0 L1728.4,1279.7 L1728.9,1281.4 L1729.4,1282.9 L1729.9,1284.3 L1730.4,1285.6 L1730.9,1286.8 L1731.3,1287.9 L1731.8,1288.9 L1732.3,1289.9 L1732.8,1290.8 L1733.3,1291.6 L1733.8,1292.3 L1734.3,1293.0 L1734.8,1293.6 L1735.2,1294.2 L1735.7,1294.7 L1736.2,1295.2 L1736.7,1295.6 L1737.2,1296.0 L1737.7,1296.3 L1738.2,1296.6 L1738.7,1296.9 L1739.1,1297.1 L1739.6,1297.2 L1740.1,1297.4 L1740.6,1297.4 L1741.1,1297.5 L1741.6,1297.5 L1742.1,1297.5 L1742.5,1297.4 L1743.0,1297.3 L1743.5,1297.1 L1744.0,1296.9 L1744.5,1296.7 L1745.0,1296.4 L1745.5,1296.1 L1746.0,1295.8 L1746.4,1295.4 L1746.9,1294.9 L1747.4,1294.4 L1747.9,1293.9 L1748.4,1293.3 L1748.9,1292.6 L1749.4,1291.9 L1749.9,1291.2 L1750.3,1290.3 L1750.8,1289.4 L1751.3,1288.4 L1751.8,1287.4 L1752.3,1286.3 L1752.8,1285.0 L1753.3,1283.7 L1753.8,1282.3 L1754.2,1280.8 L1754.7,1279.2 L1755.2,1277.4 L1755.7,1275.5 L1756.2,1273.5 L1756.7,1271.3 L1757.2,1268.9 L1757.6,1266.4 L1758.1,1263.7 L1758.6,1260.8 L1759.1,1257.6 L1759.6,1254.2 L1760.1,1250.5 L1760.6,1246.6 L1761.1,1242.4 L1761.5,1237.8 L1762.0,1232.9 L1762.5,1227.6 L1763.0,1222.0 L1763.5,1215.9 L1764.0,1209.5 L1764.5,1202.7 L1765.0,1195.5 L1765.4,1187.9 L1765.9,1180.0 L1766.4,1171.8 L1766.9,1163.5 L1767.4,1155.1 L1767.9,1146.8 L1768.4,1138.7 L1768.9,1131.0 L1769.3,1124.0 L1769.8,1117.7 L1770.3,1112.5 L1770.8,1108.4 L1771.3,1105.4 L1771.8,1103.8 L1772.3,1103.3 L1772.7,1103.9 L1773.2,1105.6 L1773.7,1107.9 L1774.2,1110.9 L1774.7,1114.1 L1775.2,1117.5 L1775.7,1120.9 L1776.2,1124.0 L1776.6,1126.7 L1777.1,1128.9 L1777.6,1130.6 L1778.1,1131.6 L1778.6,1132.0 L1779.1,1131.9 L1779.6,1131.1 L1780.1,1129.8 L1780.5,1128.0 L1781.0,1126.0 L1781.5,1123.7 L1782.0,1121.5 L1782.5,1119.5 L1783.0,1117.8 L1783.5,1116.8 L1784.0,1116.5 L1784.4,1117.2 L1784.9,1118.9 L1785.4,1121.7 L1785.9,1125.5 L1786.4,1130.4 L1786.9,1136.2 L1787.4,1142.7 L1787.8,1149.9 L1788.3,1157.4 L1788.8,1165.2 L1789.3,1173.1 L1789.8,1180.9 L1790.3,1188.6 L1790.8,1196.1 L1791.3,1203.3 L1791.7,1210.2 L1792.2,1216.7 L1792.7,1222.8 L1793.2,1228.6 L1793.7,1234.0 L1794.2,1239.1 L1794.7,1243.8 L1795.2,1248.2 L1795.6,1252.3 L1796.1,1256.2 L1796.6,1259.7 L1797.1,1263.1 L1797.6,1266.2 L1798.1,1269.0 L1798.6,1271.7 L1799.1,1274.2 L1799.5,1276.6 L1800.0,1278.8 L1800.5,1280.8 L1801.0,1282.7 L1801.5,1284.5 L1802.0,1286.2 L1802.5,1287.8 L1802.9,1289.3 L1803.4,1290.7 L1803.9,1292.0 L1804.4,1293.2 L1804.9,1294.4 L1805.4,1295.5 L1805.9,1296.5 L1806.4,1297.5 L1806.8,1298.4 L1807.3,1299.2 L1807.8,1300.0 L1808.3,1300.8 L1808.8,1301.5 L1809.3,1302.2 L1809.8,1302.9 L1810.3,1303.5 L1810.7,1304.1 L1811.2,1304.6 L1811.7,1305.1 L1812.2,1305.6 L1812.7,1306.1 L1813.2,1306.5 L1813.7,1306.9 L1814.2,1307.3 L1814.6,1307.7 L1815.1,1308.0 L1815.6,1308.4 L1816.1,1308.7 L1816.6,1309.0 L1817.1,1309.2 L1817.6,1309.5 L1818.0,1309.7 L1818.5,1310.0 L1819.0,1310.2 L1819.5,1310.4 L1820.0,1310.5 L1820.5,1310.7 L1821.0,1310.9 L1821.5,1311.0 L1821.9,1311.1 L1822.4,1311.2 L1822.9,1311.3 L1823.4,1311.4 L1823.9,1311.5 L1824.4,1311.6 L1824.9,1311.6 L1825.4,1311.7 L1825.8,1311.7 L1826.3,1311.8 L1826.8,1311.8 L1827.3,1311.8 L1827.8,1311.8 L1828.3,1311.8 L1828.8,1311.7 L1829.2,1311.7 L1829.7,1311.7 L1830.2,1311.6 L1830.7,1311.5 L1831.2,1311.5 L1831.7,1311.4 L1832.2,1311.3 L1832.7,1311.2 L1833.1,1311.1 L1833.6,1310.9 L1834.1,1310.8 L1834.6,1310.7 L1835.1,1310.5 L1835.6,1310.3 L1836.1,1310.1 L1836.6,1310.0 L1837.0,1309.8 L1837.5,1309.5 L1838.0,1309.3 L1838.5,1309.1 L1839.0,1308.8 L1839.5,1308.6 L1840.0,1308.3 L1840.5,1308.0 L1840.9,1307.7 L1841.4,1307.4 L1841.9,1307.1 L1842.4,1306.7 L1842.9,1306.4 L1843.4,1306.0 L1843.9,1305.6 L1844.3,1305.2 L1844.8,1304.8 L1845.3,1304.3 L1845.8,1303.9 L1846.3,1303.4 L1846.8,1302.9 L1847.3,1302.4 L1847.8,1301.9 L1848.2,1301.3 L1848.7,1300.7 L1849.2,1300.1 L1849.7,1299.5 L1850.2,1298.9 L1850.7,1298.2 L1851.2,1297.5 L1851.7,1296.8 L1852.1,1296.0 L1852.6,1295.2 L1853.1,1294.4 L1853.6,1293.6 L1854.1,1292.7 L1854.6,1291.8 L1855.1,1290.9 L1855.6,1290.0 L1856.0,1289.0 L1856.5,1287.9 L1857.0,1286.9 L1857.5,1285.8 L1858.0,1284.6 L1858.5,1283.4 L1859.0,1282.2 L1859.4,1281.0 L1859.9,1279.7 L1860.4,1278.3 L1860.9,1277.0 L1861.4,1275.5 L1861.9,1274.1 L1862.4,1272.6 L1862.9,1271.0 L1863.3,1269.4 L1863.8,1267.8 L1864.3,1266.2 L1864.8,1264.5 L1865.3,1262.7 L1865.8,1261.0 L1866.3,1259.2 L1866.8,1257.4 L1867.2,1255.5 L1867.7,1253.7 L1868.2,1251.8 L1868.7,1249.9 L1869.2,1248.0 L1869.7,1246.1 L1870.2,1244.2 L1870.7,1242.4 L1871.1,1240.5 L1871.6,1238.7 L1872.1,1237.0 L1872.6,1235.2 L1873.1,1233.6 L1873.6,1231.9 L1874.1,1230.4 L1874.5,1228.9 L1875.0,1227.5 L1875.5,1226.2 L1876.0,1224.9 L1876.5,1223.8 L1877.0,1222.7 L1877.5,1221.8 L1878.0,1220.9 L1878.4,1220.1 L1878.9,1219.3 L1879.4,1218.7 L1879.9,1218.1 L1880.4,1217.5 L1880.9,1217.0 L1881.4,1216.5 L1881.9,1216.0 L1882.3,1215.6 L1882.8,1215.1 L1883.3,1214.5 L1883.8,1213.9 L1884.3,1213.2 L1884.8,1212.5 L1885.3,1211.6 L1885.8,1210.5 L1886.2,1209.3 L1886.7,1208.0 L1887.2,1206.4 L1887.7,1204.6 L1888.2,1202.6 L1888.7,1200.4 L1889.2,1197.9 L1889.6,1195.2 L1890.1,1192.4 L1890.6,1189.3 L1891.1,1186.1 L1891.6,1182.9 L1892.1,1179.7 L1892.6,1176.6 L1893.1,1173.7 L1893.5,1171.2 L1894.0,1169.2 L1894.5,1167.7 L1895.0,1167.0 L1895.5,1167.1 L1896.0,1168.0 L1896.5,1169.8 L1897.0,1172.4 L1897.4,1175.8 L1897.9,1179.8 L1898.4,1184.3 L1898.9,1189.3 L1899.4,1194.5 L1899.9,1199.8 L1900.4,1205.2 L1900.9,1210.6 L1901.3,1215.9 L1901.8,1221.0 L1902.3,1225.8 L1902.8,1230.5 L1903.3,1234.9 L1903.8,1239.1 L1904.3,1243.0 L1904.7,1246.6 L1905.2,1250.0 L1905.7,1253.2 L1906.2,1256.1 L1906.7,1258.9 L1907.2,1261.4 L1907.7,1263.7 L1908.2,1265.9 L1908.6,1267.9 L1909.1,1269.8 L1909.6,1271.5 L1910.1,1273.1 L1910.6,1274.6 L1911.1,1275.9 L1911.6,1277.2 L1912.1,1278.3 L1912.5,1279.4 L1913.0,1280.3 L1913.5,1281.2 L1914.0,1282.0 L1914.5,1282.8 L1915.0,1283.4 L1915.5,1284.0 L1915.9,1284.5 L1916.4,1285.0 L1916.9,1285.4 L1917.4,1285.7 L1917.9,1286.0 L1918.4,1286.2 L1918.9,1286.4 L1919.4,1286.5 L1919.8,1286.5 L1920.3,1286.5 L1920.8,1286.4 L1921.3,1286.3 L1921.8,1286.1 L1922.3,1285.8 L1922.8,1285.4 L1923.3,1285.0 L1923.7,1284.4 L1924.2,1283.8 L1924.7,1283.1 L1925.2,1282.2 L1925.7,1281.3 L1926.2,1280.2 L1926.7,1279.0 L1927.2,1277.7 L1927.6,1276.2 L1928.1,1274.5 L1928.6,1272.8 L1929.1,1270.9 L1929.6,1268.8 L1930.1,1266.6 L1930.6,1264.3 L1931.0,1261.9 L1931.5,1259.4 L1932.0,1256.9 L1932.5,1254.4 L1933.0,1252.0 L1933.5,1249.8 L1934.0,1247.9 L1934.5,1246.2 L1934.9,1245.0 L1935.4,1244.2 L1935.9,1243.9 L1936.4,1244.1 L1936.9,1244.9 L1937.4,1246.2 L1937.9,1247.9 L1938.4,1250.0 L1938.8,1252.5 L1939.3,1255.2 L1939.8,1258.0 L1940.3,1260.9 L1940.8,1263.9 L1941.3,1266.8 L1941.8,1269.7 L1942.3,1272.5 L1942.7,1275.1 L1943.2,1277.6 L1943.7,1280.0 L1944.2,1282.2 L1944.7,1284.3 L1945.2,1286.3 L1945.7,1288.1 L1946.1,1289.7 L1946.6,1291.3 L1947.1,1292.7 L1947.6,1294.0 L1948.1,1295.2 L1948.6,1296.3 L1949.1,1297.3 L1949.6,1298.3 L1950.0,1299.1 L1950.5,1299.9 L1951.0,1300.6 L1951.5,1301.3 L1952.0,1301.8 L1952.5,1302.4 L1953.0,1302.9 L1953.5,1303.3 L1953.9,1303.7 L1954.4,1304.0 L1954.9,1304.3 L1955.4,1304.6 L1955.9,1304.8 L1956.4,1305.0 L1956.9,1305.2 L1957.4,1305.4 L1957.8,1305.5 L1958.3,1305.6 L1958.8,1305.7 L1959.3,1305.8 L1959.8,1305.8 L1960.3,1305.9 L1960.8,1305.9 L1961.2,1305.9 L1961.7,1306.0 L1962.2,1306.0 L1962.7,1306.0 L1963.2,1306.0 L1963.7,1306.0 L1964.2,1306.1 L1964.7,1306.1 L1965.1,1306.1 L1965.6,1306.2 L1966.1,1306.3 L1966.6,1306.4 L1967.1,1306.4 L1967.6,1306.6 L1968.1,1306.7 L1968.6,1306.8 L1969.0,1307.0 L1969.5,1307.2 L1970.0,1307.4 L1970.5,1307.6 L1971.0,1307.8 L1971.5,1308.0 L1972.0,1308.3 L1972.5,1308.5 L1972.9,1308.8 L1973.4,1309.1 L1973.9,1309.4 L1974.4,1309.7 L1974.9,1310.0 L1975.4,1310.3 L1975.9,1310.6 L1976.3,1310.9 L1976.8,1311.2 L1977.3,1311.5 L1977.8,1311.8 L1978.3,1312.0 L1978.8,1312.3 L1979.3,1312.6 L1979.8,1312.9 L1980.2,1313.1 L1980.7,1313.4 L1981.2,1313.6 L1981.7,1313.9 L1982.2,1314.1 L1982.7,1314.3 L1983.2,1314.5 L1983.7,1314.7 L1984.1,1314.9 L1984.6,1315.1 L1985.1,1315.2 L1985.6,1315.4 L1986.1,1315.5 L1986.6,1315.6 L1987.1,1315.7 L1987.6,1315.8 L1988.0,1315.9 L1988.5,1316.0 L1989.0,1316.1 L1989.5,1316.1 L1990.0,1316.1 L1990.5,1316.2 L1991.0,1316.2 L1991.4,1316.2 L1991.9,1316.2 L1992.4,1316.2 L1992.9,1316.1 L1993.4,1316.1 L1993.9,1316.1 L1994.4,1316.0 L1994.9,1315.9 L1995.3,1315.9 L1995.8,1315.8 L1996.3,1315.7 L1996.8,1315.6 L1997.3,1315.5 L1997.8,1315.4 L1998.3,1315.3 L1998.8,1315.2 L1999.2,1315.1 L1999.7,1314.9 L2000.2,1314.8 L2000.7,1314.7 L2001.2,1314.6 L2001.7,1314.5 L2002.2,1314.4 L2002.6,1314.3 L2003.1,1314.2 L2003.6,1314.1 L2004.1,1314.1 L2004.6,1314.0 L2005.1,1314.0 L2005.6,1313.9 L2006.1,1313.9 L2006.5,1313.9 L2007.0,1313.9 L2007.5,1313.9 L2008.0,1313.9 L2008.5,1314.0 L2009.0,1314.0 L2009.5,1314.1 L2010.0,1314.1 L2010.4,1314.2 L2010.9,1314.3 L2011.4,1314.4 L2011.9,1314.5 L2012.4,1314.6 L2012.9,1314.7 L2013.4,1314.8 L2013.9,1314.9 L2014.3,1315.0 L2014.8,1315.1 L2015.3,1315.2 L2015.8,1315.2 L2016.3,1315.3 L2016.8,1315.3 L2017.3,1315.4 L2017.7,1315.4 L2018.2,1315.4 L2018.7,1315.4 L2019.2,1315.3 L2019.7,1315.2 L2020.2,1315.1 L2020.7,1315.0 L2021.2,1314.9 L2021.6,1314.7 L2022.1,1314.4 L2022.6,1314.2 L2023.1,1313.9 L2023.6,1313.5 L2024.1,1313.1 L2024.6,1312.7 L2025.1,1312.2 L2025.5,1311.6 L2026.0,1310.9 L2026.5,1310.2 L2027.0,1309.5 L2027.5,1308.6 L2028.0,1307.7 L2028.5,1306.7 L2029.0,1305.6 L2029.4,1304.4 L2029.9,1303.2 L2030.4,1301.9 L2030.9,1300.5 L2031.4,1299.1 L2031.9,1297.6 L2032.4,1296.2 L2032.8,1294.8 L2033.3,1293.5 L2033.8,1292.3 L2034.3,1291.2 L2034.8,1290.4 L2035.3,1289.7 L2035.8,1289.4 L2036.3,1289.4 L2036.7,1289.6 L2037.2,1290.2 L2037.7,1291.0 L2038.2,1292.0 L2038.7,1293.3 L2039.2,1294.7 L2039.7,1296.3 L2040.2,1297.9 L2040.6,1299.6 L2041.1,1301.2 L2041.6,1302.9 L2042.1,1304.5 L2042.6,1306.0 L2043.1,1307.5 L2043.6,1308.9 L2044.1,1310.2 L2044.5,1311.5 L2045.0,1312.6 L2045.5,1313.7 L2046.0,1314.8" stroke="#1414b8" stroke-width="4.3"/>
<path d="M293.0,1333.1 L293.5,1333.1 L294.0,1333.1 L294.5,1333.1 L294.9,1333.1 L295.4,1333.1 L295.9,1333.0 L296.4,1333.0 L296.9,1333.0 L297.4,1333.0 L297.9,1333.0 L298.4,1333.0 L298.8,1333.0 L299.3,1333.0 L299.8,1332.9 L300.3,1332.9 L300.8,1332.9 L301.3,1332.9 L301.8,1332.9 L302.3,1332.9 L302.7,1332.9 L303.2,1332.9 L303.7,1332.8 L304.2,1332.8 L304.7,1332.8 L305.2,1332.8 L305.7,1332.8 L306.2,1332.8 L306.6,1332.8 L307.1,1332.7 L307.6,1332.7 L308.1,1332.7 L308.6,1332.7 L309.1,1332.7 L309.6,1332.7 L310.0,1332.7 L310.5,1332.6 L311.0,1332.6 L311.5,1332.6 L312.0,1332.6 L312.5,1332.6 L313.0,1332.6 L313.5,1332.5 L313.9,1332.5 L314.4,1332.5 L314.9,1332.5 L315.4,1332.5 L315.9,1332.5 L316.4,1332.4 L316.9,1332.4 L317.4,1332.4 L317.8,1332.4 L318.3,1332.4 L318.8,1332.4 L319.3,1332.3 L319.8,1332.3 L320.3,1332.3 L320.8,1332.3 L321.3,1332.3 L321.7,1332.2 L322.2,1332.2 L322.7,1332.2 L323.2,1332.2 L323.7,1332.2 L324.2,1332.1 L324.7,1332.1 L325.1,1332.1 L325.6,1332.1 L326.1,1332.1 L326.6,1332.0 L327.1,1332.0 L327.6,1332.0 L328.1,1332.0 L328.6,1331.9 L329.0,1331.9 L329.5,1331.9 L330.0,1331.9 L330.5,1331.9 L331.0,1331.8 L331.5,1331.8 L332.0,1331.8 L332.5,1331.8 L332.9,1331.7 L333.4,1331.7 L333.9,1331.7 L334.4,1331.6 L334.9,1331.6 L335.4,1331.6 L335.9,1331.6 L336.4,1331.5 L336.8,1331.5 L337.3,1331.5 L337.8,1331.5 L338.3,1331.4 L338.8,1331.4 L339.3,1331.4 L339.8,1331.3 L340.2,1331.3 L340.7,1331.3 L341.2,1331.2 L341.7,1331.2 L342.2,1331.2 L342.7,1331.1 L343.2,1331.1 L343.7,1331.1 L344.1,1331.0 L344.6,1331.0 L345.1,1331.0 L345.6,1330.9 L346.1,1330.9 L346.6,1330.8 L347.1,1330.8 L347.6,1330.8 L348.0,1330.7 L348.5,1330.7 L349.0,1330.6 L349.5,1330.6 L350.0,1330.6 L350.5,1330.5 L351.0,1330.5 L351.4,1330.4 L351.9,1330.4 L352.4,1330.3 L352.9,1330.3 L353.4,1330.2 L353.9,1330.2 L354.4,1330.1 L354.9,1330.1 L355.3,1330.0 L355.8,1330.0 L356.3,1329.9 L356.8,1329.9 L357.3,1329.8 L357.8,1329.8 L358.3,1329.7 L358.8,1329.7 L359.2,1329.6 L359.7,1329.5 L360.2,1329.5 L360.7,1329.4 L361.2,1329.4 L361.7,1329.3 L362.2,1329.2 L362.7,1329.2 L363.1,1329.1 L363.6,1329.0 L364.1,1328.9 L364.6,1328.9 L365.1,1328.8 L365.6,1328.7 L366.1,1328.6 L366.5,1328.6 L367.0,1328.5 L367.5,1328.4 L368.0,1328.3 L368.5,1328.2 L369.0,1328.1 L369.5,1328.1 L370.0,1328.0 L370.4,1327.9 L370.9,1327.8 L371.4,1327.7 L371.9,1327.6 L372.4,1327.5 L372.9,1327.4 L373.4,1327.3 L373.9,1327.1 L374.3,1327.0 L374.8,1326.9 L375.3,1326.8 L375.8,1326.7 L376.3,1326.5 L376.8,1326.4 L377.3,1326.3 L377.8,1326.2 L378.2,1326.0 L378.7,1325.9 L379.2,1325.7 L379.7,1325.6 L380.2,1325.4 L380.7,1325.3 L381.2,1325.1 L381.6,1324.9 L382.1,1324.8 L382.6,1324.6 L383.1,1324.4 L383.6,1324.2 L384.1,1324.0 L384.6,1323.8 L385.1,1323.6 L385.5,1323.4 L386.0,1323.2 L386.5,1323.0 L387.0,1322.7 L387.5,1322.5 L388.0,1322.3 L388.5,1322.0 L389.0,1321.7 L389.4,1321.5 L389.9,1321.2 L390.4,1320.9 L390.9,1320.6 L391.4,1320.3 L391.9,1320.0 L392.4,1319.6 L392.9,1319.3 L393.3,1318.9 L393.8,1318.5 L394.3,1318.1 L394.8,1317.7 L395.3,1317.3 L395.8,1316.9 L396.3,1316.4 L396.7,1316.0 L397.2,1315.5 L397.7,1315.0 L398.2,1314.4 L398.7,1313.9 L399.2,1313.3 L399.7,1312.7 L400.2,1312.1 L400.6,1311.4 L401.1,1310.7 L401.6,1310.0 L402.1,1309.2 L402.6,1308.4 L403.1,1307.6 L403.6,1306.7 L404.1,1305.8 L404.5,1304.8 L405.0,1303.8 L405.5,1302.7 L406.0,1301.6 L406.5,1300.4 L407.0,1299.1 L407.5,1297.8 L408.0,1296.4 L408.4,1294.9 L408.9,1293.3 L409.4,1291.6 L409.9,1289.8 L410.4,1287.9 L410.9,1285.9 L411.4,1283.8 L411.8,1281.5 L412.3,1279.1 L412.8,1276.5 L413.3,1273.7 L413.8,1270.7 L414.3,1267.5 L414.8,1264.1 L415.3,1260.4 L415.7,1256.5 L416.2,1252.3 L416.7,1247.7 L417.2,1242.8 L417.7,1237.6 L418.2,1231.9 L418.7,1225.8 L419.2,1219.3 L419.6,1212.3 L420.1,1204.7 L420.6,1196.6 L421.1,1187.9 L421.6,1178.6 L422.1,1168.7 L422.6,1158.3 L423.1,1147.3 L423.5,1135.7 L424.0,1123.8 L424.5,1111.6 L425.0,1099.2 L425.5,1086.9 L426.0,1075.0 L426.5,1063.6 L426.9,1053.3 L427.4,1044.2 L427.9,1036.7 L428.4,1031.2 L428.9,1027.8 L429.4,1026.8 L429.9,1028.1 L430.4,1031.8 L430.8,1037.5 L431.3,1045.2 L431.8,1054.5 L432.3,1064.9 L432.8,1076.3 L433.3,1088.3 L433.8,1100.5 L434.3,1112.8 L434.7,1124.9 L435.2,1136.8 L435.7,1148.1 L436.2,1159.0 L436.7,1169.3 L437.2,1179.0 L437.7,1188.1 L438.1,1196.6 L438.6,1204.6 L439.1,1212.0 L439.6,1218.9 L440.1,1225.3 L440.6,1231.3 L441.1,1236.8 L441.6,1241.9 L442.0,1246.7 L442.5,1251.1 L443.0,1255.2 L443.5,1259.0 L444.0,1262.5 L444.5,1265.9 L445.0,1268.9 L445.5,1271.8 L445.9,1274.5 L446.4,1277.0 L446.9,1279.3 L447.4,1281.5 L447.9,1283.5 L448.4,1285.5 L448.9,1287.2 L449.4,1288.9 L449.8,1290.5 L450.3,1292.0 L450.8,1293.4 L451.3,1294.7 L451.8,1295.9 L452.3,1297.1 L452.8,1298.2 L453.2,1299.3 L453.7,1300.2 L454.2,1301.2 L454.7,1302.0 L455.2,1302.8 L455.7,1303.6 L456.2,1304.4 L456.7,1305.1 L457.1,1305.7 L457.6,1306.3 L458.1,1306.9 L458.6,1307.5 L459.1,1308.0 L459.6,1308.5 L460.1,1309.0 L460.6,1309.4 L461.0,1309.9 L461.5,1310.3 L462.0,1310.6 L462.5,1311.0 L463.0,1311.3 L463.5,1311.6 L464.0,1311.9 L464.5,1312.2 L464.9,1312.5 L465.4,1312.7 L465.9,1313.0 L466.4,1313.2 L466.9,1313.4 L467.4,1313.6 L467.9,1313.8 L468.3,1313.9 L468.8,1314.1 L469.3,1314.2 L469.8,1314.3 L470.3,1314.5 L470.8,1314.6 L471.3,1314.7 L471.8,1314.7 L472.2,1314.8 L472.7,1314.9 L473.2,1314.9 L473.7,1315.0 L474.2,1315.0 L474.7,1315.0 L475.2,1315.0 L475.7,1315.0 L476.1,1315.0 L476.6,1315.0 L477.1,1315.0 L477.6,1315.0 L478.1,1314.9 L478.6,1314.9 L479.1,1314.8 L479.6,1314.8 L480.0,1314.7 L480.5,1314.6 L481.0,1314.5 L481.5,1314.4 L482.0,1314.3 L482.5,1314.2 L483.0,1314.0 L483.4,1313.9 L483.9,1313.8 L484.4,1313.6 L484.9,1313.4 L485.4,1313.3 L485.9,1313.1 L486.4,1312.9 L486.9,1312.7 L487.3,1312.4 L487.8,1312.2 L488.3,1312.0 L488.8,1311.7 L489.3,1311.4 L489.8,1311.2 L490.3,1310.9 L490.8,1310.6 L491.2,1310.2 L491.7,1309.9 L492.2,1309.6 L492.7,1309.2 L493.2,1308.8 L493.7,1308.4 L494.2,1308.0 L494.7,1307.6 L495.1,1307.1 L495.6,1306.7 L496.1,1306.2 L496.6,1305.7 L497.1,1305.1 L497.6,1304.6 L498.1,1304.0 L498.5,1303.4 L499.0,1302.8 L499.5,1302.2 L500.0,1301.5 L500.5,1300.8 L501.0,1300.0 L501.5,1299.3 L502.0,1298.5 L502.4,1297.6 L502.9,1296.8 L503.4,1295.8 L503.9,1294.9 L504.4,1293.9 L504.9,1292.8 L505.4,1291.8 L505.9,1290.6 L506.3,1289.4 L506.8,1288.2 L507.3,1286.8 L507.8,1285.5 L508.3,1284.0 L508.8,1282.5 L509.3,1280.9 L509.8,1279.2 L510.2,1277.4 L510.7,1275.6 L511.2,1273.6 L511.7,1271.6 L512.2,1269.4 L512.7,1267.1 L513.2,1264.7 L513.6,1262.1 L514.1,1259.4 L514.6,1256.5 L515.1,1253.4 L515.6,1250.2 L516.1,1246.8 L516.6,1243.1 L517.1,1239.2 L517.5,1235.1 L518.0,1230.7 L518.5,1226.0 L519.0,1221.0 L519.5,1215.6 L520.0,1209.9 L520.5,1203.7 L521.0,1197.2 L521.4,1190.1 L521.9,1182.6 L522.4,1174.4 L522.9,1165.7 L523.4,1156.3 L523.9,1146.2 L524.4,1135.4 L524.8,1123.6 L525.3,1111.0 L525.8,1097.5 L526.3,1082.9 L526.8,1067.2 L527.3,1050.4 L527.8,1032.3 L528.3,1013.1 L528.7,992.6 L529.2,970.8 L529.7,947.9 L530.2,923.9 L530.7,899.0 L531.2,873.4 L531.7,847.5 L532.2,821.7 L532.6,796.5 L533.1,772.5 L533.6,750.4 L534.1,731.0 L534.6,714.8 L535.1,702.7 L535.6,695.1 L536.1,692.3 L536.5,694.5 L537.0,701.5 L537.5,713.2 L538.0,728.8 L538.5,747.9 L539.0,769.7 L539.5,793.5 L539.9,818.7 L540.4,844.4 L540.9,870.4 L541.4,896.0 L541.9,921.0 L542.4,945.2 L542.9,968.2 L543.4,990.1 L543.8,1010.8 L544.3,1030.2 L544.8,1048.4 L545.3,1065.4 L545.8,1081.3 L546.3,1096.0 L546.8,1109.7 L547.3,1122.4 L547.7,1134.3 L548.2,1145.3 L548.7,1155.5 L549.2,1165.0 L549.7,1173.8 L550.2,1182.0 L550.7,1189.6 L551.2,1196.8 L551.6,1203.4 L552.1,1209.6 L552.6,1215.4 L553.1,1220.8 L553.6,1225.9 L554.1,1230.6 L554.6,1235.1 L555.0,1239.3 L555.5,1243.2 L556.0,1246.9 L556.5,1250.4 L557.0,1253.7 L557.5,1256.8 L558.0,1259.7 L558.5,1262.4 L558.9,1265.0 L559.4,1267.5 L559.9,1269.8 L560.4,1272.1 L560.9,1274.2 L561.4,1276.1 L561.9,1278.0 L562.4,1279.8 L562.8,1281.6 L563.3,1283.2 L563.8,1284.7 L564.3,1286.2 L564.8,1287.6 L565.3,1289.0 L565.8,1290.3 L566.3,1291.5 L566.7,1292.7 L567.2,1293.8 L567.7,1294.9 L568.2,1295.9 L568.7,1296.9 L569.2,1297.9 L569.7,1298.8 L570.1,1299.6 L570.6,1300.5 L571.1,1301.3 L571.6,1302.1 L572.1,1302.8 L572.6,1303.5 L573.1,1304.2 L573.6,1304.9 L574.0,1305.5 L574.5,1306.1 L575.0,1306.7 L575.5,1307.3 L576.0,1307.9 L576.5,1308.4 L577.0,1308.9 L577.5,1309.4 L577.9,1309.9 L578.4,1310.3 L578.9,1310.8 L579.4,1311.2 L579.9,1311.6 L580.4,1312.1 L580.9,1312.4 L581.4,1312.8 L581.8,1313.2 L582.3,1313.5 L582.8,1313.9 L583.3,1314.2 L583.8,1314.5 L584.3,1314.9 L584.8,1315.2 L585.2,1315.5 L585.7,1315.7 L586.2,1316.0 L586.7,1316.3 L587.2,1316.6 L587.7,1316.8 L588.2,1317.1 L588.7,1317.3 L589.1,1317.5 L589.6,1317.7 L590.1,1318.0 L590.6,1318.2 L591.1,1318.4 L591.6,1318.6 L592.1,1318.8 L592.6,1319.0 L593.0,1319.2 L593.5,1319.3 L594.0,1319.5 L594.5,1319.7 L595.0,1319.8 L595.5,1320.0 L596.0,1320.2 L596.5,1320.3 L596.9,1320.4 L597.4,1320.6 L597.9,1320.7 L598.4,1320.9 L598.9,1321.0 L599.4,1321.1 L599.9,1321.2 L600.3,1321.4 L600.8,1321.5 L601.3,1321.6 L601.8,1321.7 L602.3,1321.8 L602.8,1321.9 L603.3,1322.0 L603.8,1322.1 L604.2,1322.2 L604.7,1322.3 L605.2,1322.4 L605.7,1322.5 L606.2,1322.6 L606.7,1322.7 L607.2,1322.7 L607.7,1322.8 L608.1,1322.9 L608.6,1323.0 L609.1,1323.0 L609.6,1323.1 L610.1,1323.2 L610.6,1323.2 L611.1,1323.3 L611.6,1323.4 L612.0,1323.4 L612.5,1323.5 L613.0,1323.5 L613.5,1323.6 L614.0,1323.6 L614.5,1323.7 L615.0,1323.7 L615.4,1323.8 L615.9,1323.8 L616.4,1323.9 L616.9,1323.9 L617.4,1323.9 L617.9,1324.0 L618.4,1324.0 L618.9,1324.0 L619.3,1324.1 L619.8,1324.1 L620.3,1324.1 L620.8,1324.2 L621.3,1324.2 L621.8,1324.2 L622.3,1324.2 L622.8,1324.3 L623.2,1324.3 L623.7,1324.3 L624.2,1324.3 L624.7,1324.3 L625.2,1324.3 L625.7,1324.4 L626.2,1324.4 L626.6,1324.4 L627.1,1324.4 L627.6,1324.4 L628.1,1324.4 L628.6,1324.4 L629.1,1324.4 L629.6,1324.4 L630.1,1324.4 L630.5,1324.4 L631.0,1324.4 L631.5,1324.4 L632.0,1324.4 L632.5,1324.4 L633.0,1324.4 L633.5,1324.4 L634.0,1324.3 L634.4,1324.3 L634.9,1324.3 L635.4,1324.3 L635.9,1324.3 L636.4,1324.3 L636.9,1324.3 L637.4,1324.2 L637.9,1324.2 L638.3,1324.2 L638.8,1324.2 L639.3,1324.2 L639.8,1324.1 L640.3,1324.1 L640.8,1324.1 L641.3,1324.1 L641.7,1324.1 L642.2,1324.0 L642.7,1324.0 L643.2,1324.0 L643.7,1324.0 L644.2,1323.9 L644.7,1323.9 L645.2,1323.9 L645.6,1323.9 L646.1,1323.8 L646.6,1323.8 L647.1,1323.8 L647.6,1323.8 L648.1,1323.7 L648.6,1323.7 L649.1,1323.7 L649.5,1323.6 L650.0,1323.6 L650.5,1323.6 L651.0,1323.5 L651.5,1323.5 L652.0,1323.5 L652.5,1323.4 L653.0,1323.4 L653.4,1323.4 L653.9,1323.3 L654.4,1323.3 L654.9,1323.2 L655.4,1323.2 L655.9,1323.1 L656.4,1323.1 L656.8,1323.0 L657.3,1323.0 L657.8,1322.9 L658.3,1322.9 L658.8,1322.8 L659.3,1322.7 L659.8,1322.7 L660.3,1322.6 L660.7,1322.5 L661.2,1322.5 L661.7,1322.4 L662.2,1322.3 L662.7,1322.3 L663.2,1322.2 L663.7,1322.1 L664.2,1322.0 L664.6,1321.9 L665.1,1321.8 L665.6,1321.8 L666.1,1321.7 L666.6,1321.6 L667.1,1321.5 L667.6,1321.4 L668.1,1321.3 L668.5,1321.1 L669.0,1321.0 L669.5,1320.9 L670.0,1320.8 L670.5,1320.7 L671.0,1320.6 L671.5,1320.4 L671.9,1320.3 L672.4,1320.2 L672.9,1320.0 L673.4,1319.9 L673.9,1319.7 L674.4,1319.6 L674.9,1319.4 L675.4,1319.2 L675.8,1319.1 L676.3,1318.9 L676.8,1318.7 L677.3,1318.5 L677.8,1318.3 L678.3,1318.1 L678.8,1317.9 L679.3,1317.7 L679.7,1317.4 L680.2,1317.2 L680.7,1316.9 L681.2,1316.7 L681.7,1316.4 L682.2,1316.1 L682.7,1315.8 L683.2,1315.5 L683.6,1315.2 L684.1,1314.8 L684.6,1314.5 L685.1,1314.1 L685.6,1313.7 L686.1,1313.3 L686.6,1312.9 L687.0,1312.5 L687.5,1312.1 L688.0,1311.6 L688.5,1311.2 L689.0,1310.8 L689.5,1310.3 L690.0,1309.9 L690.5,1309.5 L690.9,1309.1 L691.4,1308.7 L691.9,1308.4 L692.4,1308.0 L692.9,1307.7 L693.4,1307.5 L693.9,1307.3 L694.4,1307.0 L694.8,1306.8 L695.3,1306.7 L695.8,1306.5 L696.3,1306.3 L696.8,1306.1 L697.3,1305.9 L697.8,1305.6 L698.3,1305.4 L698.7,1305.1 L699.2,1304.9 L699.7,1304.6 L700.2,1304.2 L700.7,1303.9 L701.2,1303.5 L701.7,1303.1 L702.1,1302.6 L702.6,1302.2 L703.1,1301.7 L703.6,1301.2 L704.1,1300.6 L704.6,1300.1 L705.1,1299.5 L705.6,1298.8 L706.0,1298.2 L706.5,1297.5 L707.0,1296.8 L707.5,1296.0 L708.0,1295.2 L708.5,1294.4 L709.0,1293.5 L709.5,1292.6 L709.9,1291.7 L710.4,1290.7 L710.9,1289.7 L711.4,1288.6 L711.9,1287.5 L712.4,1286.4 L712.9,1285.2 L713.3,1283.9 L713.8,1282.6 L714.3,1281.2 L714.8,1279.7 L715.3,1278.2 L715.8,1276.6 L716.3,1274.9 L716.8,1273.2 L717.2,1271.3 L717.7,1269.4 L718.2,1267.3 L718.7,1265.2 L719.2,1263.0 L719.7,1260.6 L720.2,1258.1 L720.7,1255.5 L721.1,1252.7 L721.6,1249.8 L722.1,1246.6 L722.6,1243.4 L723.1,1239.9 L723.6,1236.2 L724.1,1232.3 L724.6,1228.2 L725.0,1223.7 L725.5,1219.1 L726.0,1214.1 L726.5,1208.7 L727.0,1203.1 L727.5,1197.0 L728.0,1190.5 L728.4,1183.6 L728.9,1176.2 L729.4,1168.2 L729.9,1159.7 L730.4,1150.5 L730.9,1140.6 L731.4,1130.1 L731.9,1118.7 L732.3,1106.4 L732.8,1093.3 L733.3,1079.1 L733.8,1063.8 L734.3,1047.4 L734.8,1029.8 L735.3,1010.9 L735.8,990.7 L736.2,969.2 L736.7,946.2 L737.2,922.0 L737.7,896.5 L738.2,869.8 L738.7,842.3 L739.2,814.1 L739.7,785.7 L740.1,757.6 L740.6,730.3 L741.1,704.6 L741.6,681.2 L742.1,660.9 L742.6,644.5 L743.1,632.6 L743.5,625.7 L744.0,624.2 L744.5,628.1 L745.0,637.3 L745.5,651.2 L746.0,669.3 L746.5,691.0 L747.0,715.3 L747.4,741.5 L747.9,769.0 L748.4,797.0 L748.9,824.9 L749.4,852.4 L749.9,879.2 L750.4,904.9 L750.9,929.4 L751.3,952.5 L751.8,974.4 L752.3,994.8 L752.8,1013.9 L753.3,1031.7 L753.8,1048.3 L754.3,1063.7 L754.8,1078.0 L755.2,1091.2 L755.7,1103.4 L756.2,1114.8 L756.7,1125.3 L757.2,1135.0 L757.7,1144.0 L758.2,1152.4 L758.6,1160.1 L759.1,1167.3 L759.6,1173.9 L760.1,1180.1 L760.6,1185.8 L761.1,1191.1 L761.6,1196.1 L762.1,1200.6 L762.5,1204.9 L763.0,1208.8 L763.5,1212.5 L764.0,1215.9 L764.5,1219.0 L765.0,1221.9 L765.5,1224.6 L766.0,1227.1 L766.4,1229.4 L766.9,1231.5 L767.4,1233.5 L767.9,1235.3 L768.4,1236.9 L768.9,1238.4 L769.4,1239.8 L769.9,1241.0 L770.3,1242.1 L770.8,1243.1 L771.3,1243.9 L771.8,1244.7 L772.3,1245.3 L772.8,1245.8 L773.3,1246.3 L773.7,1246.6 L774.2,1246.8 L774.7,1246.9 L775.2,1247.0 L775.7,1246.9 L776.2,1246.7 L776.7,1246.4 L777.2,1246.0 L777.6,1245.5 L778.1,1244.9 L778.6,1244.2 L779.1,1243.4 L779.6,1242.4 L780.1,1241.3 L780.6,1240.1 L781.1,1238.7 L781.5,1237.2 L782.0,1235.5 L782.5,1233.7 L783.0,1231.6 L783.5,1229.4 L784.0,1227.0 L784.5,1224.4 L785.0,1221.5 L785.4,1218.4 L785.9,1215.0 L786.4,1211.3 L786.9,1207.3 L787.4,1203.0 L787.9,1198.3 L788.4,1193.2 L788.8,1187.7 L789.3,1181.7 L789.8,1175.2 L790.3,1168.3 L790.8,1160.7 L791.3,1152.5 L791.8,1143.6 L792.3,1134.0 L792.7,1123.7 L793.2,1112.5 L793.7,1100.5 L794.2,1087.6 L794.7,1073.7 L795.2,1058.9 L795.7,1043.2 L796.2,1026.5 L796.6,1009.0 L797.1,990.7 L797.6,971.8 L798.1,952.5 L798.6,933.1 L799.1,914.0 L799.6,895.6 L800.1,878.4 L800.5,862.9 L801.0,849.7 L801.5,839.3 L802.0,832.0 L802.5,828.4 L803.0,828.5 L803.5,832.3 L803.9,839.6 L804.4,850.2 L804.9,863.6 L805.4,879.2 L805.9,896.7 L806.4,915.3 L806.9,934.6 L807.4,954.2 L807.8,973.7 L808.3,992.8 L808.8,1011.3 L809.3,1029.1 L809.8,1046.0 L810.3,1062.0 L810.8,1077.1 L811.3,1091.2 L811.7,1104.4 L812.2,1116.7 L812.7,1128.1 L813.2,1138.8 L813.7,1148.6 L814.2,1157.8 L814.7,1166.3 L815.1,1174.1 L815.6,1181.4 L816.1,1188.2 L816.6,1194.5 L817.1,1200.3 L817.6,1205.8 L818.1,1210.8 L818.6,1215.5 L819.0,1219.8 L819.5,1223.9 L820.0,1227.7 L820.5,1231.2 L821.0,1234.4 L821.5,1237.5 L822.0,1240.3 L822.5,1243.0 L822.9,1245.5 L823.4,1247.8 L823.9,1249.9 L824.4,1252.0 L824.9,1253.8 L825.4,1255.6 L825.9,1257.2 L826.4,1258.7 L826.8,1260.1 L827.3,1261.5 L827.8,1262.7 L828.3,1263.8 L828.8,1264.9 L829.3,1265.8 L829.8,1266.7 L830.2,1267.6 L830.7,1268.3 L831.2,1269.1 L831.7,1269.7 L832.2,1270.3 L832.7,1270.8 L833.2,1271.3 L833.7,1271.8 L834.1,1272.2 L834.6,1272.6 L835.1,1272.9 L835.6,1273.2 L836.1,1273.5 L836.6,1273.7 L837.1,1273.9 L837.6,1274.1 L838.0,1274.3 L838.5,1274.4 L839.0,1274.5 L839.5,1274.6 L840.0,1274.7 L840.5,1274.8 L841.0,1274.8 L841.5,1274.9 L841.9,1274.9 L842.4,1274.9 L842.9,1275.0 L843.4,1275.0 L843.9,1275.0 L844.4,1274.9 L844.9,1274.9 L845.3,1274.9 L845.8,1274.8 L846.3,1274.8 L846.8,1274.7 L847.3,1274.6 L847.8,1274.5 L848.3,1274.3 L848.8,1274.2 L849.2,1274.0 L849.7,1273.8 L850.2,1273.5 L850.7,1273.3 L851.2,1273.0 L851.7,1272.7 L852.2,1272.4 L852.7,1272.0 L853.1,1271.6 L853.6,1271.1 L854.1,1270.6 L854.6,1270.1 L855.1,1269.5 L855.6,1268.9 L856.1,1268.3 L856.6,1267.6 L857.0,1266.8 L857.5,1266.0 L858.0,1265.2 L858.5,1264.3 L859.0,1263.3 L859.5,1262.3 L860.0,1261.2 L860.4,1260.0 L860.9,1258.8 L861.4,1257.5 L861.9,1256.2 L862.4,1254.7 L862.9,1253.2 L863.4,1251.6 L863.9,1249.9 L864.3,1248.1 L864.8,1246.2 L865.3,1244.2 L865.8,1242.1 L866.3,1239.9 L866.8,1237.6 L867.3,1235.1 L867.8,1232.5 L868.2,1229.7 L868.7,1226.8 L869.2,1223.7 L869.7,1220.5 L870.2,1217.1 L870.7,1213.4 L871.2,1209.6 L871.7,1205.5 L872.1,1201.2 L872.6,1196.6 L873.1,1191.7 L873.6,1186.6 L874.1,1181.1 L874.6,1175.3 L875.1,1169.1 L875.5,1162.5 L876.0,1155.4 L876.5,1147.9 L877.0,1139.9 L877.5,1131.3 L878.0,1122.2 L878.5,1112.4 L879.0,1101.9 L879.4,1090.6 L879.9,1078.5 L880.4,1065.6 L880.9,1051.6 L881.4,1036.6 L881.9,1020.5 L882.4,1003.2 L882.9,984.5 L883.3,964.4 L883.8,942.7 L884.3,919.5 L884.8,894.4 L885.3,867.5 L885.8,838.7 L886.3,807.9 L886.8,775.1 L887.2,740.2 L887.7,703.3 L888.2,664.6 L888.7,624.3 L889.2,582.7 L889.7,540.3 L890.2,497.7 L890.6,455.8 L891.1,415.4 L891.6,377.6 L892.1,343.6 L892.6,314.6 L893.1,291.6 L893.6,275.6 L894.1,267.2 L894.5,266.9 L895.0,274.6 L895.5,289.9 L896.0,312.1 L896.5,340.2 L897.0,373.2 L897.5,409.8 L898.0,448.9 L898.4,489.4 L898.9,530.5 L899.4,571.3 L899.9,611.1 L900.4,649.6 L900.9,686.4 L901.4,721.2 L901.8,754.0 L902.3,784.6 L902.8,813.1 L903.3,839.5 L903.8,863.8 L904.3,886.2 L904.8,906.6 L905.3,925.3 L905.7,942.2 L906.2,957.5 L906.7,971.3 L907.2,983.6 L907.7,994.5 L908.2,1004.1 L908.7,1012.5 L909.2,1019.6 L909.6,1025.5 L910.1,1030.3 L910.6,1034.0 L911.1,1036.6 L911.6,1038.1 L912.1,1038.7 L912.6,1038.2 L913.1,1036.8 L913.5,1034.5 L914.0,1031.3 L914.5,1027.4 L915.0,1022.7 L915.5,1017.6 L916.0,1012.1 L916.5,1006.5 L916.9,1000.9 L917.4,995.7 L917.9,991.2 L918.4,987.6 L918.9,985.3 L919.4,984.5 L919.9,985.5 L920.4,988.2 L920.8,992.8 L921.3,999.1 L921.8,1007.1 L922.3,1016.5 L922.8,1027.0 L923.3,1038.3 L923.8,1050.3 L924.3,1062.5 L924.7,1074.9 L925.2,1087.1 L925.7,1099.1 L926.2,1110.7 L926.7,1121.9 L927.2,1132.5 L927.7,1142.6 L928.2,1152.2 L928.6,1161.2 L929.1,1169.6 L929.6,1177.5 L930.1,1184.9 L930.6,1191.9 L931.1,1198.4 L931.6,1204.4 L932.0,1210.1 L932.5,1215.4 L933.0,1220.4 L933.5,1225.0 L934.0,1229.4 L934.5,1233.5 L935.0,1237.3 L935.5,1240.9 L935.9,1244.3 L936.4,1247.6 L936.9,1250.6 L937.4,1253.4 L937.9,1256.1 L938.4,1258.7 L938.9,1261.1 L939.4,1263.3 L939.8,1265.5 L940.3,1267.6 L940.8,1269.5 L941.3,1271.4 L941.8,1273.1 L942.3,1274.8 L942.8,1276.4 L943.3,1277.9 L943.7,1279.4 L944.2,1280.8 L944.7,1282.1 L945.2,1283.4 L945.7,1284.6 L946.2,1285.8 L946.7,1286.9 L947.1,1288.0 L947.6,1289.0 L948.1,1290.0 L948.6,1290.9 L949.1,1291.9 L949.6,1292.7 L950.1,1293.6 L950.6,1294.4 L951.0,1295.2 L951.5,1295.9 L952.0,1296.7 L952.5,1297.4 L953.0,1298.1 L953.5,1298.7 L954.0,1299.3 L954.5,1299.9 L954.9,1300.5 L955.4,1301.1 L955.9,1301.7 L956.4,1302.2 L956.9,1302.7 L957.4,1303.2 L957.9,1303.7 L958.4,1304.1 L958.8,1304.6 L959.3,1305.0 L959.8,1305.4 L960.3,1305.8 L960.8,1306.2 L961.3,1306.6 L961.8,1307.0 L962.2,1307.3 L962.7,1307.7 L963.2,1308.0 L963.7,1308.3 L964.2,1308.6 L964.7,1308.9 L965.2,1309.2 L965.7,1309.5 L966.1,1309.8 L966.6,1310.0 L967.1,1310.3 L967.6,1310.5 L968.1,1310.8 L968.6,1311.0 L969.1,1311.2 L969.6,1311.4 L970.0,1311.6 L970.5,1311.8 L971.0,1312.0 L971.5,1312.1 L972.0,1312.3 L972.5,1312.4 L973.0,1312.6 L973.5,1312.7 L973.9,1312.8 L974.4,1312.9 L974.9,1313.0 L975.4,1313.1 L975.9,1313.2 L976.4,1313.3 L976.9,1313.4 L977.3,1313.4 L977.8,1313.5 L978.3,1313.5 L978.8,1313.5 L979.3,1313.5 L979.8,1313.5 L980.3,1313.5 L980.8,1313.5 L981.2,1313.4 L981.7,1313.3 L982.2,1313.3 L982.7,1313.2 L983.2,1313.0 L983.7,1312.9 L984.2,1312.8 L984.7,1312.6 L985.1,1312.4 L985.6,1312.1 L986.1,1311.9 L986.6,1311.6 L987.1,1311.3 L987.6,1310.9 L988.1,1310.5 L988.5,1310.1 L989.0,1309.6 L989.5,1309.1 L990.0,1308.5 L990.5,1307.9 L991.0,1307.2 L991.5,1306.4 L992.0,1305.6 L992.4,1304.7 L992.9,1303.8 L993.4,1302.8 L993.9,1301.7 L994.4,1300.5 L994.9,1299.3 L995.4,1298.0 L995.9,1296.7 L996.3,1295.3 L996.8,1293.9 L997.3,1292.6 L997.8,1291.3 L998.3,1290.0 L998.8,1288.9 L999.3,1288.0 L999.8,1287.3 L1000.2,1286.7 L1000.7,1286.5 L1001.2,1286.5 L1001.7,1286.8 L1002.2,1287.4 L1002.7,1288.2 L1003.2,1289.2 L1003.6,1290.3 L1004.1,1291.6 L1004.6,1293.0 L1005.1,1294.5 L1005.6,1296.0 L1006.1,1297.4 L1006.6,1298.9 L1007.1,1300.3 L1007.5,1301.6 L1008.0,1302.9 L1008.5,1304.1 L1009.0,1305.2 L1009.5,1306.3 L1010.0,1307.3 L1010.5,1308.2 L1011.0,1309.0 L1011.4,1309.8 L1011.9,1310.6 L1012.4,1311.3 L1012.9,1311.9 L1013.4,1312.5 L1013.9,1313.0 L1014.4,1313.5 L1014.9,1314.0 L1015.3,1314.4 L1015.8,1314.8 L1016.3,1315.2 L1016.8,1315.5 L1017.3,1315.8 L1017.8,1316.1 L1018.3,1316.4 L1018.7,1316.6 L1019.2,1316.8 L1019.7,1317.0 L1020.2,1317.2 L1020.7,1317.4 L1021.2,1317.5 L1021.7,1317.7 L1022.2,1317.8 L1022.6,1317.9 L1023.1,1318.0 L1023.6,1318.1 L1024.1,1318.1 L1024.6,1318.2 L1025.1,1318.2 L1025.6,1318.3 L1026.1,1318.3 L1026.5,1318.3 L1027.0,1318.3 L1027.5,1318.3 L1028.0,1318.3 L1028.5,1318.2 L1029.0,1318.2 L1029.5,1318.1 L1030.0,1318.1 L1030.4,1318.0 L1030.9,1317.9 L1031.4,1317.8 L1031.9,1317.7 L1032.4,1317.6 L1032.9,1317.4 L1033.4,1317.3 L1033.8,1317.1 L1034.3,1316.9 L1034.8,1316.7 L1035.3,1316.5 L1035.8,1316.3 L1036.3,1316.1 L1036.8,1315.8 L1037.3,1315.5 L1037.7,1315.2 L1038.2,1314.9 L1038.7,1314.5 L1039.2,1314.2 L1039.7,1313.8 L1040.2,1313.3 L1040.7,1312.9 L1041.2,1312.4 L1041.6,1311.9 L1042.1,1311.3 L1042.6,1310.7 L1043.1,1310.1 L1043.6,1309.4 L1044.1,1308.7 L1044.6,1307.9 L1045.1,1307.0 L1045.5,1306.1 L1046.0,1305.2 L1046.5,1304.1 L1047.0,1303.0 L1047.5,1301.8 L1048.0,1300.5 L1048.5,1299.1 L1048.9,1297.6 L1049.4,1296.0 L1049.9,1294.2 L1050.4,1292.3 L1050.9,1290.3 L1051.4,1288.1 L1051.9,1285.8 L1052.4,1283.2 L1052.8,1280.5 L1053.3,1277.6 L1053.8,1274.5 L1054.3,1271.2 L1054.8,1267.7 L1055.3,1264.1 L1055.8,1260.2 L1056.3,1256.3 L1056.7,1252.3 L1057.2,1248.2 L1057.7,1244.2 L1058.2,1240.4 L1058.7,1236.7 L1059.2,1233.5 L1059.7,1230.7 L1060.2,1228.4 L1060.6,1226.9 L1061.1,1226.0 L1061.6,1226.0 L1062.1,1226.7 L1062.6,1228.1 L1063.1,1230.3 L1063.6,1233.0 L1064.0,1236.1 L1064.5,1239.7 L1065.0,1243.5 L1065.5,1247.4 L1066.0,1251.4 L1066.5,1255.4 L1067.0,1259.4 L1067.5,1263.2 L1067.9,1266.8 L1068.4,1270.3 L1068.9,1273.6 L1069.4,1276.7 L1069.9,1279.6 L1070.4,1282.3 L1070.9,1284.8 L1071.4,1287.1 L1071.8,1289.3 L1072.3,1291.3 L1072.8,1293.2 L1073.3,1294.9 L1073.8,1296.5 L1074.3,1298.0 L1074.8,1299.3 L1075.3,1300.6 L1075.7,1301.8 L1076.2,1302.9 L1076.7,1303.9 L1077.2,1304.8 L1077.7,1305.7 L1078.2,1306.5 L1078.7,1307.2 L1079.1,1307.9 L1079.6,1308.6 L1080.1,1309.2 L1080.6,1309.7 L1081.1,1310.2 L1081.6,1310.7 L1082.1,1311.1 L1082.6,1311.6 L1083.0,1311.9 L1083.5,1312.3 L1084.0,1312.6 L1084.5,1312.9 L1085.0,1313.2 L1085.5,1313.4 L1086.0,1313.6 L1086.5,1313.8 L1086.9,1314.0 L1087.4,1314.2 L1087.9,1314.3 L1088.4,1314.5 L1088.9,1314.6 L1089.4,1314.7 L1089.9,1314.8 L1090.3,1314.8 L1090.8,1314.9 L1091.3,1314.9 L1091.8,1315.0 L1092.3,1315.0 L1092.8,1315.0 L1093.3,1315.0 L1093.8,1315.0 L1094.2,1314.9 L1094.7,1314.9 L1095.2,1314.8 L1095.7,1314.8 L1096.2,1314.7 L1096.7,1314.6 L1097.2,1314.5 L1097.7,1314.4 L1098.1,1314.3 L1098.6,1314.1 L1099.1,1314.0 L1099.6,1313.8 L1100.1,1313.7 L1100.6,1313.5 L1101.1,1313.3 L1101.6,1313.1 L1102.0,1312.9 L1102.5,1312.6 L1103.0,1312.4 L1103.5,1312.1 L1104.0,1311.9 L1104.5,1311.6 L1105.0,1311.3 L1105.4,1311.0 L1105.9,1310.6 L1106.4,1310.3 L1106.9,1310.0 L1107.4,1309.6 L1107.9,1309.2 L1108.4,1308.8 L1108.9,1308.4 L1109.3,1308.0 L1109.8,1307.5 L1110.3,1307.1 L1110.8,1306.6 L1111.3,1306.1 L1111.8,1305.7 L1112.3,1305.1 L1112.8,1304.6 L1113.2,1304.1 L1113.7,1303.5 L1114.2,1303.0 L1114.7,1302.4 L1115.2,1301.8 L1115.7,1301.2 L1116.2,1300.6 L1116.7,1300.0 L1117.1,1299.4 L1117.6,1298.7 L1118.1,1298.1 L1118.6,1297.5 L1119.1,1296.9 L1119.6,1296.2 L1120.1,1295.6 L1120.5,1295.0 L1121.0,1294.4 L1121.5,1293.8 L1122.0,1293.2 L1122.5,1292.6 L1123.0,1292.1 L1123.5,1291.6 L1124.0,1291.0 L1124.4,1290.6 L1124.9,1290.1 L1125.4,1289.7 L1125.9,1289.2 L1126.4,1288.8 L1126.9,1288.5 L1127.4,1288.1 L1127.9,1287.8 L1128.3,1287.5 L1128.8,1287.2 L1129.3,1286.9 L1129.8,1286.6 L1130.3,1286.4 L1130.8,1286.1 L1131.3,1285.9 L1131.8,1285.6 L1132.2,1285.3 L1132.7,1285.1 L1133.2,1284.7 L1133.7,1284.4 L1134.2,1284.1 L1134.7,1283.7 L1135.2,1283.2 L1135.6,1282.7 L1136.1,1282.2 L1136.6,1281.6 L1137.1,1280.9 L1137.6,1280.2 L1138.1,1279.4 L1138.6,1278.5 L1139.1,1277.5 L1139.5,1276.4 L1140.0,1275.2 L1140.5,1274.0 L1141.0,1272.6 L1141.5,1271.0 L1142.0,1269.4 L1142.5,1267.7 L1143.0,1265.9 L1143.4,1264.0 L1143.9,1262.0 L1144.4,1260.0 L1144.9,1257.9 L1145.4,1255.9 L1145.9,1254.0 L1146.4,1252.2 L1146.9,1250.5 L1147.3,1249.1 L1147.8,1247.9 L1148.3,1247.0 L1148.8,1246.4 L1149.3,1246.1 L1149.8,1246.1 L1150.3,1246.4 L1150.7,1246.9 L1151.2,1247.6 L1151.7,1248.5 L1152.2,1249.4 L1152.7,1250.3 L1153.2,1251.3 L1153.7,1252.2 L1154.2,1253.1 L1154.6,1253.8 L1155.1,1254.5 L1155.6,1255.1 L1156.1,1255.5 L1156.6,1255.9 L1157.1,1256.1 L1157.6,1256.2 L1158.1,1256.2 L1158.5,1256.1 L1159.0,1255.9 L1159.5,1255.7 L1160.0,1255.3 L1160.5,1254.9 L1161.0,1254.5 L1161.5,1254.0 L1162.0,1253.4 L1162.4,1252.8 L1162.9,1252.2 L1163.4,1251.6 L1163.9,1251.0 L1164.4,1250.4 L1164.9,1249.8 L1165.4,1249.2 L1165.8,1248.7 L1166.3,1248.2 L1166.8,1247.7 L1167.3,1247.3 L1167.8,1246.9 L1168.3,1246.6 L1168.8,1246.4 L1169.3,1246.2 L1169.7,1246.0 L1170.2,1246.0 L1170.7,1246.0 L1171.2,1246.0 L1171.7,1246.1 L1172.2,1246.3 L1172.7,1246.5 L1173.2,1246.7 L1173.6,1246.9 L1174.1,1247.2 L1174.6,1247.5 L1175.1,1247.7 L1175.6,1248.0 L1176.1,1248.2 L1176.6,1248.4 L1177.0,1248.6 L1177.5,1248.7 L1178.0,1248.7 L1178.5,1248.7 L1179.0,1248.5 L1179.5,1248.3 L1180.0,1247.9 L1180.5,1247.4 L1180.9,1246.8 L1181.4,1245.9 L1181.9,1245.0 L1182.4,1243.8 L1182.9,1242.4 L1183.4,1240.9 L1183.9,1239.1 L1184.4,1237.1 L1184.8,1234.9 L1185.3,1232.5 L1185.8,1229.9 L1186.3,1227.1 L1186.8,1224.2 L1187.3,1221.2 L1187.8,1218.2 L1188.3,1215.3 L1188.7,1212.5 L1189.2,1210.0 L1189.7,1207.9 L1190.2,1206.2 L1190.7,1205.1 L1191.2,1204.7 L1191.7,1205.0 L1192.1,1206.0 L1192.6,1207.7 L1193.1,1210.1 L1193.6,1213.0 L1194.1,1216.5 L1194.6,1220.4 L1195.1,1224.6 L1195.6,1228.9 L1196.0,1233.3 L1196.5,1237.8 L1197.0,1242.2 L1197.5,1246.4 L1198.0,1250.5 L1198.5,1254.5 L1199.0,1258.2 L1199.5,1261.8 L1199.9,1265.1 L1200.4,1268.2 L1200.9,1271.2 L1201.4,1273.9 L1201.9,1276.5 L1202.4,1278.9 L1202.9,1281.2 L1203.4,1283.3 L1203.8,1285.2 L1204.3,1287.1 L1204.8,1288.8 L1205.3,1290.4 L1205.8,1291.8 L1206.3,1293.2 L1206.8,1294.5 L1207.2,1295.8 L1207.7,1296.9 L1208.2,1298.0 L1208.7,1299.0 L1209.2,1300.0 L1209.7,1300.8 L1210.2,1301.7 L1210.7,1302.5 L1211.1,1303.2 L1211.6,1303.9 L1212.1,1304.6 L1212.6,1305.2 L1213.1,1305.8 L1213.6,1306.3 L1214.1,1306.8 L1214.6,1307.3 L1215.0,1307.8 L1215.5,1308.2 L1216.0,1308.6 L1216.5,1309.0 L1217.0,1309.3 L1217.5,1309.6 L1218.0,1310.0 L1218.5,1310.2 L1218.9,1310.5 L1219.4,1310.7 L1219.9,1311.0 L1220.4,1311.2 L1220.9,1311.3 L1221.4,1311.5 L1221.9,1311.7 L1222.3,1311.8 L1222.8,1311.9 L1223.3,1312.0 L1223.8,1312.1 L1224.3,1312.1 L1224.8,1312.2 L1225.3,1312.2 L1225.8,1312.2 L1226.2,1312.2 L1226.7,1312.1 L1227.2,1312.1 L1227.7,1312.0 L1228.2,1311.9 L1228.7,1311.8 L1229.2,1311.6 L1229.7,1311.4 L1230.1,1311.2 L1230.6,1311.0 L1231.1,1310.7 L1231.6,1310.5 L1232.1,1310.1 L1232.6,1309.8 L1233.1,1309.4 L1233.6,1309.0 L1234.0,1308.5 L1234.5,1308.0 L1235.0,1307.4 L1235.5,1306.8 L1236.0,1306.1 L1236.5,1305.4 L1237.0,1304.6 L1237.4,1303.7 L1237.9,1302.8 L1238.4,1301.8 L1238.9,1300.7 L1239.4,1299.5 L1239.9,1298.2 L1240.4,1296.8 L1240.9,1295.2 L1241.3,1293.6 L1241.8,1291.8 L1242.3,1290.0 L1242.8,1287.9 L1243.3,1285.8 L1243.8,1283.5 L1244.3,1281.2 L1244.8,1278.7 L1245.2,1276.2 L1245.7,1273.6 L1246.2,1271.0 L1246.7,1268.5 L1247.2,1266.1 L1247.7,1263.9 L1248.2,1262.0 L1248.7,1260.4 L1249.1,1259.1 L1249.6,1258.4 L1250.1,1258.1 L1250.6,1258.3 L1251.1,1259.0 L1251.6,1260.1 L1252.1,1261.6 L1252.5,1263.5 L1253.0,1265.6 L1253.5,1268.0 L1254.0,1270.4 L1254.5,1273.0 L1255.0,1275.5 L1255.5,1278.0 L1256.0,1280.4 L1256.4,1282.8 L1256.9,1285.0 L1257.4,1287.1 L1257.9,1289.1 L1258.4,1290.9 L1258.9,1292.7 L1259.4,1294.3 L1259.9,1295.7 L1260.3,1297.1 L1260.8,1298.4 L1261.3,1299.5 L1261.8,1300.6 L1262.3,1301.5 L1262.8,1302.4 L1263.3,1303.2 L1263.7,1304.0 L1264.2,1304.6 L1264.7,1305.2 L1265.2,1305.8 L1265.7,1306.2 L1266.2,1306.7 L1266.7,1307.0 L1267.2,1307.4 L1267.6,1307.7 L1268.1,1307.9 L1268.6,1308.1 L1269.1,1308.3 L1269.6,1308.4 L1270.1,1308.5 L1270.6,1308.6 L1271.1,1308.6 L1271.5,1308.6 L1272.0,1308.6 L1272.5,1308.5 L1273.0,1308.5 L1273.5,1308.3 L1274.0,1308.2 L1274.5,1308.0 L1275.0,1307.8 L1275.4,1307.5 L1275.9,1307.2 L1276.4,1306.9 L1276.9,1306.6 L1277.4,1306.2 L1277.9,1305.8 L1278.4,1305.3 L1278.8,1304.8 L1279.3,1304.3 L1279.8,1303.7 L1280.3,1303.1 L1280.8,1302.4 L1281.3,1301.6 L1281.8,1300.9 L1282.3,1300.0 L1282.7,1299.1 L1283.2,1298.2 L1283.7,1297.1 L1284.2,1296.0 L1284.7,1294.9 L1285.2,1293.6 L1285.7,1292.2 L1286.2,1290.8 L1286.6,1289.2 L1287.1,1287.6 L1287.6,1285.8 L1288.1,1283.9 L1288.6,1281.8 L1289.1,1279.6 L1289.6,1277.2 L1290.1,1274.6 L1290.5,1271.8 L1291.0,1268.9 L1291.5,1265.6 L1292.0,1262.2 L1292.5,1258.5 L1293.0,1254.4 L1293.5,1250.1 L1293.9,1245.4 L1294.4,1240.4 L1294.9,1235.0 L1295.4,1229.2 L1295.9,1223.1 L1296.4,1216.5 L1296.9,1209.4 L1297.4,1202.0 L1297.8,1194.3 L1298.3,1186.2 L1298.8,1177.8 L1299.3,1169.3 L1299.8,1160.8 L1300.3,1152.4 L1300.8,1144.3 L1301.3,1136.7 L1301.7,1130.0 L1302.2,1124.2 L1302.7,1119.7 L1303.2,1116.6 L1303.7,1115.1 L1304.2,1115.1 L1304.7,1116.9 L1305.2,1120.1 L1305.6,1124.8 L1306.1,1130.6 L1306.6,1137.4 L1307.1,1145.0 L1307.6,1153.1 L1308.1,1161.4 L1308.6,1169.9 L1309.0,1178.3 L1309.5,1186.5 L1310.0,1194.5 L1310.5,1202.2 L1311.0,1209.4 L1311.5,1216.3 L1312.0,1222.8 L1312.5,1228.8 L1312.9,1234.4 L1313.4,1239.7 L1313.9,1244.6 L1314.4,1249.1 L1314.9,1253.3 L1315.4,1257.2 L1315.9,1260.8 L1316.4,1264.1 L1316.8,1267.2 L1317.3,1270.0 L1317.8,1272.7 L1318.3,1275.1 L1318.8,1277.4 L1319.3,1279.5 L1319.8,1281.5 L1320.3,1283.3 L1320.7,1285.0 L1321.2,1286.6 L1321.7,1288.0 L1322.2,1289.4 L1322.7,1290.7 L1323.2,1291.8 L1323.7,1292.9 L1324.1,1294.0 L1324.6,1295.0 L1325.1,1295.9 L1325.6,1296.7 L1326.1,1297.5 L1326.6,1298.3 L1327.1,1299.0 L1327.6,1299.7 L1328.0,1300.3 L1328.5,1300.9 L1329.0,1301.5 L1329.5,1302.0 L1330.0,1302.6 L1330.5,1303.1 L1331.0,1303.6 L1331.5,1304.1 L1331.9,1304.5 L1332.4,1305.0 L1332.9,1305.4 L1333.4,1305.8 L1333.9,1306.2 L1334.4,1306.6 L1334.9,1307.0 L1335.4,1307.4 L1335.8,1307.7 L1336.3,1308.1 L1336.8,1308.4 L1337.3,1308.8 L1337.8,1309.1 L1338.3,1309.4 L1338.8,1309.7 L1339.2,1310.0 L1339.7,1310.3 L1340.2,1310.6 L1340.7,1310.8 L1341.2,1311.1 L1341.7,1311.3 L1342.2,1311.6 L1342.7,1311.8 L1343.1,1312.0 L1343.6,1312.2 L1344.1,1312.4 L1344.6,1312.6 L1345.1,1312.8 L1345.6,1312.9 L1346.1,1313.1 L1346.6,1313.2 L1347.0,1313.4 L1347.5,1313.5 L1348.0,1313.6 L1348.5,1313.7 L1349.0,1313.8 L1349.5,1313.9 L1350.0,1314.0 L1350.5,1314.1 L1350.9,1314.1 L1351.4,1314.2 L1351.9,1314.2 L1352.4,1314.3 L1352.9,1314.3 L1353.4,1314.3 L1353.9,1314.3 L1354.3,1314.3 L1354.8,1314.3 L1355.3,1314.3 L1355.8,1314.3 L1356.3,1314.2 L1356.8,1314.2 L1357.3,1314.2 L1357.8,1314.1 L1358.2,1314.0 L1358.7,1313.9 L1359.2,1313.9 L1359.7,1313.8 L1360.2,1313.7 L1360.7,1313.6 L1361.2,1313.4 L1361.7,1313.3 L1362.1,1313.2 L1362.6,1313.0 L1363.1,1312.8 L1363.6,1312.7 L1364.1,1312.5 L1364.6,1312.3 L1365.1,1312.1 L1365.5,1311.9 L1366.0,1311.7 L1366.5,1311.4 L1367.0,1311.2 L1367.5,1310.9 L1368.0,1310.7 L1368.5,1310.4 L1369.0,1310.1 L1369.4,1309.8 L1369.9,1309.4 L1370.4,1309.1 L1370.9,1308.7 L1371.4,1308.3 L1371.9,1307.9 L1372.4,1307.5 L1372.9,1307.1 L1373.3,1306.7 L1373.8,1306.2 L1374.3,1305.7 L1374.8,1305.2 L1375.3,1304.6 L1375.8,1304.1 L1376.3,1303.5 L1376.8,1302.9 L1377.2,1302.2 L1377.7,1301.6 L1378.2,1300.8 L1378.7,1300.1 L1379.2,1299.3 L1379.7,1298.5 L1380.2,1297.7 L1380.6,1296.8 L1381.1,1295.8 L1381.6,1294.9 L1382.1,1293.8 L1382.6,1292.7 L1383.1,1291.6 L1383.6,1290.4 L1384.1,1289.1 L1384.5,1287.8 L1385.0,1286.4 L1385.5,1284.9 L1386.0,1283.3 L1386.5,1281.6 L1387.0,1279.9 L1387.5,1278.0 L1388.0,1276.0 L1388.4,1273.9 L1388.9,1271.7 L1389.4,1269.3 L1389.9,1266.8 L1390.4,1264.1 L1390.9,1261.3 L1391.4,1258.2 L1391.9,1255.0 L1392.3,1251.5 L1392.8,1247.8 L1393.3,1243.8 L1393.8,1239.6 L1394.3,1235.0 L1394.8,1230.1 L1395.3,1224.8 L1395.7,1219.2 L1396.2,1213.1 L1396.7,1206.5 L1397.2,1199.5 L1397.7,1191.9 L1398.2,1183.8 L1398.7,1175.1 L1399.2,1165.7 L1399.6,1155.6 L1400.1,1144.9 L1400.6,1133.5 L1401.1,1121.4 L1401.6,1108.6 L1402.1,1095.2 L1402.6,1081.2 L1403.1,1066.8 L1403.5,1052.2 L1404.0,1037.5 L1404.5,1023.0 L1405.0,1009.1 L1405.5,996.2 L1406.0,984.6 L1406.5,974.7 L1407.0,966.9 L1407.4,961.5 L1407.9,958.8 L1408.4,958.8 L1408.9,961.5 L1409.4,966.9 L1409.9,974.5 L1410.4,984.2 L1410.8,995.5 L1411.3,1008.0 L1411.8,1021.3 L1412.3,1035.1 L1412.8,1049.0 L1413.3,1062.9 L1413.8,1076.4 L1414.3,1089.4 L1414.7,1101.9 L1415.2,1113.7 L1415.7,1124.8 L1416.2,1135.2 L1416.7,1144.9 L1417.2,1153.9 L1417.7,1162.3 L1418.2,1170.0 L1418.6,1177.0 L1419.1,1183.5 L1419.6,1189.5 L1420.1,1195.0 L1420.6,1200.0 L1421.1,1204.6 L1421.6,1208.7 L1422.1,1212.5 L1422.5,1216.0 L1423.0,1219.1 L1423.5,1221.9 L1424.0,1224.5 L1424.5,1226.8 L1425.0,1228.8 L1425.5,1230.6 L1425.9,1232.2 L1426.4,1233.6 L1426.9,1234.8 L1427.4,1235.8 L1427.9,1236.6 L1428.4,1237.3 L1428.9,1237.7 L1429.4,1238.0 L1429.8,1238.2 L1430.3,1238.2 L1430.8,1238.0 L1431.3,1237.6 L1431.8,1237.1 L1432.3,1236.3 L1432.8,1235.4 L1433.3,1234.3 L1433.7,1233.0 L1434.2,1231.5 L1434.7,1229.7 L1435.2,1227.7 L1435.7,1225.5 L1436.2,1222.9 L1436.7,1220.1 L1437.2,1217.0 L1437.6,1213.5 L1438.1,1209.7 L1438.6,1205.4 L1439.1,1200.8 L1439.6,1195.7 L1440.1,1190.2 L1440.6,1184.1 L1441.0,1177.5 L1441.5,1170.3 L1442.0,1162.6 L1442.5,1154.3 L1443.0,1145.3 L1443.5,1135.8 L1444.0,1125.7 L1444.5,1115.1 L1444.9,1104.0 L1445.4,1092.5 L1445.9,1080.9 L1446.4,1069.3 L1446.9,1057.9 L1447.4,1047.1 L1447.9,1037.1 L1448.4,1028.3 L1448.8,1020.9 L1449.3,1015.4 L1449.8,1012.0 L1450.3,1010.8 L1450.8,1011.9 L1451.3,1015.2 L1451.8,1020.7 L1452.2,1028.0 L1452.7,1037.0 L1453.2,1047.2 L1453.7,1058.4 L1454.2,1070.2 L1454.7,1082.3 L1455.2,1094.5 L1455.7,1106.5 L1456.1,1118.3 L1456.6,1129.6 L1457.1,1140.4 L1457.6,1150.7 L1458.1,1160.4 L1458.6,1169.6 L1459.1,1178.1 L1459.6,1186.1 L1460.0,1193.5 L1460.5,1200.3 L1461.0,1206.7 L1461.5,1212.7 L1462.0,1218.2 L1462.5,1223.2 L1463.0,1228.0 L1463.5,1232.3 L1463.9,1236.4 L1464.4,1240.1 L1464.9,1243.6 L1465.4,1246.8 L1465.9,1249.8 L1466.4,1252.6 L1466.9,1255.2 L1467.3,1257.6 L1467.8,1259.8 L1468.3,1261.9 L1468.8,1263.8 L1469.3,1265.6 L1469.8,1267.3 L1470.3,1268.9 L1470.8,1270.3 L1471.2,1271.6 L1471.7,1272.9 L1472.2,1274.0 L1472.7,1275.1 L1473.2,1276.1 L1473.7,1277.0 L1474.2,1277.9 L1474.7,1278.6 L1475.1,1279.3 L1475.6,1280.0 L1476.1,1280.6 L1476.6,1281.1 L1477.1,1281.5 L1477.6,1281.9 L1478.1,1282.3 L1478.6,1282.6 L1479.0,1282.8 L1479.5,1283.0 L1480.0,1283.1 L1480.5,1283.2 L1481.0,1283.2 L1481.5,1283.1 L1482.0,1283.0 L1482.4,1282.8 L1482.9,1282.6 L1483.4,1282.3 L1483.9,1281.9 L1484.4,1281.5 L1484.9,1281.0 L1485.4,1280.4 L1485.9,1279.8 L1486.3,1279.0 L1486.8,1278.2 L1487.3,1277.3 L1487.8,1276.3 L1488.3,1275.2 L1488.8,1274.0 L1489.3,1272.7 L1489.8,1271.2 L1490.2,1269.6 L1490.7,1267.9 L1491.2,1266.0 L1491.7,1264.0 L1492.2,1261.8 L1492.7,1259.4 L1493.2,1256.8 L1493.7,1254.0 L1494.1,1250.9 L1494.6,1247.6 L1495.1,1244.0 L1495.6,1240.1 L1496.1,1236.0 L1496.6,1231.4 L1497.1,1226.6 L1497.5,1221.3 L1498.0,1215.7 L1498.5,1209.6 L1499.0,1203.2 L1499.5,1196.3 L1500.0,1189.0 L1500.5,1181.4 L1501.0,1173.5 L1501.4,1165.3 L1501.9,1157.0 L1502.4,1148.6 L1502.9,1140.4 L1503.4,1132.6 L1503.9,1125.2 L1504.4,1118.6 L1504.9,1113.1 L1505.3,1108.7 L1505.8,1105.7 L1506.3,1104.2 L1506.8,1104.3 L1507.3,1106.0 L1507.8,1109.1 L1508.3,1113.5 L1508.8,1119.1 L1509.2,1125.6 L1509.7,1132.7 L1510.2,1140.3 L1510.7,1148.1 L1511.2,1156.1 L1511.7,1163.9 L1512.2,1171.5 L1512.6,1178.9 L1513.1,1185.9 L1513.6,1192.6 L1514.1,1198.8 L1514.6,1204.6 L1515.1,1210.0 L1515.6,1215.0 L1516.1,1219.6 L1516.5,1223.8 L1517.0,1227.6 L1517.5,1231.2 L1518.0,1234.4 L1518.5,1237.3 L1519.0,1239.9 L1519.5,1242.3 L1520.0,1244.4 L1520.4,1246.3 L1520.9,1248.0 L1521.4,1249.6 L1521.9,1250.9 L1522.4,1252.1 L1522.9,1253.1 L1523.4,1253.9 L1523.9,1254.7 L1524.3,1255.3 L1524.8,1255.8 L1525.3,1256.1 L1525.8,1256.4 L1526.3,1256.6 L1526.8,1256.7 L1527.3,1256.8 L1527.7,1256.7 L1528.2,1256.6 L1528.7,1256.5 L1529.2,1256.3 L1529.7,1256.1 L1530.2,1255.8 L1530.7,1255.5 L1531.2,1255.2 L1531.6,1254.8 L1532.1,1254.5 L1532.6,1254.1 L1533.1,1253.8 L1533.6,1253.5 L1534.1,1253.1 L1534.6,1252.8 L1535.1,1252.6 L1535.5,1252.3 L1536.0,1252.1 L1536.5,1251.9 L1537.0,1251.8 L1537.5,1251.7 L1538.0,1251.6 L1538.5,1251.6 L1538.9,1251.6 L1539.4,1251.6 L1539.9,1251.7 L1540.4,1251.8 L1540.9,1252.0 L1541.4,1252.2 L1541.9,1252.4 L1542.4,1252.7 L1542.8,1253.0 L1543.3,1253.4 L1543.8,1253.8 L1544.3,1254.2 L1544.8,1254.7 L1545.3,1255.2 L1545.8,1255.7 L1546.3,1256.3 L1546.7,1256.8 L1547.2,1257.5 L1547.7,1258.1 L1548.2,1258.8 L1548.7,1259.5 L1549.2,1260.3 L1549.7,1261.1 L1550.2,1261.9 L1550.6,1262.7 L1551.1,1263.6 L1551.6,1264.5 L1552.1,1265.4 L1552.6,1266.3 L1553.1,1267.3 L1553.6,1268.2 L1554.0,1269.2 L1554.5,1270.2 L1555.0,1271.2 L1555.5,1272.1 L1556.0,1273.1 L1556.5,1274.1 L1557.0,1275.0 L1557.5,1276.0 L1557.9,1277.0 L1558.4,1277.9 L1558.9,1278.8 L1559.4,1279.7 L1559.9,1280.6 L1560.4,1281.4 L1560.9,1282.3 L1561.4,1283.1 L1561.8,1283.9 L1562.3,1284.6 L1562.8,1285.4 L1563.3,1286.1 L1563.8,1286.8 L1564.3,1287.4 L1564.8,1288.1 L1565.3,1288.7 L1565.7,1289.2 L1566.2,1289.8 L1566.7,1290.3 L1567.2,1290.8 L1567.7,1291.3 L1568.2,1291.7 L1568.7,1292.1 L1569.1,1292.5 L1569.6,1292.9 L1570.1,1293.2 L1570.6,1293.5 L1571.1,1293.8 L1571.6,1294.0 L1572.1,1294.2 L1572.6,1294.4 L1573.0,1294.5 L1573.5,1294.6 L1574.0,1294.7 L1574.5,1294.7 L1575.0,1294.7 L1575.5,1294.7 L1576.0,1294.6 L1576.5,1294.4 L1576.9,1294.2 L1577.4,1293.9 L1577.9,1293.6 L1578.4,1293.3 L1578.9,1292.8 L1579.4,1292.3 L1579.9,1291.8 L1580.4,1291.1 L1580.8,1290.4 L1581.3,1289.5 L1581.8,1288.6 L1582.3,1287.6 L1582.8,1286.4 L1583.3,1285.2 L1583.8,1283.8 L1584.2,1282.2 L1584.7,1280.6 L1585.2,1278.8 L1585.7,1276.8 L1586.2,1274.7 L1586.7,1272.4 L1587.2,1269.9 L1587.7,1267.3 L1588.1,1264.5 L1588.6,1261.7 L1589.1,1258.7 L1589.6,1255.7 L1590.1,1252.6 L1590.6,1249.6 L1591.1,1246.8 L1591.6,1244.1 L1592.0,1241.8 L1592.5,1239.8 L1593.0,1238.3 L1593.5,1237.4 L1594.0,1237.0 L1594.5,1237.3 L1595.0,1238.1 L1595.5,1239.5 L1595.9,1241.4 L1596.4,1243.8 L1596.9,1246.4 L1597.4,1249.4 L1597.9,1252.5 L1598.4,1255.7 L1598.9,1259.0 L1599.3,1262.2 L1599.8,1265.3 L1600.3,1268.3 L1600.8,1271.2 L1601.3,1273.9 L1601.8,1276.5 L1602.3,1278.9 L1602.8,1281.2 L1603.2,1283.3 L1603.7,1285.2 L1604.2,1287.0 L1604.7,1288.7 L1605.2,1290.3 L1605.7,1291.7 L1606.2,1293.0 L1606.7,1294.2 L1607.1,1295.3 L1607.6,1296.3 L1608.1,1297.3 L1608.6,1298.1 L1609.1,1298.9 L1609.6,1299.7 L1610.1,1300.3 L1610.6,1300.9 L1611.0,1301.5 L1611.5,1302.0 L1612.0,1302.4 L1612.5,1302.8 L1613.0,1303.2 L1613.5,1303.5 L1614.0,1303.8 L1614.4,1304.1 L1614.9,1304.3 L1615.4,1304.5 L1615.9,1304.7 L1616.4,1304.8 L1616.9,1304.9 L1617.4,1305.0 L1617.9,1305.1 L1618.3,1305.1 L1618.8,1305.1 L1619.3,1305.2 L1619.8,1305.2 L1620.3,1305.1 L1620.8,1305.1 L1621.3,1305.1 L1621.8,1305.0 L1622.2,1304.9 L1622.7,1304.9 L1623.2,1304.8 L1623.7,1304.7 L1624.2,1304.6 L1624.7,1304.5 L1625.2,1304.3 L1625.7,1304.2 L1626.1,1304.1 L1626.6,1304.0 L1627.1,1303.8 L1627.6,1303.7 L1628.1,1303.5 L1628.6,1303.4 L1629.1,1303.2 L1629.5,1303.0 L1630.0,1302.8 L1630.5,1302.6 L1631.0,1302.4 L1631.5,1302.2 L1632.0,1302.0 L1632.5,1301.7 L1633.0,1301.4 L1633.4,1301.1 L1633.9,1300.8 L1634.4,1300.5 L1634.9,1300.1 L1635.4,1299.7 L1635.9,1299.3 L1636.4,1298.8 L1636.9,1298.3 L1637.3,1297.7 L1637.8,1297.1 L1638.3,1296.5 L1638.8,1295.8 L1639.3,1295.0 L1639.8,1294.2 L1640.3,1293.4 L1640.7,1292.4 L1641.2,1291.4 L1641.7,1290.3 L1642.2,1289.1 L1642.7,1287.8 L1643.2,1286.4 L1643.7,1284.9 L1644.2,1283.3 L1644.6,1281.5 L1645.1,1279.6 L1645.6,1277.6 L1646.1,1275.4 L1646.6,1273.1 L1647.1,1270.6 L1647.6,1267.9 L1648.1,1265.1 L1648.5,1262.0 L1649.0,1258.8 L1649.5,1255.5 L1650.0,1252.0 L1650.5,1248.4 L1651.0,1244.8 L1651.5,1241.1 L1652.0,1237.5 L1652.4,1233.9 L1652.9,1230.6 L1653.4,1227.6 L1653.9,1225.0 L1654.4,1222.9 L1654.9,1221.3 L1655.4,1220.3 L1655.8,1219.9 L1656.3,1220.1 L1656.8,1220.9 L1657.3,1222.1 L1657.8,1223.9 L1658.3,1225.9 L1658.8,1228.2 L1659.3,1230.7 L1659.7,1233.2 L1660.2,1235.8 L1660.7,1238.3 L1661.2,1240.7 L1661.7,1243.0 L1662.2,1245.2 L1662.7,1247.2 L1663.2,1249.0 L1663.6,1250.7 L1664.1,1252.2 L1664.6,1253.6 L1665.1,1254.8 L1665.6,1255.9 L1666.1,1256.8 L1666.6,1257.6 L1667.1,1258.4 L1667.5,1258.9 L1668.0,1259.4 L1668.5,1259.8 L1669.0,1260.1 L1669.5,1260.4 L1670.0,1260.5 L1670.5,1260.6 L1670.9,1260.5 L1671.4,1260.4 L1671.9,1260.3 L1672.4,1260.0 L1672.9,1259.6 L1673.4,1259.2 L1673.9,1258.7 L1674.4,1258.0 L1674.8,1257.3 L1675.3,1256.5 L1675.8,1255.5 L1676.3,1254.5 L1676.8,1253.4 L1677.3,1252.1 L1677.8,1250.9 L1678.3,1249.5 L1678.7,1248.2 L1679.2,1246.8 L1679.7,1245.6 L1680.2,1244.4 L1680.7,1243.4 L1681.2,1242.5 L1681.7,1242.0 L1682.2,1241.7 L1682.6,1241.7 L1683.1,1242.1 L1683.6,1242.8 L1684.1,1243.7 L1684.6,1245.0 L1685.1,1246.4 L1685.6,1248.0 L1686.0,1249.7 L1686.5,1251.5 L1687.0,1253.3 L1687.5,1255.0 L1688.0,1256.7 L1688.5,1258.3 L1689.0,1259.7 L1689.5,1261.1 L1689.9,1262.2 L1690.4,1263.3 L1690.9,1264.2 L1691.4,1264.9 L1691.9,1265.5 L1692.4,1265.9 L1692.9,1266.1 L1693.4,1266.2 L1693.8,1266.1 L1694.3,1265.9 L1694.8,1265.5 L1695.3,1264.9 L1695.8,1264.2 L1696.3,1263.3 L1696.8,1262.2 L1697.3,1260.9 L1697.7,1259.5 L1698.2,1257.8 L1698.7,1255.9 L1699.2,1253.8 L1699.7,1251.5 L1700.2,1248.9 L1700.7,1246.1 L1701.1,1242.9 L1701.6,1239.5 L1702.1,1235.7 L1702.6,1231.6 L1703.1,1227.2 L1703.6,1222.4 L1704.1,1217.1 L1704.6,1211.5 L1705.0,1205.4 L1705.5,1199.0 L1706.0,1192.1 L1706.5,1184.8 L1707.0,1177.2 L1707.5,1169.3 L1708.0,1161.2 L1708.5,1153.0 L1708.9,1144.8 L1709.4,1136.9 L1709.9,1129.4 L1710.4,1122.5 L1710.9,1116.5 L1711.4,1111.6 L1711.9,1108.0 L1712.4,1105.9 L1712.8,1105.2 L1713.3,1106.2 L1713.8,1108.6 L1714.3,1112.4 L1714.8,1117.4 L1715.3,1123.4 L1715.8,1130.2 L1716.2,1137.6 L1716.7,1145.3 L1717.2,1153.1 L1717.7,1160.9 L1718.2,1168.5 L1718.7,1175.9 L1719.2,1182.9 L1719.7,1189.6 L1720.1,1195.8 L1720.6,1201.7 L1721.1,1207.1 L1721.6,1212.0 L1722.1,1216.5 L1722.6,1220.6 L1723.1,1224.4 L1723.6,1227.7 L1724.0,1230.7 L1724.5,1233.3 L1725.0,1235.6 L1725.5,1237.6 L1726.0,1239.3 L1726.5,1240.7 L1727.0,1241.8 L1727.4,1242.7 L1727.9,1243.2 L1728.4,1243.5 L1728.9,1243.6 L1729.4,1243.4 L1729.9,1242.9 L1730.4,1242.2 L1730.9,1241.2 L1731.3,1239.9 L1731.8,1238.3 L1732.3,1236.5 L1732.8,1234.4 L1733.3,1232.0 L1733.8,1229.3 L1734.3,1226.4 L1734.8,1223.2 L1735.2,1219.8 L1735.7,1216.1 L1736.2,1212.3 L1736.7,1208.3 L1737.2,1204.4 L1737.7,1200.4 L1738.2,1196.7 L1738.7,1193.2 L1739.1,1190.1 L1739.6,1187.6 L1740.1,1185.6 L1740.6,1184.5 L1741.1,1184.1 L1741.6,1184.5 L1742.1,1185.8 L1742.5,1187.8 L1743.0,1190.5 L1743.5,1193.8 L1744.0,1197.6 L1744.5,1201.6 L1745.0,1205.9 L1745.5,1210.3 L1746.0,1214.7 L1746.4,1219.0 L1746.9,1223.1 L1747.4,1227.1 L1747.9,1230.9 L1748.4,1234.5 L1748.9,1237.8 L1749.4,1240.9 L1749.9,1243.7 L1750.3,1246.3 L1750.8,1248.6 L1751.3,1250.8 L1751.8,1252.7 L1752.3,1254.5 L1752.8,1256.0 L1753.3,1257.4 L1753.8,1258.6 L1754.2,1259.7 L1754.7,1260.6 L1755.2,1261.4 L1755.7,1262.1 L1756.2,1262.6 L1756.7,1263.1 L1757.2,1263.4 L1757.6,1263.6 L1758.1,1263.7 L1758.6,1263.7 L1759.1,1263.6 L1759.6,1263.4 L1760.1,1263.2 L1760.6,1262.8 L1761.1,1262.3 L1761.5,1261.7 L1762.0,1261.0 L1762.5,1260.2 L1763.0,1259.3 L1763.5,1258.3 L1764.0,1257.1 L1764.5,1255.7 L1765.0,1254.3 L1765.4,1252.6 L1765.9,1250.8 L1766.4,1248.8 L1766.9,1246.6 L1767.4,1244.1 L1767.9,1241.4 L1768.4,1238.5 L1768.9,1235.2 L1769.3,1231.7 L1769.8,1227.9 L1770.3,1223.7 L1770.8,1219.1 L1771.3,1214.2 L1771.8,1208.8 L1772.3,1203.0 L1772.7,1196.8 L1773.2,1190.1 L1773.7,1183.1 L1774.2,1175.6 L1774.7,1167.7 L1775.2,1159.5 L1775.7,1151.1 L1776.2,1142.5 L1776.6,1134.0 L1777.1,1125.7 L1777.6,1117.8 L1778.1,1110.6 L1778.6,1104.3 L1779.1,1099.1 L1779.6,1095.3 L1780.1,1093.0 L1780.5,1092.4 L1781.0,1093.4 L1781.5,1096.1 L1782.0,1100.3 L1782.5,1105.8 L1783.0,1112.5 L1783.5,1120.0 L1784.0,1128.1 L1784.4,1136.7 L1784.9,1145.5 L1785.4,1154.2 L1785.9,1162.9 L1786.4,1171.3 L1786.9,1179.4 L1787.4,1187.1 L1787.8,1194.4 L1788.3,1201.3 L1788.8,1207.7 L1789.3,1213.7 L1789.8,1219.3 L1790.3,1224.5 L1790.8,1229.3 L1791.3,1233.7 L1791.7,1237.8 L1792.2,1241.5 L1792.7,1245.0 L1793.2,1248.2 L1793.7,1251.1 L1794.2,1253.8 L1794.7,1256.3 L1795.2,1258.6 L1795.6,1260.6 L1796.1,1262.5 L1796.6,1264.3 L1797.1,1265.9 L1797.6,1267.3 L1798.1,1268.6 L1798.6,1269.8 L1799.1,1270.9 L1799.5,1271.9 L1800.0,1272.7 L1800.5,1273.5 L1801.0,1274.2 L1801.5,1274.8 L1802.0,1275.4 L1802.5,1275.8 L1802.9,1276.2 L1803.4,1276.6 L1803.9,1276.8 L1804.4,1277.0 L1804.9,1277.2 L1805.4,1277.3 L1805.9,1277.4 L1806.4,1277.4 L1806.8,1277.4 L1807.3,1277.3 L1807.8,1277.2 L1808.3,1277.0 L1808.8,1276.8 L1809.3,1276.5 L1809.8,1276.2 L1810.3,1275.8 L1810.7,1275.4 L1811.2,1274.9 L1811.7,1274.4 L1812.2,1273.8 L1812.7,1273.1 L1813.2,1272.4 L1813.7,1271.6 L1814.2,1270.7 L1814.6,1269.7 L1815.1,1268.6 L1815.6,1267.4 L1816.1,1266.1 L1816.6,1264.6 L1817.1,1263.1 L1817.6,1261.4 L1818.0,1259.5 L1818.5,1257.5 L1819.0,1255.3 L1819.5,1252.9 L1820.0,1250.3 L1820.5,1247.5 L1821.0,1244.4 L1821.5,1241.1 L1821.9,1237.5 L1822.4,1233.5 L1822.9,1229.3 L1823.4,1224.7 L1823.9,1219.6 L1824.4,1214.2 L1824.9,1208.4 L1825.4,1202.0 L1825.8,1195.2 L1826.3,1187.9 L1826.8,1180.1 L1827.3,1171.8 L1827.8,1162.9 L1828.3,1153.6 L1828.8,1143.8 L1829.2,1133.7 L1829.7,1123.4 L1830.2,1113.0 L1830.7,1102.6 L1831.2,1092.6 L1831.7,1083.1 L1832.2,1074.6 L1832.7,1067.1 L1833.1,1061.1 L1833.6,1056.8 L1834.1,1054.3 L1834.6,1053.8 L1835.1,1055.3 L1835.6,1058.8 L1836.1,1064.0 L1836.6,1070.8 L1837.0,1078.8 L1837.5,1087.9 L1838.0,1097.6 L1838.5,1107.7 L1839.0,1118.1 L1839.5,1128.4 L1840.0,1138.5 L1840.5,1148.4 L1840.9,1157.8 L1841.4,1166.8 L1841.9,1175.3 L1842.4,1183.2 L1842.9,1190.7 L1843.4,1197.6 L1843.9,1204.1 L1844.3,1210.1 L1844.8,1215.6 L1845.3,1220.7 L1845.8,1225.4 L1846.3,1229.7 L1846.8,1233.7 L1847.3,1237.4 L1847.8,1240.8 L1848.2,1243.9 L1848.7,1246.7 L1849.2,1249.4 L1849.7,1251.8 L1850.2,1254.0 L1850.7,1256.0 L1851.2,1257.9 L1851.7,1259.7 L1852.1,1261.2 L1852.6,1262.7 L1853.1,1264.1 L1853.6,1265.3 L1854.1,1266.5 L1854.6,1267.5 L1855.1,1268.5 L1855.6,1269.4 L1856.0,1270.3 L1856.5,1271.1 L1857.0,1271.8 L1857.5,1272.5 L1858.0,1273.1 L1858.5,1273.7 L1859.0,1274.3 L1859.4,1274.8 L1859.9,1275.3 L1860.4,1275.8 L1860.9,1276.2 L1861.4,1276.6 L1861.9,1277.0 L1862.4,1277.4 L1862.9,1277.7 L1863.3,1277.9 L1863.8,1278.2 L1864.3,1278.4 L1864.8,1278.5 L1865.3,1278.7 L1865.8,1278.7 L1866.3,1278.7 L1866.8,1278.7 L1867.2,1278.6 L1867.7,1278.4 L1868.2,1278.2 L1868.7,1277.9 L1869.2,1277.5 L1869.7,1277.1 L1870.2,1276.5 L1870.7,1275.9 L1871.1,1275.2 L1871.6,1274.3 L1872.1,1273.3 L1872.6,1272.3 L1873.1,1271.0 L1873.6,1269.6 L1874.1,1268.1 L1874.5,1266.4 L1875.0,1264.5 L1875.5,1262.5 L1876.0,1260.2 L1876.5,1257.7 L1877.0,1255.0 L1877.5,1252.1 L1878.0,1248.9 L1878.4,1245.4 L1878.9,1241.7 L1879.4,1237.7 L1879.9,1233.5 L1880.4,1229.1 L1880.9,1224.4 L1881.4,1219.6 L1881.9,1214.8 L1882.3,1209.9 L1882.8,1205.1 L1883.3,1200.6 L1883.8,1196.4 L1884.3,1192.6 L1884.8,1189.5 L1885.3,1187.1 L1885.8,1185.6 L1886.2,1185.0 L1886.7,1185.3 L1887.2,1186.5 L1887.7,1188.6 L1888.2,1191.5 L1888.7,1194.9 L1889.2,1198.9 L1889.6,1203.3 L1890.1,1207.9 L1890.6,1212.6 L1891.1,1217.3 L1891.6,1222.0 L1892.1,1226.5 L1892.6,1230.8 L1893.1,1234.9 L1893.5,1238.8 L1894.0,1242.4 L1894.5,1245.7 L1895.0,1248.8 L1895.5,1251.6 L1896.0,1254.2 L1896.5,1256.5 L1897.0,1258.6 L1897.4,1260.6 L1897.9,1262.3 L1898.4,1263.8 L1898.9,1265.2 L1899.4,1266.4 L1899.9,1267.4 L1900.4,1268.4 L1900.9,1269.1 L1901.3,1269.8 L1901.8,1270.3 L1902.3,1270.7 L1902.8,1271.0 L1903.3,1271.2 L1903.8,1271.3 L1904.3,1271.3 L1904.7,1271.2 L1905.2,1271.0 L1905.7,1270.6 L1906.2,1270.2 L1906.7,1269.7 L1907.2,1269.0 L1907.7,1268.3 L1908.2,1267.4 L1908.6,1266.3 L1909.1,1265.2 L1909.6,1263.8 L1910.1,1262.3 L1910.6,1260.7 L1911.1,1258.8 L1911.6,1256.7 L1912.1,1254.5 L1912.5,1252.0 L1913.0,1249.2 L1913.5,1246.2 L1914.0,1242.9 L1914.5,1239.4 L1915.0,1235.6 L1915.5,1231.6 L1915.9,1227.3 L1916.4,1222.8 L1916.9,1218.2 L1917.4,1213.5 L1917.9,1208.7 L1918.4,1204.1 L1918.9,1199.6 L1919.4,1195.5 L1919.8,1191.9 L1920.3,1188.9 L1920.8,1186.6 L1921.3,1185.3 L1921.8,1184.9 L1922.3,1185.5 L1922.8,1187.1 L1923.3,1189.6 L1923.7,1192.9 L1924.2,1197.0 L1924.7,1201.6 L1925.2,1206.6 L1925.7,1212.0 L1926.2,1217.4 L1926.7,1222.9 L1927.2,1228.4 L1927.6,1233.7 L1928.1,1238.9 L1928.6,1243.8 L1929.1,1248.5 L1929.6,1253.0 L1930.1,1257.1 L1930.6,1261.1 L1931.0,1264.7 L1931.5,1268.2 L1932.0,1271.4 L1932.5,1274.3 L1933.0,1277.1 L1933.5,1279.7 L1934.0,1282.1 L1934.5,1284.3 L1934.9,1286.4 L1935.4,1288.3 L1935.9,1290.1 L1936.4,1291.7 L1936.9,1293.3 L1937.4,1294.8 L1937.9,1296.1 L1938.4,1297.4 L1938.8,1298.6 L1939.3,1299.7 L1939.8,1300.7 L1940.3,1301.7 L1940.8,1302.6 L1941.3,1303.4 L1941.8,1304.2 L1942.3,1304.9 L1942.7,1305.6 L1943.2,1306.3 L1943.7,1306.9 L1944.2,1307.5 L1944.7,1308.0 L1945.2,1308.5 L1945.7,1309.0 L1946.1,1309.4 L1946.6,1309.9 L1947.1,1310.3 L1947.6,1310.6 L1948.1,1311.0 L1948.6,1311.3 L1949.1,1311.6 L1949.6,1311.9 L1950.0,1312.2 L1950.5,1312.4 L1951.0,1312.7 L1951.5,1312.9 L1952.0,1313.1 L1952.5,1313.3 L1953.0,1313.5 L1953.5,1313.7 L1953.9,1313.9 L1954.4,1314.1 L1954.9,1314.2 L1955.4,1314.4 L1955.9,1314.5 L1956.4,1314.7 L1956.9,1314.9 L1957.4,1315.0 L1957.8,1315.2 L1958.3,1315.3 L1958.8,1315.5 L1959.3,1315.6 L1959.8,1315.7 L1960.3,1315.9 L1960.8,1316.0 L1961.2,1316.2 L1961.7,1316.3 L1962.2,1316.5 L1962.7,1316.6 L1963.2,1316.8 L1963.7,1316.9 L1964.2,1317.0 L1964.7,1317.2 L1965.1,1317.3 L1965.6,1317.4 L1966.1,1317.6 L1966.6,1317.7 L1967.1,1317.8 L1967.6,1317.9 L1968.1,1318.0 L1968.6,1318.1 L1969.0,1318.2 L1969.5,1318.3 L1970.0,1318.4 L1970.5,1318.5 L1971.0,1318.5 L1971.5,1318.6 L1972.0,1318.7 L1972.5,1318.7 L1972.9,1318.8 L1973.4,1318.8 L1973.9,1318.8 L1974.4,1318.9 L1974.9,1318.9 L1975.4,1318.9 L1975.9,1318.9 L1976.3,1318.9 L1976.8,1318.9 L1977.3,1318.9 L1977.8,1318.9 L1978.3,1318.9 L1978.8,1318.9 L1979.3,1318.9 L1979.8,1318.8 L1980.2,1318.8 L1980.7,1318.8 L1981.2,1318.7 L1981.7,1318.7 L1982.2,1318.7 L1982.7,1318.6 L1983.2,1318.6 L1983.7,1318.5 L1984.1,1318.5 L1984.6,1318.4 L1985.1,1318.4 L1985.6,1318.4 L1986.1,1318.3 L1986.6,1318.3 L1987.1,1318.2 L1987.6,1318.2 L1988.0,1318.2 L1988.5,1318.1 L1989.0,1318.1 L1989.5,1318.1 L1990.0,1318.0 L1990.5,1318.0 L1991.0,1318.0 L1991.4,1317.9 L1991.9,1317.9 L1992.4,1317.9 L1992.9,1317.8 L1993.4,1317.8 L1993.9,1317.7 L1994.4,1317.7 L1994.9,1317.7 L1995.3,1317.6 L1995.8,1317.5 L1996.3,1317.5 L1996.8,1317.4 L1997.3,1317.3 L1997.8,1317.2 L1998.3,1317.2 L1998.8,1317.1 L1999.2,1317.0 L1999.7,1316.8 L2000.2,1316.7 L2000.7,1316.6 L2001.2,1316.4 L2001.7,1316.3 L2002.2,1316.1 L2002.6,1316.0 L2003.1,1315.8 L2003.6,1315.6 L2004.1,1315.4 L2004.6,1315.2 L2005.1,1314.9 L2005.6,1314.7 L2006.1,1314.4 L2006.5,1314.2 L2007.0,1313.9 L2007.5,1313.6 L2008.0,1313.3 L2008.5,1313.0 L2009.0,1312.6 L2009.5,1312.3 L2010.0,1311.9 L2010.4,1311.5 L2010.9,1311.1 L2011.4,1310.7 L2011.9,1310.3 L2012.4,1309.8 L2012.9,1309.3 L2013.4,1308.9 L2013.9,1308.4 L2014.3,1307.8 L2014.8,1307.3 L2015.3,1306.8 L2015.8,1306.2 L2016.3,1305.6 L2016.8,1305.0 L2017.3,1304.4 L2017.7,1303.8 L2018.2,1303.1 L2018.7,1302.5 L2019.2,1301.8 L2019.7,1301.1 L2020.2,1300.4 L2020.7,1299.7 L2021.2,1299.0 L2021.6,1298.3 L2022.1,1297.6 L2022.6,1296.9 L2023.1,1296.2 L2023.6,1295.5 L2024.1,1294.8 L2024.6,1294.2 L2025.1,1293.5 L2025.5,1292.9 L2026.0,1292.2 L2026.5,1291.6 L2027.0,1291.1 L2027.5,1290.5 L2028.0,1290.0 L2028.5,1289.5 L2029.0,1289.1 L2029.4,1288.6 L2029.9,1288.3 L2030.4,1287.9 L2030.9,1287.6 L2031.4,1287.4 L2031.9,1287.1 L2032.4,1286.9 L2032.8,1286.8 L2033.3,1286.7 L2033.8,1286.6 L2034.3,1286.6 L2034.8,1286.5 L2035.3,1286.6 L2035.8,1286.6 L2036.3,1286.7 L2036.7,1286.7 L2037.2,1286.9 L2037.7,1287.0 L2038.2,1287.1 L2038.7,1287.3 L2039.2,1287.5 L2039.7,1287.7 L2040.2,1287.9 L2040.6,1288.2 L2041.1,1288.4 L2041.6,1288.7 L2042.1,1289.0 L2042.6,1289.4 L2043.1,1289.7 L2043.6,1290.1 L2044.1,1290.5 L2044.5,1290.9 L2045.0,1291.3 L2045.5,1291.8 L2046.0,1292.2" stroke="#3ce6dc" stroke-width="4.3"/>
<path d="M293.0,1333.4 L293.5,1333.4 L294.0,1333.4 L294.5,1333.4 L294.9,1333.4 L295.4,1333.4 L295.9,1333.4 L296.4,1333.4 L296.9,1333.4 L297.4,1333.4 L297.9,1333.4 L298.4,1333.4 L298.8,1333.4 L299.3,1333.4 L299.8,1333.3 L300.3,1333.3 L300.8,1333.3 L301.3,1333.3 L301.8,1333.3 L302.3,1333.3 L302.7,1333.3 L303.2,1333.3 L303.7,1333.3 L304.2,1333.3 L304.7,1333.3 L305.2,1333.3 L305.7,1333.3 L306.2,1333.3 L306.6,1333.2 L307.1,1333.2 L307.6,1333.2 L308.1,1333.2 L308.6,1333.2 L309.1,1333.2 L309.6,1333.2 L310.0,1333.2 L310.5,1333.2 L311.0,1333.2 L311.5,1333.2 L312.0,1333.2 L312.5,1333.2 L313.0,1333.1 L313.5,1333.1 L313.9,1333.1 L314.4,1333.1 L314.9,1333.1 L315.4,1333.1 L315.9,1333.1 L316.4,1333.1 L316.9,1333.1 L317.4,1333.1 L317.8,1333.1 L318.3,1333.1 L318.8,1333.0 L319.3,1333.0 L319.8,1333.0 L320.3,1333.0 L320.8,1333.0 L321.3,1333.0 L321.7,1333.0 L322.2,1333.0 L322.7,1333.0 L323.2,1333.0 L323.7,1333.0 L324.2,1332.9 L324.7,1332.9 L325.1,1332.9 L325.6,1332.9 L326.1,1332.9 L326.6,1332.9 L327.1,1332.9 L327.6,1332.9 L328.1,1332.9 L328.6,1332.9 L329.0,1332.8 L329.5,1332.8 L330.0,1332.8 L330.5,1332.8 L331.0,1332.8 L331.5,1332.8 L332.0,1332.8 L332.5,1332.8 L332.9,1332.8 L333.4,1332.8 L333.9,1332.7 L334.4,1332.7 L334.9,1332.7 L335.4,1332.7 L335.9,1332.7 L336.4,1332.7 L336.8,1332.7 L337.3,1332.7 L337.8,1332.7 L338.3,1332.6 L338.8,1332.6 L339.3,1332.6 L339.8,1332.6 L340.2,1332.6 L340.7,1332.6 L341.2,1332.6 L341.7,1332.6 L342.2,1332.5 L342.7,1332.5 L343.2,1332.5 L343.7,1332.5 L344.1,1332.5 L344.6,1332.5 L345.1,1332.5 L345.6,1332.5 L346.1,1332.4 L346.6,1332.4 L347.1,1332.4 L347.6,1332.4 L348.0,1332.4 L348.5,1332.4 L349.0,1332.4 L349.5,1332.3 L350.0,1332.3 L350.5,1332.3 L351.0,1332.3 L351.4,1332.3 L351.9,1332.3 L352.4,1332.3 L352.9,1332.2 L353.4,1332.2 L353.9,1332.2 L354.4,1332.2 L354.9,1332.2 L355.3,1332.2 L355.8,1332.1 L356.3,1332.1 L356.8,1332.1 L357.3,1332.1 L357.8,1332.1 L358.3,1332.1 L358.8,1332.1 L359.2,1332.0 L359.7,1332.0 L360.2,1332.0 L360.7,1332.0 L361.2,1332.0 L361.7,1331.9 L362.2,1331.9 L362.7,1331.9 L363.1,1331.9 L363.6,1331.9 L364.1,1331.9 L364.6,1331.8 L365.1,1331.8 L365.6,1331.8 L366.1,1331.8 L366.5,1331.8 L367.0,1331.7 L367.5,1331.7 L368.0,1331.7 L368.5,1331.7 L369.0,1331.7 L369.5,1331.6 L370.0,1331.6 L370.4,1331.6 L370.9,1331.6 L371.4,1331.6 L371.9,1331.5 L372.4,1331.5 L372.9,1331.5 L373.4,1331.5 L373.9,1331.4 L374.3,1331.4 L374.8,1331.4 L375.3,1331.4 L375.8,1331.4 L376.3,1331.3 L376.8,1331.3 L377.3,1331.3 L377.8,1331.3 L378.2,1331.2 L378.7,1331.2 L379.2,1331.2 L379.7,1331.2 L380.2,1331.1 L380.7,1331.1 L381.2,1331.1 L381.6,1331.0 L382.1,1331.0 L382.6,1331.0 L383.1,1331.0 L383.6,1330.9 L384.1,1330.9 L384.6,1330.9 L385.1,1330.8 L385.5,1330.8 L386.0,1330.8 L386.5,1330.8 L387.0,1330.7 L387.5,1330.7 L388.0,1330.7 L388.5,1330.6 L389.0,1330.6 L389.4,1330.6 L389.9,1330.5 L390.4,1330.5 L390.9,1330.5 L391.4,1330.4 L391.9,1330.4 L392.4,1330.3 L392.9,1330.3 L393.3,1330.3 L393.8,1330.2 L394.3,1330.2 L394.8,1330.2 L395.3,1330.1 L395.8,1330.1 L396.3,1330.0 L396.7,1330.0 L397.2,1330.0 L397.7,1329.9 L398.2,1329.9 L398.7,1329.8 L399.2,1329.8 L399.7,1329.7 L400.2,1329.7 L400.6,1329.6 L401.1,1329.6 L401.6,1329.5 L402.1,1329.5 L402.6,1329.4 L403.1,1329.4 L403.6,1329.3 L404.1,1329.3 L404.5,1329.2 L405.0,1329.2 L405.5,1329.1 L406.0,1329.1 L406.5,1329.0 L407.0,1329.0 L407.5,1328.9 L408.0,1328.8 L408.4,1328.8 L408.9,1328.7 L409.4,1328.7 L409.9,1328.6 L410.4,1328.5 L410.9,1328.5 L411.4,1328.4 L411.8,1328.3 L412.3,1328.3 L412.8,1328.2 L413.3,1328.1 L413.8,1328.0 L414.3,1328.0 L414.8,1327.9 L415.3,1327.8 L415.7,1327.7 L416.2,1327.6 L416.7,1327.6 L417.2,1327.5 L417.7,1327.4 L418.2,1327.3 L418.7,1327.2 L419.2,1327.1 L419.6,1327.0 L420.1,1326.9 L420.6,1326.8 L421.1,1326.7 L421.6,1326.6 L422.1,1326.5 L422.6,1326.4 L423.1,1326.3 L423.5,1326.2 L424.0,1326.1 L424.5,1326.0 L425.0,1325.8 L425.5,1325.7 L426.0,1325.6 L426.5,1325.5 L426.9,1325.3 L427.4,1325.2 L427.9,1325.1 L428.4,1324.9 L428.9,1324.8 L429.4,1324.6 L429.9,1324.5 L430.4,1324.3 L430.8,1324.1 L431.3,1324.0 L431.8,1323.8 L432.3,1323.6 L432.8,1323.4 L433.3,1323.2 L433.8,1323.1 L434.3,1322.9 L434.7,1322.7 L435.2,1322.4 L435.7,1322.2 L436.2,1322.0 L436.7,1321.8 L437.2,1321.5 L437.7,1321.3 L438.1,1321.0 L438.6,1320.8 L439.1,1320.5 L439.6,1320.2 L440.1,1319.9 L440.6,1319.7 L441.1,1319.3 L441.6,1319.0 L442.0,1318.7 L442.5,1318.4 L443.0,1318.0 L443.5,1317.6 L444.0,1317.3 L444.5,1316.9 L445.0,1316.5 L445.5,1316.0 L445.9,1315.6 L446.4,1315.1 L446.9,1314.7 L447.4,1314.2 L447.9,1313.6 L448.4,1313.1 L448.9,1312.5 L449.4,1312.0 L449.8,1311.3 L450.3,1310.7 L450.8,1310.0 L451.3,1309.3 L451.8,1308.6 L452.3,1307.8 L452.8,1307.0 L453.2,1306.2 L453.7,1305.3 L454.2,1304.4 L454.7,1303.4 L455.2,1302.4 L455.7,1301.3 L456.2,1300.1 L456.7,1298.9 L457.1,1297.7 L457.6,1296.3 L458.1,1294.9 L458.6,1293.4 L459.1,1291.8 L459.6,1290.1 L460.1,1288.3 L460.6,1286.4 L461.0,1284.4 L461.5,1282.3 L462.0,1280.0 L462.5,1277.5 L463.0,1274.9 L463.5,1272.1 L464.0,1269.1 L464.5,1265.9 L464.9,1262.5 L465.4,1258.8 L465.9,1254.8 L466.4,1250.6 L466.9,1246.0 L467.4,1241.1 L467.9,1235.9 L468.3,1230.2 L468.8,1224.1 L469.3,1217.5 L469.8,1210.4 L470.3,1202.8 L470.8,1194.7 L471.3,1186.0 L471.8,1176.7 L472.2,1166.8 L472.7,1156.4 L473.2,1145.4 L473.7,1134.0 L474.2,1122.1 L474.7,1110.0 L475.2,1097.8 L475.7,1085.7 L476.1,1074.1 L476.6,1063.1 L477.1,1053.1 L477.6,1044.5 L478.1,1037.5 L478.6,1032.5 L479.1,1029.7 L479.6,1029.2 L480.0,1031.0 L480.5,1035.1 L481.0,1041.2 L481.5,1049.1 L482.0,1058.5 L482.5,1069.0 L483.0,1080.3 L483.4,1092.2 L483.9,1104.2 L484.4,1116.3 L484.9,1128.1 L485.4,1139.6 L485.9,1150.7 L486.4,1161.2 L486.9,1171.2 L487.3,1180.6 L487.8,1189.4 L488.3,1197.7 L488.8,1205.3 L489.3,1212.5 L489.8,1219.1 L490.3,1225.3 L490.8,1231.0 L491.2,1236.3 L491.7,1241.3 L492.2,1245.8 L492.7,1250.1 L493.2,1254.0 L493.7,1257.7 L494.2,1261.1 L494.7,1264.2 L495.1,1267.2 L495.6,1269.9 L496.1,1272.5 L496.6,1274.8 L497.1,1277.0 L497.6,1279.1 L498.1,1281.1 L498.5,1282.9 L499.0,1284.6 L499.5,1286.1 L500.0,1287.6 L500.5,1289.0 L501.0,1290.3 L501.5,1291.5 L502.0,1292.7 L502.4,1293.8 L502.9,1294.8 L503.4,1295.7 L503.9,1296.6 L504.4,1297.4 L504.9,1298.2 L505.4,1299.0 L505.9,1299.6 L506.3,1300.3 L506.8,1300.9 L507.3,1301.5 L507.8,1302.0 L508.3,1302.5 L508.8,1303.0 L509.3,1303.4 L509.8,1303.8 L510.2,1304.2 L510.7,1304.5 L511.2,1304.8 L511.7,1305.1 L512.2,1305.4 L512.7,1305.6 L513.2,1305.9 L513.6,1306.1 L514.1,1306.2 L514.6,1306.4 L515.1,1306.5 L515.6,1306.7 L516.1,1306.8 L516.6,1306.9 L517.1,1306.9 L517.5,1307.0 L518.0,1307.0 L518.5,1307.0 L519.0,1307.0 L519.5,1307.0 L520.0,1307.0 L520.5,1306.9 L521.0,1306.9 L521.4,1306.8 L521.9,1306.7 L522.4,1306.6 L522.9,1306.5 L523.4,1306.3 L523.9,1306.1 L524.4,1306.0 L524.8,1305.8 L525.3,1305.6 L525.8,1305.3 L526.3,1305.1 L526.8,1304.8 L527.3,1304.5 L527.8,1304.2 L528.3,1303.9 L528.7,1303.5 L529.2,1303.2 L529.7,1302.8 L530.2,1302.4 L530.7,1302.0 L531.2,1301.5 L531.7,1301.0 L532.2,1300.5 L532.6,1300.0 L533.1,1299.5 L533.6,1298.9 L534.1,1298.3 L534.6,1297.6 L535.1,1297.0 L535.6,1296.3 L536.1,1295.5 L536.5,1294.7 L537.0,1293.9 L537.5,1293.1 L538.0,1292.2 L538.5,1291.3 L539.0,1290.3 L539.5,1289.2 L539.9,1288.2 L540.4,1287.0 L540.9,1285.8 L541.4,1284.6 L541.9,1283.2 L542.4,1281.8 L542.9,1280.4 L543.4,1278.8 L543.8,1277.2 L544.3,1275.5 L544.8,1273.7 L545.3,1271.8 L545.8,1269.8 L546.3,1267.7 L546.8,1265.4 L547.3,1263.1 L547.7,1260.6 L548.2,1257.9 L548.7,1255.1 L549.2,1252.1 L549.7,1248.9 L550.2,1245.5 L550.7,1241.9 L551.2,1238.1 L551.6,1234.0 L552.1,1229.7 L552.6,1225.1 L553.1,1220.1 L553.6,1214.8 L554.1,1209.1 L554.6,1203.0 L555.0,1196.5 L555.5,1189.5 L556.0,1182.0 L556.5,1173.9 L557.0,1165.3 L557.5,1155.9 L558.0,1145.9 L558.5,1135.0 L558.9,1123.4 L559.4,1110.8 L559.9,1097.3 L560.4,1082.8 L560.9,1067.2 L561.4,1050.5 L561.9,1032.7 L562.4,1013.6 L562.8,993.5 L563.3,972.2 L563.8,949.8 L564.3,926.6 L564.8,902.7 L565.3,878.5 L565.8,854.2 L566.3,830.4 L566.7,807.7 L567.2,786.6 L567.7,767.9 L568.2,752.1 L568.7,740.0 L569.2,732.1 L569.7,728.6 L570.1,729.8 L570.6,735.6 L571.1,745.8 L571.6,759.8 L572.1,777.1 L572.6,797.2 L573.1,819.2 L573.6,842.5 L574.0,866.6 L574.5,890.9 L575.0,915.0 L575.5,938.5 L576.0,961.3 L576.5,983.1 L577.0,1003.8 L577.5,1023.4 L577.9,1041.8 L578.4,1059.0 L578.9,1075.2 L579.4,1090.2 L579.9,1104.1 L580.4,1117.1 L580.9,1129.2 L581.4,1140.4 L581.8,1150.8 L582.3,1160.5 L582.8,1169.5 L583.3,1177.9 L583.8,1185.6 L584.3,1192.9 L584.8,1199.6 L585.2,1205.9 L585.7,1211.8 L586.2,1217.2 L586.7,1222.3 L587.2,1227.1 L587.7,1231.6 L588.2,1235.8 L588.7,1239.7 L589.1,1243.4 L589.6,1246.9 L590.1,1250.2 L590.6,1253.3 L591.1,1256.2 L591.6,1258.9 L592.1,1261.5 L592.6,1263.9 L593.0,1266.2 L593.5,1268.4 L594.0,1270.5 L594.5,1272.4 L595.0,1274.3 L595.5,1276.0 L596.0,1277.7 L596.5,1279.3 L596.9,1280.8 L597.4,1282.2 L597.9,1283.6 L598.4,1284.9 L598.9,1286.1 L599.4,1287.3 L599.9,1288.4 L600.3,1289.5 L600.8,1290.5 L601.3,1291.5 L601.8,1292.4 L602.3,1293.3 L602.8,1294.2 L603.3,1295.0 L603.8,1295.8 L604.2,1296.5 L604.7,1297.2 L605.2,1297.9 L605.7,1298.6 L606.2,1299.2 L606.7,1299.8 L607.2,1300.4 L607.7,1300.9 L608.1,1301.5 L608.6,1302.0 L609.1,1302.5 L609.6,1302.9 L610.1,1303.4 L610.6,1303.8 L611.1,1304.2 L611.6,1304.6 L612.0,1305.0 L612.5,1305.4 L613.0,1305.7 L613.5,1306.1 L614.0,1306.4 L614.5,1306.7 L615.0,1307.0 L615.4,1307.3 L615.9,1307.5 L616.4,1307.8 L616.9,1308.0 L617.4,1308.3 L617.9,1308.5 L618.4,1308.7 L618.9,1308.9 L619.3,1309.1 L619.8,1309.3 L620.3,1309.5 L620.8,1309.7 L621.3,1309.8 L621.8,1310.0 L622.3,1310.1 L622.8,1310.3 L623.2,1310.4 L623.7,1310.5 L624.2,1310.6 L624.7,1310.8 L625.2,1310.9 L625.7,1311.0 L626.2,1311.0 L626.6,1311.1 L627.1,1311.2 L627.6,1311.3 L628.1,1311.3 L628.6,1311.4 L629.1,1311.4 L629.6,1311.5 L630.1,1311.5 L630.5,1311.6 L631.0,1311.6 L631.5,1311.6 L632.0,1311.6 L632.5,1311.6 L633.0,1311.7 L633.5,1311.7 L634.0,1311.6 L634.4,1311.6 L634.9,1311.6 L635.4,1311.6 L635.9,1311.6 L636.4,1311.6 L636.9,1311.5 L637.4,1311.5 L637.9,1311.4 L638.3,1311.4 L638.8,1311.3 L639.3,1311.3 L639.8,1311.2 L640.3,1311.1 L640.8,1311.1 L641.3,1311.0 L641.7,1310.9 L642.2,1310.8 L642.7,1310.7 L643.2,1310.6 L643.7,1310.5 L644.2,1310.4 L644.7,1310.2 L645.2,1310.1 L645.6,1310.0 L646.1,1309.9 L646.6,1309.7 L647.1,1309.6 L647.6,1309.4 L648.1,1309.3 L648.6,1309.1 L649.1,1308.9 L649.5,1308.7 L650.0,1308.6 L650.5,1308.4 L651.0,1308.2 L651.5,1308.0 L652.0,1307.7 L652.5,1307.5 L653.0,1307.3 L653.4,1307.1 L653.9,1306.8 L654.4,1306.6 L654.9,1306.3 L655.4,1306.0 L655.9,1305.8 L656.4,1305.5 L656.8,1305.2 L657.3,1304.9 L657.8,1304.6 L658.3,1304.2 L658.8,1303.9 L659.3,1303.6 L659.8,1303.2 L660.3,1302.8 L660.7,1302.5 L661.2,1302.1 L661.7,1301.7 L662.2,1301.3 L662.7,1300.8 L663.2,1300.4 L663.7,1299.9 L664.2,1299.5 L664.6,1299.0 L665.1,1298.5 L665.6,1297.9 L666.1,1297.4 L666.6,1296.8 L667.1,1296.3 L667.6,1295.7 L668.1,1295.1 L668.5,1294.4 L669.0,1293.8 L669.5,1293.1 L670.0,1292.4 L670.5,1291.6 L671.0,1290.9 L671.5,1290.1 L671.9,1289.3 L672.4,1288.4 L672.9,1287.5 L673.4,1286.6 L673.9,1285.7 L674.4,1284.7 L674.9,1283.6 L675.4,1282.5 L675.8,1281.4 L676.3,1280.2 L676.8,1279.0 L677.3,1277.7 L677.8,1276.3 L678.3,1274.9 L678.8,1273.4 L679.3,1271.8 L679.7,1270.1 L680.2,1268.4 L680.7,1266.5 L681.2,1264.5 L681.7,1262.4 L682.2,1260.2 L682.7,1257.8 L683.2,1255.3 L683.6,1252.7 L684.1,1249.8 L684.6,1246.8 L685.1,1243.5 L685.6,1240.1 L686.1,1236.5 L686.6,1232.7 L687.0,1228.7 L687.5,1224.7 L688.0,1220.6 L688.5,1216.6 L689.0,1212.8 L689.5,1209.2 L690.0,1206.0 L690.5,1203.4 L690.9,1201.4 L691.4,1199.9 L691.9,1199.1 L692.4,1198.8 L692.9,1198.9 L693.4,1199.2 L693.9,1199.8 L694.4,1200.4 L694.8,1201.0 L695.3,1201.4 L695.8,1201.7 L696.3,1201.9 L696.8,1201.9 L697.3,1201.6 L697.8,1201.2 L698.3,1200.5 L698.7,1199.7 L699.2,1198.6 L699.7,1197.4 L700.2,1196.0 L700.7,1194.4 L701.2,1192.6 L701.7,1190.6 L702.1,1188.4 L702.6,1186.0 L703.1,1183.4 L703.6,1180.6 L704.1,1177.5 L704.6,1174.2 L705.1,1170.6 L705.6,1166.7 L706.0,1162.5 L706.5,1157.9 L707.0,1153.0 L707.5,1147.7 L708.0,1141.9 L708.5,1135.6 L709.0,1128.8 L709.5,1121.4 L709.9,1113.4 L710.4,1104.6 L710.9,1095.0 L711.4,1084.5 L711.9,1073.0 L712.4,1060.3 L712.9,1046.4 L713.3,1031.1 L713.8,1014.2 L714.3,995.7 L714.8,975.3 L715.3,953.0 L715.8,928.7 L716.3,902.6 L716.8,874.7 L717.2,845.7 L717.7,816.3 L718.2,787.5 L718.7,760.8 L719.2,737.8 L719.7,720.0 L720.2,708.7 L720.7,704.6 L721.1,707.5 L721.6,716.6 L722.1,730.4 L722.6,747.4 L723.1,765.9 L723.6,784.6 L724.1,802.5 L724.6,818.9 L725.0,833.2 L725.5,845.2 L726.0,854.9 L726.5,862.1 L727.0,867.0 L727.5,869.4 L728.0,869.6 L728.4,867.5 L728.9,863.2 L729.4,857.1 L729.9,849.3 L730.4,840.3 L730.9,830.7 L731.4,821.6 L731.9,813.8 L732.3,808.7 L732.8,807.3 L733.3,810.5 L733.8,818.6 L734.3,831.6 L734.8,848.6 L735.3,868.7 L735.8,890.8 L736.2,913.7 L736.7,936.6 L737.2,958.8 L737.7,979.9 L738.2,999.6 L738.7,1018.0 L739.2,1034.8 L739.7,1050.3 L740.1,1064.5 L740.6,1077.5 L741.1,1089.4 L741.6,1100.3 L742.1,1110.2 L742.6,1119.4 L743.1,1127.9 L743.5,1135.7 L744.0,1142.9 L744.5,1149.5 L745.0,1155.7 L745.5,1161.4 L746.0,1166.8 L746.5,1171.7 L747.0,1176.3 L747.4,1180.6 L747.9,1184.6 L748.4,1188.3 L748.9,1191.7 L749.4,1194.9 L749.9,1197.9 L750.4,1200.7 L750.9,1203.2 L751.3,1205.5 L751.8,1207.7 L752.3,1209.6 L752.8,1211.4 L753.3,1212.9 L753.8,1214.3 L754.3,1215.5 L754.8,1216.6 L755.2,1217.4 L755.7,1218.1 L756.2,1218.6 L756.7,1218.9 L757.2,1219.0 L757.7,1218.9 L758.2,1218.6 L758.6,1218.2 L759.1,1217.5 L759.6,1216.6 L760.1,1215.4 L760.6,1214.1 L761.1,1212.5 L761.6,1210.8 L762.1,1208.8 L762.5,1206.7 L763.0,1204.4 L763.5,1201.9 L764.0,1199.4 L764.5,1196.9 L765.0,1194.4 L765.5,1192.0 L766.0,1189.8 L766.4,1188.0 L766.9,1186.5 L767.4,1185.4 L767.9,1184.9 L768.4,1184.9 L768.9,1185.5 L769.4,1186.6 L769.9,1188.2 L770.3,1190.2 L770.8,1192.5 L771.3,1195.1 L771.8,1197.8 L772.3,1200.6 L772.8,1203.4 L773.3,1206.1 L773.7,1208.7 L774.2,1211.1 L774.7,1213.4 L775.2,1215.5 L775.7,1217.3 L776.2,1218.9 L776.7,1220.2 L777.2,1221.4 L777.6,1222.2 L778.1,1222.9 L778.6,1223.3 L779.1,1223.4 L779.6,1223.4 L780.1,1223.1 L780.6,1222.5 L781.1,1221.7 L781.5,1220.7 L782.0,1219.4 L782.5,1217.9 L783.0,1216.1 L783.5,1214.0 L784.0,1211.7 L784.5,1209.1 L785.0,1206.1 L785.4,1202.9 L785.9,1199.3 L786.4,1195.3 L786.9,1190.9 L787.4,1186.1 L787.9,1180.9 L788.4,1175.1 L788.8,1168.9 L789.3,1162.1 L789.8,1154.7 L790.3,1146.7 L790.8,1138.0 L791.3,1128.6 L791.8,1118.4 L792.3,1107.5 L792.7,1095.7 L793.2,1083.0 L793.7,1069.5 L794.2,1055.2 L794.7,1040.1 L795.2,1024.2 L795.7,1007.8 L796.2,990.9 L796.6,973.8 L797.1,956.8 L797.6,940.3 L798.1,924.6 L798.6,910.3 L799.1,897.7 L799.6,887.5 L800.1,879.9 L800.5,875.4 L801.0,874.1 L801.5,876.2 L802.0,881.4 L802.5,889.6 L803.0,900.5 L803.5,913.6 L803.9,928.4 L804.4,944.4 L804.9,961.2 L805.4,978.5 L805.9,995.7 L806.4,1012.7 L806.9,1029.3 L807.4,1045.2 L807.8,1060.4 L808.3,1074.8 L808.8,1088.4 L809.3,1101.1 L809.8,1113.0 L810.3,1124.0 L810.8,1134.3 L811.3,1143.9 L811.7,1152.7 L812.2,1160.9 L812.7,1168.5 L813.2,1175.5 L813.7,1182.0 L814.2,1188.0 L814.7,1193.6 L815.1,1198.7 L815.6,1203.5 L816.1,1207.9 L816.6,1211.9 L817.1,1215.7 L817.6,1219.1 L818.1,1222.3 L818.6,1225.3 L819.0,1228.0 L819.5,1230.5 L820.0,1232.8 L820.5,1235.0 L821.0,1236.9 L821.5,1238.7 L822.0,1240.4 L822.5,1241.9 L822.9,1243.2 L823.4,1244.5 L823.9,1245.6 L824.4,1246.6 L824.9,1247.5 L825.4,1248.3 L825.9,1249.0 L826.4,1249.6 L826.8,1250.2 L827.3,1250.6 L827.8,1250.9 L828.3,1251.2 L828.8,1251.4 L829.3,1251.5 L829.8,1251.6 L830.2,1251.5 L830.7,1251.4 L831.2,1251.2 L831.7,1251.0 L832.2,1250.6 L832.7,1250.2 L833.2,1249.7 L833.7,1249.1 L834.1,1248.4 L834.6,1247.6 L835.1,1246.7 L835.6,1245.7 L836.1,1244.7 L836.6,1243.4 L837.1,1242.1 L837.6,1240.6 L838.0,1239.0 L838.5,1237.2 L839.0,1235.3 L839.5,1233.1 L840.0,1230.8 L840.5,1228.3 L841.0,1225.6 L841.5,1222.6 L841.9,1219.3 L842.4,1215.8 L842.9,1212.1 L843.4,1208.0 L843.9,1203.6 L844.4,1198.9 L844.9,1193.8 L845.3,1188.5 L845.8,1182.8 L846.3,1176.9 L846.8,1170.7 L847.3,1164.3 L847.8,1157.8 L848.3,1151.3 L848.8,1144.9 L849.2,1138.7 L849.7,1132.9 L850.2,1127.6 L850.7,1123.1 L851.2,1119.4 L851.7,1116.8 L852.2,1115.1 L852.7,1114.6 L853.1,1115.1 L853.6,1116.6 L854.1,1119.0 L854.6,1122.2 L855.1,1125.9 L855.6,1130.0 L856.1,1134.3 L856.6,1138.7 L857.0,1143.2 L857.5,1147.4 L858.0,1151.5 L858.5,1155.3 L859.0,1158.8 L859.5,1162.0 L860.0,1164.7 L860.4,1167.2 L860.9,1169.2 L861.4,1170.9 L861.9,1172.2 L862.4,1173.1 L862.9,1173.7 L863.4,1174.0 L863.9,1173.9 L864.3,1173.5 L864.8,1172.7 L865.3,1171.7 L865.8,1170.3 L866.3,1168.5 L866.8,1166.5 L867.3,1164.1 L867.8,1161.3 L868.2,1158.2 L868.7,1154.7 L869.2,1150.8 L869.7,1146.5 L870.2,1141.8 L870.7,1136.6 L871.2,1131.0 L871.7,1124.8 L872.1,1118.1 L872.6,1110.8 L873.1,1102.9 L873.6,1094.4 L874.1,1085.1 L874.6,1075.0 L875.1,1064.1 L875.5,1052.2 L876.0,1039.5 L876.5,1025.6 L877.0,1010.6 L877.5,994.4 L878.0,976.9 L878.5,958.0 L879.0,937.5 L879.4,915.5 L879.9,891.7 L880.4,866.1 L880.9,838.7 L881.4,809.3 L881.9,778.0 L882.4,744.8 L882.9,709.7 L883.3,672.9 L883.8,634.7 L884.3,595.5 L884.8,555.7 L885.3,516.0 L885.8,477.3 L886.3,440.4 L886.8,406.4 L887.2,376.4 L887.7,351.6 L888.2,332.8 L888.7,321.0 L889.2,316.5 L889.7,319.8 L890.2,330.5 L890.6,348.1 L891.1,372.0 L891.6,401.1 L892.1,434.4 L892.6,470.7 L893.1,508.9 L893.6,548.2 L894.1,587.7 L894.5,626.6 L895.0,664.6 L895.5,701.1 L896.0,736.0 L896.5,769.0 L897.0,800.1 L897.5,829.2 L898.0,856.3 L898.4,881.5 L898.9,904.9 L899.4,926.5 L899.9,946.4 L900.4,964.7 L900.9,981.6 L901.4,997.0 L901.8,1011.2 L902.3,1024.1 L902.8,1035.9 L903.3,1046.6 L903.8,1056.4 L904.3,1065.1 L904.8,1072.9 L905.3,1079.9 L905.7,1086.1 L906.2,1091.4 L906.7,1096.0 L907.2,1099.9 L907.7,1103.0 L908.2,1105.4 L908.7,1107.1 L909.2,1108.1 L909.6,1108.4 L910.1,1108.0 L910.6,1106.9 L911.1,1105.1 L911.6,1102.5 L912.1,1099.3 L912.6,1095.3 L913.1,1090.7 L913.5,1085.4 L914.0,1079.4 L914.5,1072.9 L915.0,1065.9 L915.5,1058.5 L916.0,1051.0 L916.5,1043.4 L916.9,1036.1 L917.4,1029.2 L917.9,1023.1 L918.4,1018.1 L918.9,1014.4 L919.4,1012.2 L919.9,1011.9 L920.4,1013.4 L920.8,1016.8 L921.3,1022.1 L921.8,1029.0 L922.3,1037.3 L922.8,1046.9 L923.3,1057.3 L923.8,1068.3 L924.3,1079.7 L924.7,1091.2 L925.2,1102.7 L925.7,1113.9 L926.2,1124.8 L926.7,1135.3 L927.2,1145.3 L927.7,1154.8 L928.2,1163.7 L928.6,1172.2 L929.1,1180.1 L929.6,1187.5 L930.1,1194.4 L930.6,1200.9 L931.1,1207.0 L931.6,1212.6 L932.0,1217.9 L932.5,1222.8 L933.0,1227.4 L933.5,1231.7 L934.0,1235.8 L934.5,1239.6 L935.0,1243.1 L935.5,1246.4 L935.9,1249.5 L936.4,1252.5 L936.9,1255.2 L937.4,1257.8 L937.9,1260.3 L938.4,1262.6 L938.9,1264.8 L939.4,1266.8 L939.8,1268.8 L940.3,1270.7 L940.8,1272.4 L941.3,1274.1 L941.8,1275.6 L942.3,1277.1 L942.8,1278.6 L943.3,1279.9 L943.7,1281.2 L944.2,1282.5 L944.7,1283.6 L945.2,1284.7 L945.7,1285.8 L946.2,1286.8 L946.7,1287.8 L947.1,1288.7 L947.6,1289.6 L948.1,1290.5 L948.6,1291.3 L949.1,1292.0 L949.6,1292.8 L950.1,1293.5 L950.6,1294.1 L951.0,1294.8 L951.5,1295.4 L952.0,1296.0 L952.5,1296.5 L953.0,1297.1 L953.5,1297.6 L954.0,1298.1 L954.5,1298.5 L954.9,1298.9 L955.4,1299.4 L955.9,1299.7 L956.4,1300.1 L956.9,1300.4 L957.4,1300.8 L957.9,1301.1 L958.4,1301.3 L958.8,1301.6 L959.3,1301.8 L959.8,1302.0 L960.3,1302.2 L960.8,1302.4 L961.3,1302.5 L961.8,1302.6 L962.2,1302.7 L962.7,1302.8 L963.2,1302.8 L963.7,1302.8 L964.2,1302.8 L964.7,1302.7 L965.2,1302.6 L965.7,1302.5 L966.1,1302.3 L966.6,1302.1 L967.1,1301.9 L967.6,1301.6 L968.1,1301.2 L968.6,1300.8 L969.1,1300.4 L969.6,1299.9 L970.0,1299.3 L970.5,1298.7 L971.0,1298.0 L971.5,1297.2 L972.0,1296.4 L972.5,1295.5 L973.0,1294.5 L973.5,1293.4 L973.9,1292.2 L974.4,1291.0 L974.9,1289.7 L975.4,1288.4 L975.9,1287.0 L976.4,1285.6 L976.9,1284.2 L977.3,1282.9 L977.8,1281.6 L978.3,1280.5 L978.8,1279.5 L979.3,1278.8 L979.8,1278.3 L980.3,1278.1 L980.8,1278.2 L981.2,1278.5 L981.7,1279.2 L982.2,1280.1 L982.7,1281.2 L983.2,1282.5 L983.7,1284.0 L984.2,1285.5 L984.7,1287.1 L985.1,1288.7 L985.6,1290.3 L986.1,1291.9 L986.6,1293.4 L987.1,1294.9 L987.6,1296.3 L988.1,1297.6 L988.5,1298.9 L989.0,1300.0 L989.5,1301.1 L990.0,1302.1 L990.5,1303.1 L991.0,1303.9 L991.5,1304.8 L992.0,1305.5 L992.4,1306.2 L992.9,1306.9 L993.4,1307.4 L993.9,1308.0 L994.4,1308.5 L994.9,1309.0 L995.4,1309.4 L995.9,1309.8 L996.3,1310.2 L996.8,1310.5 L997.3,1310.8 L997.8,1311.1 L998.3,1311.4 L998.8,1311.6 L999.3,1311.8 L999.8,1312.0 L1000.2,1312.2 L1000.7,1312.4 L1001.2,1312.5 L1001.7,1312.7 L1002.2,1312.8 L1002.7,1312.9 L1003.2,1313.0 L1003.6,1313.1 L1004.1,1313.2 L1004.6,1313.3 L1005.1,1313.4 L1005.6,1313.4 L1006.1,1313.5 L1006.6,1313.5 L1007.1,1313.6 L1007.5,1313.6 L1008.0,1313.7 L1008.5,1313.7 L1009.0,1313.8 L1009.5,1313.8 L1010.0,1313.8 L1010.5,1313.9 L1011.0,1313.9 L1011.4,1313.9 L1011.9,1314.0 L1012.4,1314.0 L1012.9,1314.0 L1013.4,1314.0 L1013.9,1314.1 L1014.4,1314.1 L1014.9,1314.1 L1015.3,1314.1 L1015.8,1314.1 L1016.3,1314.2 L1016.8,1314.2 L1017.3,1314.2 L1017.8,1314.2 L1018.3,1314.2 L1018.7,1314.1 L1019.2,1314.1 L1019.7,1314.1 L1020.2,1314.0 L1020.7,1314.0 L1021.2,1313.9 L1021.7,1313.9 L1022.2,1313.8 L1022.6,1313.7 L1023.1,1313.6 L1023.6,1313.5 L1024.1,1313.4 L1024.6,1313.2 L1025.1,1313.1 L1025.6,1312.9 L1026.1,1312.7 L1026.5,1312.5 L1027.0,1312.3 L1027.5,1312.1 L1028.0,1311.8 L1028.5,1311.6 L1029.0,1311.2 L1029.5,1310.9 L1030.0,1310.6 L1030.4,1310.2 L1030.9,1309.8 L1031.4,1309.4 L1031.9,1308.9 L1032.4,1308.4 L1032.9,1307.9 L1033.4,1307.3 L1033.8,1306.7 L1034.3,1306.0 L1034.8,1305.3 L1035.3,1304.5 L1035.8,1303.7 L1036.3,1302.8 L1036.8,1301.9 L1037.3,1300.9 L1037.7,1299.8 L1038.2,1298.6 L1038.7,1297.3 L1039.2,1296.0 L1039.7,1294.5 L1040.2,1292.9 L1040.7,1291.2 L1041.2,1289.3 L1041.6,1287.4 L1042.1,1285.2 L1042.6,1282.9 L1043.1,1280.4 L1043.6,1277.7 L1044.1,1274.9 L1044.6,1271.8 L1045.1,1268.5 L1045.5,1265.0 L1046.0,1261.2 L1046.5,1257.3 L1047.0,1253.1 L1047.5,1248.8 L1048.0,1244.3 L1048.5,1239.8 L1048.9,1235.3 L1049.4,1230.8 L1049.9,1226.5 L1050.4,1222.5 L1050.9,1218.9 L1051.4,1215.9 L1051.9,1213.5 L1052.4,1211.9 L1052.8,1211.1 L1053.3,1211.2 L1053.8,1212.2 L1054.3,1213.9 L1054.8,1216.4 L1055.3,1219.5 L1055.8,1223.2 L1056.3,1227.2 L1056.7,1231.5 L1057.2,1235.9 L1057.7,1240.4 L1058.2,1244.8 L1058.7,1249.2 L1059.2,1253.4 L1059.7,1257.4 L1060.2,1261.3 L1060.6,1264.9 L1061.1,1268.3 L1061.6,1271.4 L1062.1,1274.4 L1062.6,1277.1 L1063.1,1279.7 L1063.6,1282.0 L1064.0,1284.2 L1064.5,1286.3 L1065.0,1288.1 L1065.5,1289.8 L1066.0,1291.4 L1066.5,1292.9 L1067.0,1294.3 L1067.5,1295.5 L1067.9,1296.7 L1068.4,1297.7 L1068.9,1298.7 L1069.4,1299.6 L1069.9,1300.4 L1070.4,1301.2 L1070.9,1301.9 L1071.4,1302.6 L1071.8,1303.1 L1072.3,1303.7 L1072.8,1304.2 L1073.3,1304.6 L1073.8,1305.0 L1074.3,1305.4 L1074.8,1305.7 L1075.3,1306.0 L1075.7,1306.3 L1076.2,1306.5 L1076.7,1306.7 L1077.2,1306.9 L1077.7,1307.1 L1078.2,1307.2 L1078.7,1307.3 L1079.1,1307.4 L1079.6,1307.4 L1080.1,1307.5 L1080.6,1307.5 L1081.1,1307.5 L1081.6,1307.4 L1082.1,1307.4 L1082.6,1307.3 L1083.0,1307.2 L1083.5,1307.1 L1084.0,1307.0 L1084.5,1306.8 L1085.0,1306.7 L1085.5,1306.5 L1086.0,1306.3 L1086.5,1306.0 L1086.9,1305.8 L1087.4,1305.5 L1087.9,1305.2 L1088.4,1304.9 L1088.9,1304.5 L1089.4,1304.2 L1089.9,1303.8 L1090.3,1303.3 L1090.8,1302.9 L1091.3,1302.4 L1091.8,1301.8 L1092.3,1301.3 L1092.8,1300.7 L1093.3,1300.0 L1093.8,1299.3 L1094.2,1298.6 L1094.7,1297.8 L1095.2,1296.9 L1095.7,1296.0 L1096.2,1295.0 L1096.7,1294.0 L1097.2,1292.9 L1097.7,1291.7 L1098.1,1290.4 L1098.6,1289.0 L1099.1,1287.6 L1099.6,1286.0 L1100.1,1284.3 L1100.6,1282.5 L1101.1,1280.6 L1101.6,1278.5 L1102.0,1276.2 L1102.5,1273.8 L1103.0,1271.3 L1103.5,1268.5 L1104.0,1265.5 L1104.5,1262.4 L1105.0,1259.0 L1105.4,1255.4 L1105.9,1251.5 L1106.4,1247.5 L1106.9,1243.2 L1107.4,1238.8 L1107.9,1234.1 L1108.4,1229.3 L1108.9,1224.5 L1109.3,1219.6 L1109.8,1214.8 L1110.3,1210.2 L1110.8,1205.7 L1111.3,1201.7 L1111.8,1198.0 L1112.3,1194.9 L1112.8,1192.4 L1113.2,1190.5 L1113.7,1189.2 L1114.2,1188.4 L1114.7,1188.1 L1115.2,1188.3 L1115.7,1188.7 L1116.2,1189.4 L1116.7,1190.1 L1117.1,1190.9 L1117.6,1191.7 L1118.1,1192.4 L1118.6,1193.0 L1119.1,1193.4 L1119.6,1193.8 L1120.1,1194.2 L1120.5,1194.6 L1121.0,1195.1 L1121.5,1195.8 L1122.0,1196.7 L1122.5,1197.8 L1123.0,1199.2 L1123.5,1201.0 L1124.0,1203.0 L1124.4,1205.4 L1124.9,1207.9 L1125.4,1210.6 L1125.9,1213.4 L1126.4,1216.3 L1126.9,1219.2 L1127.4,1222.0 L1127.9,1224.7 L1128.3,1227.3 L1128.8,1229.8 L1129.3,1232.1 L1129.8,1234.2 L1130.3,1236.2 L1130.8,1238.0 L1131.3,1239.7 L1131.8,1241.1 L1132.2,1242.5 L1132.7,1243.6 L1133.2,1244.6 L1133.7,1245.5 L1134.2,1246.2 L1134.7,1246.8 L1135.2,1247.3 L1135.6,1247.6 L1136.1,1247.8 L1136.6,1247.8 L1137.1,1247.7 L1137.6,1247.5 L1138.1,1247.2 L1138.6,1246.8 L1139.1,1246.2 L1139.5,1245.6 L1140.0,1245.0 L1140.5,1244.3 L1141.0,1243.6 L1141.5,1242.9 L1142.0,1242.4 L1142.5,1241.9 L1143.0,1241.6 L1143.4,1241.5 L1143.9,1241.6 L1144.4,1242.0 L1144.9,1242.5 L1145.4,1243.3 L1145.9,1244.3 L1146.4,1245.4 L1146.9,1246.6 L1147.3,1247.9 L1147.8,1249.2 L1148.3,1250.4 L1148.8,1251.6 L1149.3,1252.7 L1149.8,1253.7 L1150.3,1254.5 L1150.7,1255.2 L1151.2,1255.7 L1151.7,1256.0 L1152.2,1256.1 L1152.7,1256.0 L1153.2,1255.7 L1153.7,1255.1 L1154.2,1254.4 L1154.6,1253.4 L1155.1,1252.2 L1155.6,1250.7 L1156.1,1249.0 L1156.6,1247.1 L1157.1,1245.0 L1157.6,1242.6 L1158.1,1240.0 L1158.5,1237.3 L1159.0,1234.4 L1159.5,1231.3 L1160.0,1228.3 L1160.5,1225.2 L1161.0,1222.3 L1161.5,1219.5 L1162.0,1217.0 L1162.4,1214.9 L1162.9,1213.2 L1163.4,1212.1 L1163.9,1211.5 L1164.4,1211.6 L1164.9,1212.3 L1165.4,1213.6 L1165.8,1215.3 L1166.3,1217.6 L1166.8,1220.1 L1167.3,1223.0 L1167.8,1225.9 L1168.3,1229.0 L1168.8,1232.1 L1169.3,1235.1 L1169.7,1238.1 L1170.2,1240.9 L1170.7,1243.6 L1171.2,1246.1 L1171.7,1248.4 L1172.2,1250.6 L1172.7,1252.6 L1173.2,1254.4 L1173.6,1256.1 L1174.1,1257.7 L1174.6,1259.1 L1175.1,1260.4 L1175.6,1261.6 L1176.1,1262.7 L1176.6,1263.7 L1177.0,1264.7 L1177.5,1265.5 L1178.0,1266.4 L1178.5,1267.2 L1179.0,1267.9 L1179.5,1268.6 L1180.0,1269.3 L1180.5,1270.0 L1180.9,1270.7 L1181.4,1271.4 L1181.9,1272.1 L1182.4,1272.8 L1182.9,1273.5 L1183.4,1274.2 L1183.9,1274.9 L1184.4,1275.6 L1184.8,1276.3 L1185.3,1277.0 L1185.8,1277.7 L1186.3,1278.5 L1186.8,1279.2 L1187.3,1279.9 L1187.8,1280.7 L1188.3,1281.4 L1188.7,1282.1 L1189.2,1282.9 L1189.7,1283.6 L1190.2,1284.3 L1190.7,1285.0 L1191.2,1285.6 L1191.7,1286.3 L1192.1,1287.0 L1192.6,1287.6 L1193.1,1288.2 L1193.6,1288.8 L1194.1,1289.4 L1194.6,1289.9 L1195.1,1290.5 L1195.6,1291.0 L1196.0,1291.5 L1196.5,1292.0 L1197.0,1292.4 L1197.5,1292.9 L1198.0,1293.3 L1198.5,1293.7 L1199.0,1294.1 L1199.5,1294.4 L1199.9,1294.8 L1200.4,1295.1 L1200.9,1295.4 L1201.4,1295.7 L1201.9,1295.9 L1202.4,1296.2 L1202.9,1296.4 L1203.4,1296.6 L1203.8,1296.8 L1204.3,1297.0 L1204.8,1297.1 L1205.3,1297.2 L1205.8,1297.4 L1206.3,1297.5 L1206.8,1297.5 L1207.2,1297.6 L1207.7,1297.7 L1208.2,1297.7 L1208.7,1297.7 L1209.2,1297.8 L1209.7,1297.8 L1210.2,1297.8 L1210.7,1297.8 L1211.1,1297.7 L1211.6,1297.7 L1212.1,1297.7 L1212.6,1297.7 L1213.1,1297.7 L1213.6,1297.7 L1214.1,1297.7 L1214.6,1297.7 L1215.0,1297.7 L1215.5,1297.7 L1216.0,1297.7 L1216.5,1297.8 L1217.0,1297.8 L1217.5,1297.9 L1218.0,1298.0 L1218.5,1298.1 L1218.9,1298.2 L1219.4,1298.3 L1219.9,1298.4 L1220.4,1298.6 L1220.9,1298.8 L1221.4,1298.9 L1221.9,1299.1 L1222.3,1299.3 L1222.8,1299.5 L1223.3,1299.7 L1223.8,1299.9 L1224.3,1300.1 L1224.8,1300.4 L1225.3,1300.6 L1225.8,1300.8 L1226.2,1301.0 L1226.7,1301.2 L1227.2,1301.4 L1227.7,1301.6 L1228.2,1301.8 L1228.7,1302.0 L1229.2,1302.2 L1229.7,1302.3 L1230.1,1302.5 L1230.6,1302.6 L1231.1,1302.7 L1231.6,1302.8 L1232.1,1302.9 L1232.6,1303.0 L1233.1,1303.1 L1233.6,1303.1 L1234.0,1303.1 L1234.5,1303.2 L1235.0,1303.2 L1235.5,1303.2 L1236.0,1303.1 L1236.5,1303.1 L1237.0,1303.0 L1237.4,1302.9 L1237.9,1302.8 L1238.4,1302.7 L1238.9,1302.6 L1239.4,1302.5 L1239.9,1302.3 L1240.4,1302.1 L1240.9,1301.9 L1241.3,1301.7 L1241.8,1301.5 L1242.3,1301.2 L1242.8,1300.9 L1243.3,1300.6 L1243.8,1300.3 L1244.3,1299.9 L1244.8,1299.6 L1245.2,1299.2 L1245.7,1298.7 L1246.2,1298.2 L1246.7,1297.7 L1247.2,1297.2 L1247.7,1296.6 L1248.2,1295.9 L1248.7,1295.3 L1249.1,1294.5 L1249.6,1293.7 L1250.1,1292.9 L1250.6,1291.9 L1251.1,1290.9 L1251.6,1289.8 L1252.1,1288.7 L1252.5,1287.4 L1253.0,1286.1 L1253.5,1284.6 L1254.0,1283.0 L1254.5,1281.3 L1255.0,1279.5 L1255.5,1277.6 L1256.0,1275.6 L1256.4,1273.4 L1256.9,1271.1 L1257.4,1268.7 L1257.9,1266.2 L1258.4,1263.6 L1258.9,1261.0 L1259.4,1258.3 L1259.9,1255.6 L1260.3,1253.1 L1260.8,1250.6 L1261.3,1248.3 L1261.8,1246.2 L1262.3,1244.3 L1262.8,1242.7 L1263.3,1241.4 L1263.7,1240.3 L1264.2,1239.5 L1264.7,1238.9 L1265.2,1238.5 L1265.7,1238.1 L1266.2,1237.8 L1266.7,1237.4 L1267.2,1237.0 L1267.6,1236.4 L1268.1,1235.6 L1268.6,1234.7 L1269.1,1233.5 L1269.6,1232.0 L1270.1,1230.3 L1270.6,1228.3 L1271.1,1226.1 L1271.5,1223.7 L1272.0,1221.1 L1272.5,1218.4 L1273.0,1215.6 L1273.5,1212.8 L1274.0,1210.2 L1274.5,1207.7 L1275.0,1205.5 L1275.4,1203.7 L1275.9,1202.4 L1276.4,1201.6 L1276.9,1201.3 L1277.4,1201.6 L1277.9,1202.4 L1278.4,1203.6 L1278.8,1205.3 L1279.3,1207.2 L1279.8,1209.4 L1280.3,1211.7 L1280.8,1214.1 L1281.3,1216.4 L1281.8,1218.6 L1282.3,1220.7 L1282.7,1222.7 L1283.2,1224.4 L1283.7,1225.9 L1284.2,1227.2 L1284.7,1228.2 L1285.2,1229.0 L1285.7,1229.5 L1286.2,1229.8 L1286.6,1229.8 L1287.1,1229.6 L1287.6,1229.1 L1288.1,1228.3 L1288.6,1227.3 L1289.1,1226.1 L1289.6,1224.6 L1290.1,1222.9 L1290.5,1221.1 L1291.0,1219.0 L1291.5,1216.9 L1292.0,1214.7 L1292.5,1212.5 L1293.0,1210.4 L1293.5,1208.5 L1293.9,1206.8 L1294.4,1205.5 L1294.9,1204.7 L1295.4,1204.4 L1295.9,1204.7 L1296.4,1205.6 L1296.9,1207.2 L1297.4,1209.3 L1297.8,1211.9 L1298.3,1215.1 L1298.8,1218.5 L1299.3,1222.3 L1299.8,1226.2 L1300.3,1230.2 L1300.8,1234.2 L1301.3,1238.2 L1301.7,1242.0 L1302.2,1245.8 L1302.7,1249.4 L1303.2,1252.8 L1303.7,1256.0 L1304.2,1259.0 L1304.7,1261.8 L1305.2,1264.5 L1305.6,1266.9 L1306.1,1269.2 L1306.6,1271.3 L1307.1,1273.3 L1307.6,1275.1 L1308.1,1276.8 L1308.6,1278.4 L1309.0,1279.8 L1309.5,1281.1 L1310.0,1282.3 L1310.5,1283.4 L1311.0,1284.5 L1311.5,1285.4 L1312.0,1286.3 L1312.5,1287.0 L1312.9,1287.7 L1313.4,1288.4 L1313.9,1288.9 L1314.4,1289.5 L1314.9,1289.9 L1315.4,1290.3 L1315.9,1290.7 L1316.4,1290.9 L1316.8,1291.2 L1317.3,1291.4 L1317.8,1291.6 L1318.3,1291.7 L1318.8,1291.8 L1319.3,1291.8 L1319.8,1291.8 L1320.3,1291.8 L1320.7,1291.7 L1321.2,1291.6 L1321.7,1291.5 L1322.2,1291.3 L1322.7,1291.2 L1323.2,1291.0 L1323.7,1290.7 L1324.1,1290.5 L1324.6,1290.2 L1325.1,1289.9 L1325.6,1289.6 L1326.1,1289.3 L1326.6,1288.9 L1327.1,1288.5 L1327.6,1288.1 L1328.0,1287.7 L1328.5,1287.3 L1329.0,1286.9 L1329.5,1286.4 L1330.0,1285.9 L1330.5,1285.4 L1331.0,1284.9 L1331.5,1284.4 L1331.9,1283.8 L1332.4,1283.2 L1332.9,1282.6 L1333.4,1281.9 L1333.9,1281.2 L1334.4,1280.4 L1334.9,1279.6 L1335.4,1278.7 L1335.8,1277.7 L1336.3,1276.7 L1336.8,1275.6 L1337.3,1274.4 L1337.8,1273.1 L1338.3,1271.6 L1338.8,1270.1 L1339.2,1268.3 L1339.7,1266.5 L1340.2,1264.5 L1340.7,1262.2 L1341.2,1259.8 L1341.7,1257.2 L1342.2,1254.4 L1342.7,1251.4 L1343.1,1248.1 L1343.6,1244.5 L1344.1,1240.8 L1344.6,1236.8 L1345.1,1232.6 L1345.6,1228.2 L1346.1,1223.6 L1346.6,1219.0 L1347.0,1214.4 L1347.5,1209.9 L1348.0,1205.6 L1348.5,1201.5 L1349.0,1198.0 L1349.5,1195.1 L1350.0,1192.8 L1350.5,1191.4 L1350.9,1190.9 L1351.4,1191.3 L1351.9,1192.5 L1352.4,1194.7 L1352.9,1197.6 L1353.4,1201.1 L1353.9,1205.2 L1354.3,1209.6 L1354.8,1214.3 L1355.3,1219.1 L1355.8,1223.9 L1356.3,1228.7 L1356.8,1233.4 L1357.3,1237.9 L1357.8,1242.2 L1358.2,1246.3 L1358.7,1250.1 L1359.2,1253.7 L1359.7,1257.0 L1360.2,1260.2 L1360.7,1263.1 L1361.2,1265.7 L1361.7,1268.2 L1362.1,1270.5 L1362.6,1272.6 L1363.1,1274.5 L1363.6,1276.3 L1364.1,1277.9 L1364.6,1279.4 L1365.1,1280.8 L1365.5,1282.1 L1366.0,1283.2 L1366.5,1284.3 L1367.0,1285.2 L1367.5,1286.1 L1368.0,1286.9 L1368.5,1287.6 L1369.0,1288.2 L1369.4,1288.8 L1369.9,1289.3 L1370.4,1289.8 L1370.9,1290.2 L1371.4,1290.6 L1371.9,1290.9 L1372.4,1291.1 L1372.9,1291.3 L1373.3,1291.5 L1373.8,1291.6 L1374.3,1291.7 L1374.8,1291.8 L1375.3,1291.8 L1375.8,1291.8 L1376.3,1291.7 L1376.8,1291.6 L1377.2,1291.5 L1377.7,1291.4 L1378.2,1291.2 L1378.7,1291.0 L1379.2,1290.8 L1379.7,1290.5 L1380.2,1290.2 L1380.6,1289.9 L1381.1,1289.6 L1381.6,1289.2 L1382.1,1288.8 L1382.6,1288.4 L1383.1,1288.0 L1383.6,1287.5 L1384.1,1287.1 L1384.5,1286.6 L1385.0,1286.1 L1385.5,1285.5 L1386.0,1285.0 L1386.5,1284.5 L1387.0,1283.9 L1387.5,1283.3 L1388.0,1282.7 L1388.4,1282.1 L1388.9,1281.5 L1389.4,1280.8 L1389.9,1280.2 L1390.4,1279.5 L1390.9,1278.8 L1391.4,1278.1 L1391.9,1277.4 L1392.3,1276.7 L1392.8,1275.9 L1393.3,1275.2 L1393.8,1274.4 L1394.3,1273.5 L1394.8,1272.6 L1395.3,1271.7 L1395.7,1270.8 L1396.2,1269.8 L1396.7,1268.8 L1397.2,1267.7 L1397.7,1266.5 L1398.2,1265.3 L1398.7,1263.9 L1399.2,1262.6 L1399.6,1261.1 L1400.1,1259.5 L1400.6,1257.8 L1401.1,1256.0 L1401.6,1254.1 L1402.1,1252.1 L1402.6,1249.9 L1403.1,1247.6 L1403.5,1245.0 L1404.0,1242.4 L1404.5,1239.5 L1405.0,1236.4 L1405.5,1233.1 L1406.0,1229.5 L1406.5,1225.7 L1407.0,1221.6 L1407.4,1217.2 L1407.9,1212.5 L1408.4,1207.5 L1408.9,1202.2 L1409.4,1196.6 L1409.9,1190.6 L1410.4,1184.2 L1410.8,1177.6 L1411.3,1170.7 L1411.8,1163.6 L1412.3,1156.3 L1412.8,1149.0 L1413.3,1141.7 L1413.8,1134.6 L1414.3,1127.8 L1414.7,1121.5 L1415.2,1115.9 L1415.7,1111.1 L1416.2,1107.2 L1416.7,1104.4 L1417.2,1102.7 L1417.7,1102.0 L1418.2,1102.3 L1418.6,1103.6 L1419.1,1105.6 L1419.6,1108.3 L1420.1,1111.4 L1420.6,1114.7 L1421.1,1118.2 L1421.6,1121.7 L1422.1,1125.1 L1422.5,1128.3 L1423.0,1131.3 L1423.5,1133.9 L1424.0,1136.2 L1424.5,1138.0 L1425.0,1139.5 L1425.5,1140.7 L1425.9,1141.3 L1426.4,1141.6 L1426.9,1141.5 L1427.4,1141.0 L1427.9,1140.0 L1428.4,1138.6 L1428.9,1136.8 L1429.4,1134.5 L1429.8,1131.7 L1430.3,1128.5 L1430.8,1124.7 L1431.3,1120.5 L1431.8,1115.6 L1432.3,1110.2 L1432.8,1104.2 L1433.3,1097.5 L1433.7,1090.2 L1434.2,1082.3 L1434.7,1073.7 L1435.2,1064.4 L1435.7,1054.6 L1436.2,1044.1 L1436.7,1033.3 L1437.2,1022.1 L1437.6,1010.7 L1438.1,999.3 L1438.6,988.2 L1439.1,977.6 L1439.6,967.8 L1440.1,959.1 L1440.6,951.7 L1441.0,945.8 L1441.5,941.6 L1442.0,939.1 L1442.5,938.2 L1443.0,938.8 L1443.5,940.6 L1444.0,943.4 L1444.5,946.9 L1444.9,950.6 L1445.4,954.4 L1445.9,957.9 L1446.4,960.9 L1446.9,963.2 L1447.4,964.6 L1447.9,965.1 L1448.4,964.5 L1448.8,963.0 L1449.3,960.5 L1449.8,957.2 L1450.3,953.2 L1450.8,948.7 L1451.3,944.1 L1451.8,939.5 L1452.2,935.5 L1452.7,932.2 L1453.2,930.2 L1453.7,929.7 L1454.2,930.9 L1454.7,934.0 L1455.2,939.2 L1455.7,946.3 L1456.1,955.3 L1456.6,965.8 L1457.1,977.7 L1457.6,990.6 L1458.1,1004.2 L1458.6,1018.2 L1459.1,1032.3 L1459.6,1046.2 L1460.0,1059.9 L1460.5,1073.1 L1461.0,1085.8 L1461.5,1097.9 L1462.0,1109.3 L1462.5,1120.0 L1463.0,1130.1 L1463.5,1139.5 L1463.9,1148.2 L1464.4,1156.4 L1464.9,1163.9 L1465.4,1170.9 L1465.9,1177.4 L1466.4,1183.4 L1466.9,1189.0 L1467.3,1194.1 L1467.8,1198.9 L1468.3,1203.3 L1468.8,1207.4 L1469.3,1211.2 L1469.8,1214.7 L1470.3,1217.9 L1470.8,1220.9 L1471.2,1223.7 L1471.7,1226.2 L1472.2,1228.6 L1472.7,1230.8 L1473.2,1232.9 L1473.7,1234.8 L1474.2,1236.5 L1474.7,1238.1 L1475.1,1239.6 L1475.6,1241.0 L1476.1,1242.3 L1476.6,1243.4 L1477.1,1244.5 L1477.6,1245.4 L1478.1,1246.3 L1478.6,1247.1 L1479.0,1247.7 L1479.5,1248.3 L1480.0,1248.7 L1480.5,1249.1 L1481.0,1249.4 L1481.5,1249.5 L1482.0,1249.6 L1482.4,1249.5 L1482.9,1249.3 L1483.4,1248.9 L1483.9,1248.4 L1484.4,1247.8 L1484.9,1247.0 L1485.4,1246.0 L1485.9,1244.9 L1486.3,1243.5 L1486.8,1242.0 L1487.3,1240.2 L1487.8,1238.2 L1488.3,1235.9 L1488.8,1233.4 L1489.3,1230.6 L1489.8,1227.5 L1490.2,1224.1 L1490.7,1220.5 L1491.2,1216.5 L1491.7,1212.2 L1492.2,1207.6 L1492.7,1202.8 L1493.2,1197.8 L1493.7,1192.7 L1494.1,1187.5 L1494.6,1182.4 L1495.1,1177.5 L1495.6,1172.9 L1496.1,1168.8 L1496.6,1165.3 L1497.1,1162.7 L1497.5,1160.9 L1498.0,1160.2 L1498.5,1160.6 L1499.0,1162.1 L1499.5,1164.6 L1500.0,1168.1 L1500.5,1172.3 L1501.0,1177.3 L1501.4,1182.7 L1501.9,1188.4 L1502.4,1194.4 L1502.9,1200.4 L1503.4,1206.4 L1503.9,1212.3 L1504.4,1218.0 L1504.9,1223.4 L1505.3,1228.6 L1505.8,1233.5 L1506.3,1238.1 L1506.8,1242.4 L1507.3,1246.4 L1507.8,1250.2 L1508.3,1253.7 L1508.8,1256.9 L1509.2,1259.9 L1509.7,1262.7 L1510.2,1265.3 L1510.7,1267.7 L1511.2,1269.9 L1511.7,1272.0 L1512.2,1273.9 L1512.6,1275.6 L1513.1,1277.2 L1513.6,1278.7 L1514.1,1280.1 L1514.6,1281.4 L1515.1,1282.6 L1515.6,1283.7 L1516.1,1284.7 L1516.5,1285.7 L1517.0,1286.5 L1517.5,1287.3 L1518.0,1288.1 L1518.5,1288.8 L1519.0,1289.4 L1519.5,1290.0 L1520.0,1290.5 L1520.4,1291.0 L1520.9,1291.5 L1521.4,1291.9 L1521.9,1292.4 L1522.4,1292.7 L1522.9,1293.1 L1523.4,1293.4 L1523.9,1293.7 L1524.3,1294.0 L1524.8,1294.3 L1525.3,1294.6 L1525.8,1294.8 L1526.3,1295.1 L1526.8,1295.3 L1527.3,1295.5 L1527.7,1295.7 L1528.2,1296.0 L1528.7,1296.1 L1529.2,1296.3 L1529.7,1296.5 L1530.2,1296.7 L1530.7,1296.8 L1531.2,1297.0 L1531.6,1297.1 L1532.1,1297.2 L1532.6,1297.3 L1533.1,1297.4 L1533.6,1297.4 L1534.1,1297.5 L1534.6,1297.5 L1535.1,1297.5 L1535.5,1297.4 L1536.0,1297.3 L1536.5,1297.2 L1537.0,1297.1 L1537.5,1296.9 L1538.0,1296.6 L1538.5,1296.4 L1538.9,1296.0 L1539.4,1295.7 L1539.9,1295.2 L1540.4,1294.7 L1540.9,1294.1 L1541.4,1293.5 L1541.9,1292.8 L1542.4,1292.0 L1542.8,1291.1 L1543.3,1290.1 L1543.8,1289.0 L1544.3,1287.8 L1544.8,1286.5 L1545.3,1285.0 L1545.8,1283.4 L1546.3,1281.7 L1546.7,1279.8 L1547.2,1277.7 L1547.7,1275.5 L1548.2,1273.1 L1548.7,1270.5 L1549.2,1267.7 L1549.7,1264.8 L1550.2,1261.7 L1550.6,1258.4 L1551.1,1255.0 L1551.6,1251.5 L1552.1,1248.0 L1552.6,1244.5 L1553.1,1241.2 L1553.6,1238.0 L1554.0,1235.1 L1554.5,1232.7 L1555.0,1230.7 L1555.5,1229.3 L1556.0,1228.6 L1556.5,1228.6 L1557.0,1229.2 L1557.5,1230.6 L1557.9,1232.5 L1558.4,1235.0 L1558.9,1237.9 L1559.4,1241.1 L1559.9,1244.6 L1560.4,1248.3 L1560.9,1252.0 L1561.4,1255.6 L1561.8,1259.3 L1562.3,1262.8 L1562.8,1266.1 L1563.3,1269.3 L1563.8,1272.4 L1564.3,1275.2 L1564.8,1277.9 L1565.3,1280.4 L1565.7,1282.7 L1566.2,1284.9 L1566.7,1286.9 L1567.2,1288.7 L1567.7,1290.5 L1568.2,1292.1 L1568.7,1293.5 L1569.1,1294.9 L1569.6,1296.1 L1570.1,1297.3 L1570.6,1298.4 L1571.1,1299.4 L1571.6,1300.3 L1572.1,1301.1 L1572.6,1301.9 L1573.0,1302.6 L1573.5,1303.2 L1574.0,1303.8 L1574.5,1304.4 L1575.0,1304.9 L1575.5,1305.3 L1576.0,1305.7 L1576.5,1306.1 L1576.9,1306.5 L1577.4,1306.8 L1577.9,1307.0 L1578.4,1307.3 L1578.9,1307.5 L1579.4,1307.7 L1579.9,1307.8 L1580.4,1308.0 L1580.8,1308.1 L1581.3,1308.2 L1581.8,1308.2 L1582.3,1308.2 L1582.8,1308.3 L1583.3,1308.3 L1583.8,1308.2 L1584.2,1308.2 L1584.7,1308.1 L1585.2,1308.1 L1585.7,1308.0 L1586.2,1307.9 L1586.7,1307.8 L1587.2,1307.6 L1587.7,1307.5 L1588.1,1307.3 L1588.6,1307.2 L1589.1,1307.0 L1589.6,1306.8 L1590.1,1306.6 L1590.6,1306.4 L1591.1,1306.2 L1591.6,1306.0 L1592.0,1305.8 L1592.5,1305.6 L1593.0,1305.4 L1593.5,1305.2 L1594.0,1305.0 L1594.5,1304.8 L1595.0,1304.6 L1595.5,1304.4 L1595.9,1304.2 L1596.4,1304.1 L1596.9,1303.9 L1597.4,1303.7 L1597.9,1303.6 L1598.4,1303.5 L1598.9,1303.3 L1599.3,1303.2 L1599.8,1303.1 L1600.3,1302.9 L1600.8,1302.8 L1601.3,1302.7 L1601.8,1302.6 L1602.3,1302.5 L1602.8,1302.3 L1603.2,1302.2 L1603.7,1302.0 L1604.2,1301.9 L1604.7,1301.7 L1605.2,1301.5 L1605.7,1301.3 L1606.2,1301.0 L1606.7,1300.8 L1607.1,1300.4 L1607.6,1300.1 L1608.1,1299.7 L1608.6,1299.3 L1609.1,1298.8 L1609.6,1298.3 L1610.1,1297.7 L1610.6,1297.1 L1611.0,1296.4 L1611.5,1295.6 L1612.0,1294.7 L1612.5,1293.8 L1613.0,1292.8 L1613.5,1291.6 L1614.0,1290.4 L1614.4,1289.0 L1614.9,1287.6 L1615.4,1286.0 L1615.9,1284.2 L1616.4,1282.3 L1616.9,1280.2 L1617.4,1278.0 L1617.9,1275.5 L1618.3,1272.9 L1618.8,1270.0 L1619.3,1267.0 L1619.8,1263.7 L1620.3,1260.2 L1620.8,1256.4 L1621.3,1252.5 L1621.8,1248.4 L1622.2,1244.1 L1622.7,1239.8 L1623.2,1235.4 L1623.7,1231.0 L1624.2,1226.8 L1624.7,1222.9 L1625.2,1219.3 L1625.7,1216.3 L1626.1,1213.8 L1626.6,1212.1 L1627.1,1211.2 L1627.6,1211.1 L1628.1,1211.9 L1628.6,1213.6 L1629.1,1215.9 L1629.5,1219.0 L1630.0,1222.5 L1630.5,1226.5 L1631.0,1230.8 L1631.5,1235.3 L1632.0,1239.8 L1632.5,1244.3 L1633.0,1248.7 L1633.4,1253.0 L1633.9,1257.1 L1634.4,1261.1 L1634.9,1264.8 L1635.4,1268.3 L1635.9,1271.6 L1636.4,1274.6 L1636.9,1277.5 L1637.3,1280.2 L1637.8,1282.6 L1638.3,1284.9 L1638.8,1287.1 L1639.3,1289.0 L1639.8,1290.9 L1640.3,1292.6 L1640.7,1294.1 L1641.2,1295.6 L1641.7,1296.9 L1642.2,1298.2 L1642.7,1299.4 L1643.2,1300.4 L1643.7,1301.4 L1644.2,1302.4 L1644.6,1303.2 L1645.1,1304.0 L1645.6,1304.8 L1646.1,1305.5 L1646.6,1306.1 L1647.1,1306.7 L1647.6,1307.3 L1648.1,1307.8 L1648.5,1308.3 L1649.0,1308.8 L1649.5,1309.2 L1650.0,1309.6 L1650.5,1309.9 L1651.0,1310.2 L1651.5,1310.5 L1652.0,1310.8 L1652.4,1311.1 L1652.9,1311.3 L1653.4,1311.5 L1653.9,1311.7 L1654.4,1311.9 L1654.9,1312.0 L1655.4,1312.2 L1655.8,1312.3 L1656.3,1312.4 L1656.8,1312.5 L1657.3,1312.6 L1657.8,1312.6 L1658.3,1312.7 L1658.8,1312.7 L1659.3,1312.7 L1659.7,1312.8 L1660.2,1312.7 L1660.7,1312.7 L1661.2,1312.7 L1661.7,1312.6 L1662.2,1312.6 L1662.7,1312.5 L1663.2,1312.4 L1663.6,1312.3 L1664.1,1312.2 L1664.6,1312.1 L1665.1,1312.0 L1665.6,1311.9 L1666.1,1311.7 L1666.6,1311.5 L1667.1,1311.3 L1667.5,1311.2 L1668.0,1310.9 L1668.5,1310.7 L1669.0,1310.5 L1669.5,1310.3 L1670.0,1310.0 L1670.5,1309.7 L1670.9,1309.4 L1671.4,1309.1 L1671.9,1308.8 L1672.4,1308.5 L1672.9,1308.1 L1673.4,1307.8 L1673.9,1307.4 L1674.4,1307.0 L1674.8,1306.6 L1675.3,1306.1 L1675.8,1305.7 L1676.3,1305.2 L1676.8,1304.7 L1677.3,1304.2 L1677.8,1303.7 L1678.3,1303.1 L1678.7,1302.5 L1679.2,1301.9 L1679.7,1301.3 L1680.2,1300.7 L1680.7,1300.0 L1681.2,1299.3 L1681.7,1298.6 L1682.2,1297.8 L1682.6,1297.1 L1683.1,1296.3 L1683.6,1295.5 L1684.1,1294.6 L1684.6,1293.7 L1685.1,1292.8 L1685.6,1291.9 L1686.0,1291.0 L1686.5,1290.0 L1687.0,1289.0 L1687.5,1287.9 L1688.0,1286.9 L1688.5,1285.8 L1689.0,1284.7 L1689.5,1283.5 L1689.9,1282.4 L1690.4,1281.2 L1690.9,1280.0 L1691.4,1278.7 L1691.9,1277.5 L1692.4,1276.2 L1692.9,1274.9 L1693.4,1273.6 L1693.8,1272.2 L1694.3,1270.8 L1694.8,1269.4 L1695.3,1268.0 L1695.8,1266.5 L1696.3,1265.0 L1696.8,1263.4 L1697.3,1261.8 L1697.7,1260.2 L1698.2,1258.5 L1698.7,1256.7 L1699.2,1254.8 L1699.7,1252.8 L1700.2,1250.7 L1700.7,1248.5 L1701.1,1246.2 L1701.6,1243.7 L1702.1,1241.0 L1702.6,1238.2 L1703.1,1235.1 L1703.6,1231.9 L1704.1,1228.4 L1704.6,1224.7 L1705.0,1220.7 L1705.5,1216.6 L1706.0,1212.2 L1706.5,1207.7 L1707.0,1203.0 L1707.5,1198.2 L1708.0,1193.4 L1708.5,1188.6 L1708.9,1184.1 L1709.4,1179.8 L1709.9,1176.0 L1710.4,1172.8 L1710.9,1170.3 L1711.4,1168.5 L1711.9,1167.6 L1712.4,1167.6 L1712.8,1168.4 L1713.3,1170.0 L1713.8,1172.4 L1714.3,1175.3 L1714.8,1178.7 L1715.3,1182.4 L1715.8,1186.2 L1716.2,1190.1 L1716.7,1194.0 L1717.2,1197.7 L1717.7,1201.2 L1718.2,1204.4 L1718.7,1207.3 L1719.2,1209.8 L1719.7,1212.0 L1720.1,1213.8 L1720.6,1215.1 L1721.1,1216.1 L1721.6,1216.6 L1722.1,1216.8 L1722.6,1216.5 L1723.1,1215.8 L1723.6,1214.7 L1724.0,1213.2 L1724.5,1211.2 L1725.0,1208.9 L1725.5,1206.2 L1726.0,1203.1 L1726.5,1199.6 L1727.0,1195.8 L1727.4,1191.8 L1727.9,1187.6 L1728.4,1183.2 L1728.9,1178.8 L1729.4,1174.5 L1729.9,1170.4 L1730.4,1166.6 L1730.9,1163.2 L1731.3,1160.3 L1731.8,1158.0 L1732.3,1156.4 L1732.8,1155.4 L1733.3,1155.0 L1733.8,1155.2 L1734.3,1155.8 L1734.8,1156.7 L1735.2,1157.8 L1735.7,1159.0 L1736.2,1160.2 L1736.7,1161.2 L1737.2,1162.0 L1737.7,1162.6 L1738.2,1163.0 L1738.7,1163.1 L1739.1,1163.1 L1739.6,1162.9 L1740.1,1162.8 L1740.6,1162.8 L1741.1,1162.9 L1741.6,1163.5 L1742.1,1164.4 L1742.5,1165.9 L1743.0,1168.1 L1743.5,1170.8 L1744.0,1174.1 L1744.5,1178.0 L1745.0,1182.3 L1745.5,1187.1 L1746.0,1192.1 L1746.4,1197.2 L1746.9,1202.5 L1747.4,1207.7 L1747.9,1212.8 L1748.4,1217.8 L1748.9,1222.6 L1749.4,1227.1 L1749.9,1231.4 L1750.3,1235.4 L1750.8,1239.2 L1751.3,1242.7 L1751.8,1245.9 L1752.3,1248.9 L1752.8,1251.7 L1753.3,1254.3 L1753.8,1256.6 L1754.2,1258.8 L1754.7,1260.7 L1755.2,1262.5 L1755.7,1264.2 L1756.2,1265.7 L1756.7,1267.0 L1757.2,1268.3 L1757.6,1269.4 L1758.1,1270.4 L1758.6,1271.4 L1759.1,1272.2 L1759.6,1273.0 L1760.1,1273.7 L1760.6,1274.3 L1761.1,1274.9 L1761.5,1275.4 L1762.0,1275.9 L1762.5,1276.4 L1763.0,1276.8 L1763.5,1277.2 L1764.0,1277.5 L1764.5,1277.9 L1765.0,1278.2 L1765.4,1278.5 L1765.9,1278.8 L1766.4,1279.1 L1766.9,1279.4 L1767.4,1279.6 L1767.9,1279.9 L1768.4,1280.1 L1768.9,1280.4 L1769.3,1280.6 L1769.8,1280.8 L1770.3,1281.0 L1770.8,1281.2 L1771.3,1281.4 L1771.8,1281.5 L1772.3,1281.7 L1772.7,1281.8 L1773.2,1281.9 L1773.7,1282.0 L1774.2,1282.0 L1774.7,1282.0 L1775.2,1281.9 L1775.7,1281.9 L1776.2,1281.7 L1776.6,1281.6 L1777.1,1281.3 L1777.6,1281.0 L1778.1,1280.7 L1778.6,1280.3 L1779.1,1279.8 L1779.6,1279.2 L1780.1,1278.6 L1780.5,1277.9 L1781.0,1277.1 L1781.5,1276.1 L1782.0,1275.1 L1782.5,1274.0 L1783.0,1272.7 L1783.5,1271.3 L1784.0,1269.8 L1784.4,1268.1 L1784.9,1266.3 L1785.4,1264.3 L1785.9,1262.1 L1786.4,1259.7 L1786.9,1257.0 L1787.4,1254.2 L1787.8,1251.2 L1788.3,1247.9 L1788.8,1244.4 L1789.3,1240.6 L1789.8,1236.6 L1790.3,1232.4 L1790.8,1228.0 L1791.3,1223.5 L1791.7,1218.9 L1792.2,1214.2 L1792.7,1209.6 L1793.2,1205.2 L1793.7,1201.0 L1794.2,1197.2 L1794.7,1194.0 L1795.2,1191.4 L1795.6,1189.6 L1796.1,1188.6 L1796.6,1188.4 L1797.1,1189.1 L1797.6,1190.5 L1798.1,1192.7 L1798.6,1195.5 L1799.1,1198.8 L1799.5,1202.4 L1800.0,1206.3 L1800.5,1210.3 L1801.0,1214.3 L1801.5,1218.3 L1802.0,1222.1 L1802.5,1225.8 L1802.9,1229.2 L1803.4,1232.4 L1803.9,1235.4 L1804.4,1238.1 L1804.9,1240.6 L1805.4,1242.8 L1805.9,1244.8 L1806.4,1246.6 L1806.8,1248.1 L1807.3,1249.4 L1807.8,1250.5 L1808.3,1251.4 L1808.8,1252.1 L1809.3,1252.6 L1809.8,1252.9 L1810.3,1253.0 L1810.7,1253.0 L1811.2,1252.8 L1811.7,1252.4 L1812.2,1251.9 L1812.7,1251.1 L1813.2,1250.2 L1813.7,1249.1 L1814.2,1247.8 L1814.6,1246.4 L1815.1,1244.7 L1815.6,1242.8 L1816.1,1240.6 L1816.6,1238.3 L1817.1,1235.6 L1817.6,1232.7 L1818.0,1229.5 L1818.5,1226.0 L1819.0,1222.2 L1819.5,1218.1 L1820.0,1213.6 L1820.5,1208.7 L1821.0,1203.4 L1821.5,1197.7 L1821.9,1191.6 L1822.4,1185.0 L1822.9,1178.1 L1823.4,1170.8 L1823.9,1163.2 L1824.4,1155.2 L1824.9,1147.1 L1825.4,1138.9 L1825.8,1130.8 L1826.3,1122.9 L1826.8,1115.4 L1827.3,1108.5 L1827.8,1102.4 L1828.3,1097.3 L1828.8,1093.4 L1829.2,1090.7 L1829.7,1089.4 L1830.2,1089.3 L1830.7,1090.4 L1831.2,1092.6 L1831.7,1095.7 L1832.2,1099.4 L1832.7,1103.6 L1833.1,1108.1 L1833.6,1112.6 L1834.1,1116.9 L1834.6,1121.1 L1835.1,1124.8 L1835.6,1128.2 L1836.1,1131.0 L1836.6,1133.4 L1837.0,1135.2 L1837.5,1136.6 L1838.0,1137.5 L1838.5,1138.1 L1839.0,1138.3 L1839.5,1138.4 L1840.0,1138.4 L1840.5,1138.4 L1840.9,1138.5 L1841.4,1138.9 L1841.9,1139.6 L1842.4,1140.8 L1842.9,1142.3 L1843.4,1144.4 L1843.9,1146.8 L1844.3,1149.6 L1844.8,1152.8 L1845.3,1156.1 L1845.8,1159.6 L1846.3,1163.2 L1846.8,1166.8 L1847.3,1170.3 L1847.8,1173.7 L1848.2,1177.0 L1848.7,1180.1 L1849.2,1183.1 L1849.7,1185.8 L1850.2,1188.4 L1850.7,1190.8 L1851.2,1193.0 L1851.7,1195.1 L1852.1,1197.1 L1852.6,1198.9 L1853.1,1200.6 L1853.6,1202.2 L1854.1,1203.7 L1854.6,1205.1 L1855.1,1206.5 L1855.6,1207.7 L1856.0,1208.9 L1856.5,1210.0 L1857.0,1211.0 L1857.5,1212.0 L1858.0,1212.8 L1858.5,1213.6 L1859.0,1214.2 L1859.4,1214.8 L1859.9,1215.2 L1860.4,1215.5 L1860.9,1215.7 L1861.4,1215.7 L1861.9,1215.6 L1862.4,1215.3 L1862.9,1214.9 L1863.3,1214.2 L1863.8,1213.5 L1864.3,1212.5 L1864.8,1211.5 L1865.3,1210.3 L1865.8,1209.1 L1866.3,1207.8 L1866.8,1206.6 L1867.2,1205.5 L1867.7,1204.5 L1868.2,1203.9 L1868.7,1203.6 L1869.2,1203.6 L1869.7,1204.2 L1870.2,1205.3 L1870.7,1206.9 L1871.1,1208.9 L1871.6,1211.5 L1872.1,1214.4 L1872.6,1217.7 L1873.1,1221.2 L1873.6,1224.9 L1874.1,1228.7 L1874.5,1232.5 L1875.0,1236.3 L1875.5,1240.0 L1876.0,1243.5 L1876.5,1247.0 L1877.0,1250.2 L1877.5,1253.3 L1878.0,1256.3 L1878.4,1259.0 L1878.9,1261.5 L1879.4,1263.9 L1879.9,1266.1 L1880.4,1268.2 L1880.9,1270.1 L1881.4,1271.8 L1881.9,1273.4 L1882.3,1274.9 L1882.8,1276.2 L1883.3,1277.4 L1883.8,1278.5 L1884.3,1279.5 L1884.8,1280.3 L1885.3,1281.0 L1885.8,1281.7 L1886.2,1282.2 L1886.7,1282.6 L1887.2,1282.9 L1887.7,1283.1 L1888.2,1283.2 L1888.7,1283.2 L1889.2,1283.1 L1889.6,1282.9 L1890.1,1282.5 L1890.6,1282.0 L1891.1,1281.4 L1891.6,1280.7 L1892.1,1279.8 L1892.6,1278.8 L1893.1,1277.6 L1893.5,1276.2 L1894.0,1274.7 L1894.5,1273.1 L1895.0,1271.3 L1895.5,1269.3 L1896.0,1267.1 L1896.5,1264.8 L1897.0,1262.4 L1897.4,1259.9 L1897.9,1257.3 L1898.4,1254.7 L1898.9,1252.1 L1899.4,1249.6 L1899.9,1247.4 L1900.4,1245.4 L1900.9,1243.8 L1901.3,1242.6 L1901.8,1241.9 L1902.3,1241.8 L1902.8,1242.2 L1903.3,1243.2 L1903.8,1244.7 L1904.3,1246.7 L1904.7,1249.1 L1905.2,1251.8 L1905.7,1254.8 L1906.2,1258.0 L1906.7,1261.2 L1907.2,1264.4 L1907.7,1267.6 L1908.2,1270.8 L1908.6,1273.8 L1909.1,1276.7 L1909.6,1279.5 L1910.1,1282.2 L1910.6,1284.6 L1911.1,1287.0 L1911.6,1289.2 L1912.1,1291.2 L1912.5,1293.1 L1913.0,1294.9 L1913.5,1296.5 L1914.0,1298.1 L1914.5,1299.5 L1915.0,1300.9 L1915.5,1302.2 L1915.9,1303.3 L1916.4,1304.4 L1916.9,1305.5 L1917.4,1306.4 L1917.9,1307.3 L1918.4,1308.2 L1918.9,1309.0 L1919.4,1309.7 L1919.8,1310.4 L1920.3,1311.1 L1920.8,1311.7 L1921.3,1312.3 L1921.8,1312.9 L1922.3,1313.4 L1922.8,1313.9 L1923.3,1314.4 L1923.7,1314.8 L1924.2,1315.2 L1924.7,1315.6 L1925.2,1316.0 L1925.7,1316.4 L1926.2,1316.7 L1926.7,1317.0 L1927.2,1317.3 L1927.6,1317.6 L1928.1,1317.9 L1928.6,1318.2 L1929.1,1318.4 L1929.6,1318.7 L1930.1,1318.9 L1930.6,1319.1 L1931.0,1319.3 L1931.5,1319.5 L1932.0,1319.7 L1932.5,1319.8 L1933.0,1320.0 L1933.5,1320.1 L1934.0,1320.3 L1934.5,1320.4 L1934.9,1320.6 L1935.4,1320.7 L1935.9,1320.8 L1936.4,1320.9 L1936.9,1321.0 L1937.4,1321.1 L1937.9,1321.1 L1938.4,1321.2 L1938.8,1321.3 L1939.3,1321.3 L1939.8,1321.4 L1940.3,1321.4 L1940.8,1321.4 L1941.3,1321.4 L1941.8,1321.5 L1942.3,1321.5 L1942.7,1321.5 L1943.2,1321.4 L1943.7,1321.4 L1944.2,1321.4 L1944.7,1321.3 L1945.2,1321.3 L1945.7,1321.2 L1946.1,1321.2 L1946.6,1321.1 L1947.1,1321.0 L1947.6,1320.9 L1948.1,1320.7 L1948.6,1320.6 L1949.1,1320.4 L1949.6,1320.3 L1950.0,1320.1 L1950.5,1319.9 L1951.0,1319.6 L1951.5,1319.4 L1952.0,1319.1 L1952.5,1318.8 L1953.0,1318.5 L1953.5,1318.1 L1953.9,1317.7 L1954.4,1317.3 L1954.9,1316.8 L1955.4,1316.3 L1955.9,1315.8 L1956.4,1315.2 L1956.9,1314.5 L1957.4,1313.8 L1957.8,1313.1 L1958.3,1312.3 L1958.8,1311.4 L1959.3,1310.5 L1959.8,1309.5 L1960.3,1308.4 L1960.8,1307.2 L1961.2,1306.0 L1961.7,1304.7 L1962.2,1303.4 L1962.7,1302.1 L1963.2,1300.7 L1963.7,1299.3 L1964.2,1297.9 L1964.7,1296.6 L1965.1,1295.4 L1965.6,1294.3 L1966.1,1293.4 L1966.6,1292.7 L1967.1,1292.2 L1967.6,1292.0 L1968.1,1292.0 L1968.6,1292.3 L1969.0,1292.9 L1969.5,1293.6 L1970.0,1294.6 L1970.5,1295.7 L1971.0,1296.9 L1971.5,1298.2 L1972.0,1299.5 L1972.5,1300.9 L1972.9,1302.2 L1973.4,1303.5 L1973.9,1304.7 L1974.4,1305.9 L1974.9,1307.1 L1975.4,1308.1 L1975.9,1309.1 L1976.3,1310.0 L1976.8,1310.8 L1977.3,1311.6 L1977.8,1312.3 L1978.3,1313.0 L1978.8,1313.5 L1979.3,1314.1 L1979.8,1314.6 L1980.2,1315.0 L1980.7,1315.4 L1981.2,1315.8 L1981.7,1316.1 L1982.2,1316.3 L1982.7,1316.6 L1983.2,1316.8 L1983.7,1317.0 L1984.1,1317.1 L1984.6,1317.3 L1985.1,1317.4 L1985.6,1317.4 L1986.1,1317.5 L1986.6,1317.5 L1987.1,1317.5 L1987.6,1317.5 L1988.0,1317.5 L1988.5,1317.4 L1989.0,1317.4 L1989.5,1317.3 L1990.0,1317.2 L1990.5,1317.1 L1991.0,1316.9 L1991.4,1316.8 L1991.9,1316.6 L1992.4,1316.5 L1992.9,1316.3 L1993.4,1316.1 L1993.9,1315.9 L1994.4,1315.6 L1994.9,1315.4 L1995.3,1315.2 L1995.8,1314.9 L1996.3,1314.6 L1996.8,1314.4 L1997.3,1314.1 L1997.8,1313.8 L1998.3,1313.5 L1998.8,1313.3 L1999.2,1313.0 L1999.7,1312.7 L2000.2,1312.4 L2000.7,1312.2 L2001.2,1311.9 L2001.7,1311.6 L2002.2,1311.4 L2002.6,1311.1 L2003.1,1310.9 L2003.6,1310.7 L2004.1,1310.5 L2004.6,1310.3 L2005.1,1310.2 L2005.6,1310.0 L2006.1,1309.9 L2006.5,1309.8 L2007.0,1309.7 L2007.5,1309.7 L2008.0,1309.6 L2008.5,1309.6 L2009.0,1309.6 L2009.5,1309.6 L2010.0,1309.7 L2010.4,1309.7 L2010.9,1309.8 L2011.4,1309.8 L2011.9,1309.9 L2012.4,1310.0 L2012.9,1310.1 L2013.4,1310.2 L2013.9,1310.2 L2014.3,1310.3 L2014.8,1310.4 L2015.3,1310.4 L2015.8,1310.5 L2016.3,1310.5 L2016.8,1310.5 L2017.3,1310.5 L2017.7,1310.5 L2018.2,1310.4 L2018.7,1310.3 L2019.2,1310.2 L2019.7,1310.1 L2020.2,1309.9 L2020.7,1309.6 L2021.2,1309.4 L2021.6,1309.0 L2022.1,1308.6 L2022.6,1308.2 L2023.1,1307.7 L2023.6,1307.1 L2024.1,1306.5 L2024.6,1305.8 L2025.1,1305.0 L2025.5,1304.1 L2026.0,1303.1 L2026.5,1302.0 L2027.0,1300.9 L2027.5,1299.6 L2028.0,1298.2 L2028.5,1296.8 L2029.0,1295.2 L2029.4,1293.6 L2029.9,1291.9 L2030.4,1290.1 L2030.9,1288.4 L2031.4,1286.6 L2031.9,1284.9 L2032.4,1283.4 L2032.8,1281.9 L2033.3,1280.7 L2033.8,1279.8 L2034.3,1279.1 L2034.8,1278.8 L2035.3,1278.9 L2035.8,1279.3 L2036.3,1280.1 L2036.7,1281.2 L2037.2,1282.5 L2037.7,1284.1 L2038.2,1285.9 L2038.7,1287.7 L2039.2,1289.7 L2039.7,1291.7 L2040.2,1293.6 L2040.6,1295.6 L2041.1,1297.5 L2041.6,1299.3 L2042.1,1301.0 L2042.6,1302.6 L2043.1,1304.2 L2043.6,1305.6 L2044.1,1307.0 L2044.5,1308.3 L2045.0,1309.5 L2045.5,1310.6 L2046.0,1311.7" stroke="#101010" stroke-width="4.3"/>
</g>
<g fill="none" stroke="#000" stroke-width="4.8">
<rect x="293.2" y="37.3" width="1752.8" height="1298.2"/>
<line x1="266.5" y1="1335.5" x2="293" y2="1335.5"/>
<line x1="266.5" y1="1047.1" x2="293" y2="1047.1"/>
<line x1="266.5" y1="758.8" x2="293" y2="758.8"/>
<line x1="266.5" y1="470.4" x2="293" y2="470.4"/>
<line x1="266.5" y1="182.0" x2="293" y2="182.0"/>
<line x1="293.0" y1="1335.5" x2="293.0" y2="1362.5"/>
<line x1="487.8" y1="1335.5" x2="487.8" y2="1362.5"/>
<line x1="682.6" y1="1335.5" x2="682.6" y2="1362.5"/>
<line x1="877.3" y1="1335.5" x2="877.3" y2="1362.5"/>
<line x1="1072.1" y1="1335.5" x2="1072.1" y2="1362.5"/>
<line x1="1266.9" y1="1335.5" x2="1266.9" y2="1362.5"/>
<line x1="1461.7" y1="1335.5" x2="1461.7" y2="1362.5"/>
<line x1="1656.4" y1="1335.5" x2="1656.4" y2="1362.5"/>
<line x1="1851.2" y1="1335.5" x2="1851.2" y2="1362.5"/>
<line x1="2046.0" y1="1335.5" x2="2046.0" y2="1362.5"/>
</g>
<g font-family="'Liberation Sans', sans-serif" font-size="69.5" fill="#000">
<text transform="translate(267.5,1063.9) scale(0.9,1)" text-anchor="end" letter-spacing="7.2">2000</text>
<text transform="translate(267.5,775.5) scale(0.9,1)" text-anchor="end" letter-spacing="7.2">4000</text>
<text transform="translate(267.5,487.2) scale(0.9,1)" text-anchor="end" letter-spacing="7.2">6000</text>
<text transform="translate(267.5,198.8) scale(0.9,1)" text-anchor="end" letter-spacing="7.2">8000</text>
<text x="217.8" y="1353.3" text-anchor="middle">0</text>
<text transform="translate(301.5,1426.2) scale(0.9,1)" text-anchor="middle" letter-spacing="5.0">1900</text>
<text transform="translate(496.3,1426.2) scale(0.9,1)" text-anchor="middle" letter-spacing="5.0">1800</text>
<text transform="translate(691.1,1426.2) scale(0.9,1)" text-anchor="middle" letter-spacing="5.0">1700</text>
<text transform="translate(885.8,1426.2) scale(0.9,1)" text-anchor="middle" letter-spacing="5.0">1600</text>
<text transform="translate(1080.6,1426.2) scale(0.9,1)" text-anchor="middle" letter-spacing="5.0">1500</text>
<text transform="translate(1275.4,1426.2) scale(0.9,1)" text-anchor="middle" letter-spacing="5.0">1400</text>
<text transform="translate(1470.2,1426.2) scale(0.9,1)" text-anchor="middle" letter-spacing="5.0">1300</text>
<text transform="translate(1664.9,1426.2) scale(0.9,1)" text-anchor="middle" letter-spacing="5.0">1200</text>
<text transform="translate(1859.7,1426.2) scale(0.9,1)" text-anchor="middle" letter-spacing="5.0">1100</text>
<text transform="translate(2054.5,1426.2) scale(0.9,1)" text-anchor="middle" letter-spacing="5.0">1000</text>
</g>
<text x="909.3" y="1558.7" font-family="'Liberation Sans', sans-serif" font-size="69.05" fill="#000">Wavenumber / cm<tspan font-size="37.5" dy="-23.5">-1</tspan></text>
<text transform="translate(76.7,666) rotate(-90)" text-anchor="middle" font-family="'Liberation Sans', sans-serif" font-size="71.5" letter-spacing="-0.8" fill="#000">Intensity</text>
<g font-family="'Liberation Sans', sans-serif" font-size="69.2" fill="#000">
<line x1="1198" y1="123" x2="1334" y2="123" stroke="#1a1a1a" stroke-width="4.2"/>
<text x="1350" y="145.0" letter-spacing="0">Singlet (structure 1)</text>
<line x1="1198" y1="196" x2="1334" y2="196" stroke="#c81e2a" stroke-width="4.2"/>
<text x="1350" y="215.6" letter-spacing="0">Triplet</text>
<line x1="1198" y1="266" x2="1334" y2="266" stroke="#14148c" stroke-width="4.2"/>
<text x="1350" y="286.4" letter-spacing="0">Open (microsolvation)</text>
<line x1="1198" y1="338" x2="1334" y2="338" stroke="#40dcc8" stroke-width="4.2"/>
<text x="1350" y="357.2" letter-spacing="0">Open</text>
</g>
</svg>
</body></html>
